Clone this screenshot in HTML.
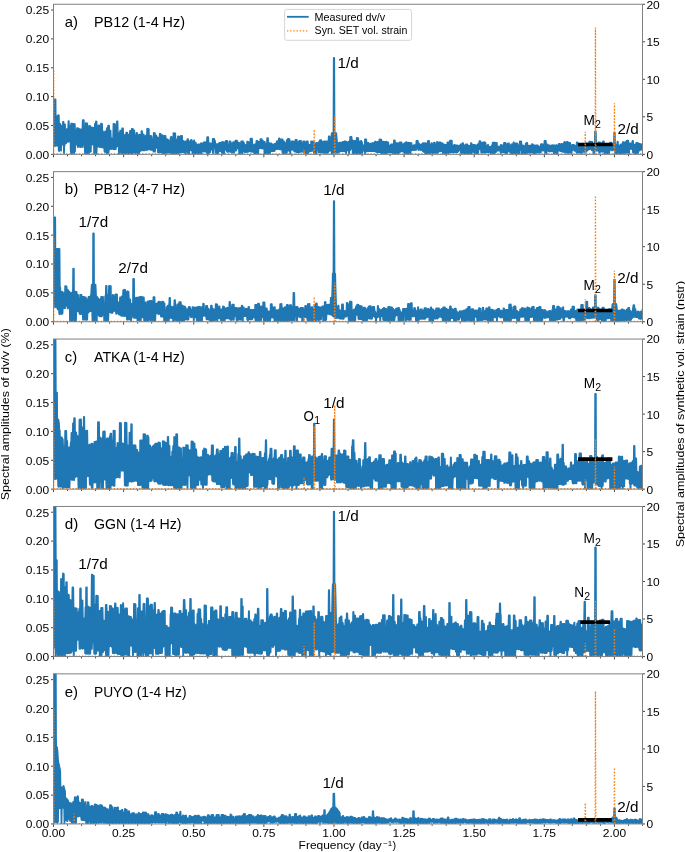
<!DOCTYPE html><html><head><meta charset="utf-8"><style>html,body{margin:0;padding:0;background:#fff;}svg{display:block;will-change:transform;}text{font-family:"Liberation Sans",sans-serif;fill:#000;}</style></head><body>
<svg width="685" height="852" viewBox="0 0 685 852">
<defs>
<clipPath id="c0"><rect x="53.50" y="4.25" width="589.00" height="150.10"/></clipPath>
<clipPath id="c1"><rect x="53.50" y="171.65" width="589.00" height="150.10"/></clipPath>
<clipPath id="c2"><rect x="53.50" y="339.05" width="589.00" height="150.10"/></clipPath>
<clipPath id="c3"><rect x="53.50" y="506.45" width="589.00" height="150.10"/></clipPath>
<clipPath id="c4"><rect x="53.50" y="673.85" width="589.00" height="150.10"/></clipPath>
</defs>
<g clip-path="url(#c0)">
<path d="M53.5,135.1 53.8,99.5 55.5,99.5 55.8,135.4 56.0,135.3 56.2,128.3 56.5,128.2 56.8,128.0 57.0,127.9 57.2,127.7 57.5,115.8 57.8,115.6 58.0,115.5 58.2,115.4 58.5,115.3 58.8,115.2 59.0,124.3 59.2,124.2 59.5,124.2 59.8,124.1 60.0,124.0 60.2,123.9 60.5,126.0 60.8,125.9 61.0,125.9 61.2,125.8 61.5,134.8 62.8,134.8 63.0,122.0 63.5,122.0 63.8,137.5 64.5,137.5 64.8,124.3 65.0,124.3 65.2,132.4 65.8,132.5 66.0,129.4 66.5,129.4 66.8,129.2 68.2,129.3 68.5,121.2 68.8,121.2 69.0,126.7 69.5,126.8 69.8,127.1 70.5,127.2 70.8,125.6 71.0,125.6 71.2,123.6 72.2,123.7 72.5,125.4 73.0,125.5 73.2,124.0 74.8,124.1 75.0,131.1 76.8,131.2 77.0,128.1 78.5,128.3 78.8,129.0 80.0,129.1 80.2,134.9 81.5,135.0 81.8,129.2 82.5,129.3 82.8,120.1 83.8,120.2 84.0,134.1 85.5,134.2 85.8,123.2 87.2,123.3 87.5,131.8 89.0,131.9 89.2,125.9 90.0,126.0 90.2,127.5 91.0,127.5 91.2,127.3 92.2,127.4 92.5,128.2 93.0,128.3 93.2,127.8 94.8,128.0 95.0,123.7 95.8,123.8 96.0,121.5 96.5,121.6 96.8,131.0 98.2,131.1 98.5,125.5 100.0,125.7 100.2,135.4 100.8,135.5 101.0,123.7 102.0,123.8 102.2,131.3 103.0,131.4 103.2,134.8 104.8,134.9 105.0,131.5 106.8,131.6 107.0,128.2 108.0,128.3 108.2,125.6 109.0,125.6 109.2,130.5 110.5,130.7 110.8,138.4 111.8,138.4 112.0,138.8 113.2,138.9 113.5,123.9 115.0,124.1 115.2,132.6 116.0,132.7 116.2,128.8 116.8,128.8 117.0,121.3 117.5,121.4 117.8,135.6 119.0,135.7 119.2,132.9 120.0,133.0 120.2,130.6 121.2,130.7 121.5,137.2 122.0,137.2 122.2,128.4 123.0,128.5 123.2,134.9 125.0,135.1 125.2,136.3 126.0,136.3 126.2,132.6 127.2,132.7 127.5,134.3 128.0,134.4 128.2,135.4 129.0,135.5 129.2,135.5 129.8,135.6 130.0,130.9 131.0,131.0 131.2,134.4 131.5,134.4 131.8,128.9 132.8,129.0 133.0,130.3 134.2,130.5 134.5,136.1 136.2,136.3 136.5,132.9 137.0,133.0 137.2,136.8 138.8,137.0 139.0,134.6 140.2,134.9 140.5,139.4 141.2,139.6 141.5,131.1 141.8,131.1 142.0,131.2 142.2,139.5 143.0,139.6 143.2,134.5 143.8,134.6 144.0,136.4 145.5,136.6 145.8,135.7 147.0,135.9 147.2,128.7 147.5,128.8 147.8,128.9 148.0,128.9 148.2,129.0 148.5,129.1 148.8,129.1 149.0,138.1 150.2,138.3 150.5,136.0 151.5,136.2 151.8,140.2 153.5,140.5 153.8,132.9 154.0,132.9 154.2,133.0 154.5,133.0 154.8,133.1 155.0,135.2 155.2,135.2 155.5,135.3 155.8,135.3 156.0,135.4 156.2,135.4 156.5,136.8 157.0,136.9 157.2,138.2 158.2,138.3 158.5,138.0 159.5,138.2 159.8,133.7 160.0,133.8 160.2,133.8 160.5,133.9 160.8,134.8 161.0,134.9 161.2,134.9 161.5,135.0 161.8,135.1 162.0,135.1 162.2,135.2 162.5,139.8 163.8,140.0 164.0,135.7 164.2,135.8 164.5,135.8 164.8,135.9 165.0,135.9 165.2,136.0 165.5,136.0 165.8,143.8 166.2,143.8 166.5,138.9 166.8,138.9 167.0,139.9 168.2,140.0 168.5,141.2 169.2,141.3 169.5,143.5 170.2,143.6 170.5,138.3 170.8,138.4 171.0,136.8 171.5,136.9 171.8,144.4 173.2,144.5 173.5,133.2 175.2,133.5 175.5,139.9 176.2,140.0 176.5,139.7 177.8,139.9 178.0,136.5 179.8,136.8 180.0,140.6 180.5,140.6 180.8,135.8 182.0,136.0 182.2,142.6 182.8,142.6 183.0,141.0 183.8,141.1 184.0,143.2 185.2,143.3 185.5,141.5 186.2,141.6 186.5,141.1 187.2,141.2 187.5,139.2 188.0,139.2 188.2,141.3 189.8,141.4 190.0,146.1 190.8,146.2 191.0,140.0 191.8,140.1 192.0,142.0 193.8,142.2 194.0,140.4 194.2,140.4 194.5,143.4 194.8,143.4 195.0,142.7 195.8,142.7 196.0,145.0 197.8,145.0 198.0,144.3 200.8,144.4 201.0,143.1 201.2,143.1 201.5,143.8 202.0,143.8 202.2,143.5 203.8,143.6 204.0,142.2 205.8,142.3 206.0,144.9 206.5,144.9 206.8,141.2 207.0,141.2 207.2,137.2 208.2,137.2 208.5,143.4 210.2,143.5 210.5,143.3 211.0,143.3 211.2,144.9 212.5,145.0 212.8,138.8 214.2,138.9 214.5,140.8 215.0,140.8 215.2,144.3 216.0,144.3 216.2,144.1 217.0,144.1 217.2,144.2 218.0,144.2 218.2,145.4 219.0,145.4 219.2,142.8 220.8,142.9 221.0,142.7 222.0,142.7 222.2,141.9 223.0,141.9 223.2,143.4 224.2,143.4 224.5,142.4 225.0,142.3 225.2,143.2 225.5,143.2 225.8,141.0 227.2,141.0 227.5,145.2 228.5,145.2 228.8,145.3 229.2,145.2 229.5,141.5 230.5,141.5 230.8,144.6 231.0,144.6 231.2,143.4 232.0,143.4 232.2,145.2 233.0,145.2 233.2,142.1 234.8,142.1 235.0,142.0 235.2,142.0 235.5,140.7 237.0,140.7 237.2,142.4 238.2,142.4 238.5,142.6 239.0,142.6 239.2,145.7 240.5,145.7 240.8,143.5 241.0,143.5 241.2,141.4 243.0,141.4 243.2,143.0 244.0,143.0 244.2,145.5 245.5,145.5 245.8,144.8 247.0,144.7 247.2,141.7 247.8,141.7 248.0,142.2 248.8,142.2 249.0,145.4 250.2,145.4 250.5,138.7 252.0,138.7 252.2,145.4 254.0,145.4 254.2,144.4 255.5,144.4 255.8,144.5 256.2,144.5 256.5,140.9 257.5,140.9 257.8,142.2 258.5,142.2 258.8,142.0 260.2,142.0 260.5,139.2 261.8,139.2 262.0,142.6 262.5,142.6 262.8,141.0 263.0,141.0 263.2,142.0 264.8,142.0 265.0,146.6 265.8,146.6 266.0,144.2 267.0,144.1 267.2,138.2 268.0,138.2 268.2,143.2 269.5,143.1 269.8,145.4 270.5,145.4 270.8,143.5 271.5,143.5 271.8,144.6 274.2,144.6 274.5,143.8 275.5,143.8 275.8,143.9 276.0,143.9 276.2,142.9 276.8,142.9 277.0,141.2 278.8,141.2 279.0,138.4 279.5,138.4 279.8,142.4 281.0,142.4 281.2,139.3 282.5,139.3 282.8,141.5 284.0,141.4 284.2,142.9 284.8,142.9 285.0,143.1 286.5,143.1 286.8,140.2 287.5,140.2 287.8,139.0 289.2,139.0 289.5,140.4 289.8,140.4 290.0,145.3 291.5,145.3 291.8,141.4 293.2,141.4 293.5,143.6 294.2,143.6 294.5,142.0 295.2,141.9 295.5,140.0 296.8,140.0 297.0,144.1 297.5,144.1 297.8,143.4 298.5,143.3 298.8,141.3 299.2,141.3 299.5,141.0 301.0,140.9 301.2,144.3 302.0,144.3 302.2,143.3 303.0,143.3 303.2,141.5 304.5,141.4 304.8,145.0 306.2,144.9 306.5,141.5 307.8,141.5 308.0,144.6 308.2,144.6 308.5,144.9 310.0,144.8 310.2,145.7 311.0,145.7 311.2,141.4 312.5,141.4 312.8,142.1 314.0,142.1 314.2,144.5 315.8,144.5 316.0,143.0 317.5,142.9 317.8,143.2 319.0,143.2 319.2,141.4 319.8,141.3 320.0,140.1 321.2,140.1 321.5,141.4 322.0,141.4 322.2,142.1 323.8,142.1 324.0,141.3 325.5,141.3 325.8,141.8 326.2,141.8 326.5,141.4 327.0,141.4 327.2,142.6 328.5,142.6 328.8,136.5 329.5,136.5 329.8,138.1 331.2,138.1 331.5,136.2 331.8,133.1 333.5,133.1 333.8,57.9 334.2,57.9 334.5,133.1 336.2,133.1 336.5,136.9 336.8,139.8 337.0,142.1 337.2,142.2 337.5,143.1 339.0,143.1 339.2,142.6 340.8,142.6 341.0,144.5 342.2,144.5 342.5,142.0 343.2,142.0 343.5,145.0 344.2,145.0 344.5,141.3 345.8,141.3 346.0,141.9 346.8,141.9 347.0,142.3 348.5,142.3 348.8,141.7 350.0,141.8 350.2,137.0 351.5,137.0 351.8,140.2 352.8,140.3 353.0,141.6 354.2,141.6 354.5,140.9 356.0,141.0 356.2,144.3 356.5,144.3 356.8,138.0 358.2,138.1 358.5,143.4 359.0,143.4 359.2,141.7 359.8,141.7 360.0,142.2 360.8,142.3 361.0,140.8 361.2,140.9 361.5,142.1 362.0,142.1 362.2,145.4 363.2,145.4 363.5,145.5 364.8,145.6 365.0,139.3 366.2,139.4 366.5,143.9 367.0,143.9 367.2,142.9 368.5,143.0 368.8,145.1 369.0,145.1 369.2,143.9 370.8,144.0 371.0,143.5 372.5,143.5 372.8,143.0 373.2,143.0 373.5,143.8 374.8,143.8 375.0,141.6 375.8,141.7 376.0,143.6 377.2,143.6 377.5,141.8 378.5,141.9 378.8,142.3 379.2,142.3 379.5,139.5 381.2,139.6 381.5,141.5 383.0,141.6 383.2,143.5 383.5,143.5 383.8,142.0 384.5,142.0 384.8,144.7 385.8,144.7 386.0,141.6 386.5,141.6 386.8,145.3 387.2,145.3 387.5,142.4 388.2,142.4 388.5,146.4 389.2,146.4 389.5,145.6 390.8,145.6 391.0,144.5 392.0,144.5 392.2,144.3 393.8,144.3 394.0,140.4 394.8,140.4 395.0,143.9 395.2,143.9 395.5,146.3 395.8,146.3 396.0,143.1 397.5,143.2 397.8,143.7 398.5,143.7 398.8,144.2 399.2,144.2 399.5,142.5 400.2,142.5 400.5,142.3 401.5,142.3 401.8,146.6 402.5,146.6 402.8,144.3 404.0,144.3 404.2,143.3 405.2,143.3 405.5,142.8 405.8,142.8 406.0,142.1 406.5,142.1 406.8,144.7 408.0,144.7 408.2,142.7 409.2,142.8 409.5,144.4 409.8,144.4 410.0,143.0 411.5,143.1 411.8,146.1 413.5,146.1 413.8,145.2 416.2,145.2 416.5,140.9 417.8,141.0 418.0,143.2 418.8,143.2 419.0,144.5 420.0,144.5 420.2,144.6 421.2,144.6 421.5,144.3 422.5,144.3 422.8,143.1 423.5,143.1 423.8,144.3 424.5,144.3 424.8,143.2 426.5,143.3 426.8,144.4 427.8,144.4 428.0,140.8 429.0,140.8 429.2,145.2 430.2,145.2 430.5,144.3 431.2,144.4 431.5,143.2 432.0,143.2 432.2,145.7 433.8,145.7 434.0,142.6 434.8,142.6 435.0,144.4 436.2,144.4 436.5,147.0 436.8,147.0 437.0,142.0 437.2,142.0 437.5,143.9 438.5,143.9 438.8,142.5 440.5,142.5 440.8,145.2 441.5,145.2 441.8,143.2 442.5,143.2 442.8,144.4 443.8,144.4 444.0,144.7 445.0,144.7 445.2,145.0 446.2,145.0 446.5,145.3 447.2,145.4 447.5,142.4 449.0,142.4 449.2,143.2 449.8,143.2 450.0,140.6 451.8,140.6 452.0,148.1 453.2,148.1 453.5,145.4 454.0,145.4 454.2,144.9 455.0,144.9 455.2,145.7 456.0,145.7 456.2,145.3 457.5,145.3 457.8,147.8 458.5,147.8 458.8,146.0 460.2,146.0 460.5,144.5 462.2,144.5 462.5,143.1 463.0,143.1 463.2,145.0 463.8,145.0 464.0,146.4 465.5,146.4 465.8,144.3 467.2,144.4 467.5,145.7 469.0,145.7 469.2,146.0 470.8,146.0 471.0,143.1 471.5,143.1 471.8,146.1 472.8,146.1 473.0,144.8 474.8,144.8 475.0,145.4 477.5,145.5 477.8,144.2 479.2,144.2 479.5,141.2 480.2,141.2 480.5,143.3 481.0,143.3 481.2,142.7 482.5,142.7 482.8,145.5 483.8,145.5 484.0,142.1 484.8,142.1 485.0,143.0 485.5,143.0 485.8,146.2 487.5,146.2 487.8,144.9 488.2,144.9 488.5,147.2 489.5,147.2 489.8,146.9 491.5,146.9 491.8,145.5 492.5,145.5 492.8,142.7 494.2,142.7 494.5,142.6 495.0,142.6 495.2,144.4 495.8,144.4 496.0,142.9 496.8,142.9 497.0,146.6 498.5,146.6 498.8,146.7 500.5,146.7 500.8,144.9 501.2,144.9 501.5,146.9 503.0,146.9 503.2,144.8 503.8,144.8 504.0,143.0 505.5,143.0 505.8,145.6 507.2,145.6 507.5,143.6 507.8,143.6 508.0,143.5 509.0,143.5 509.2,146.2 510.5,146.2 510.8,145.4 511.0,145.4 511.2,144.3 512.5,144.3 512.8,145.3 513.2,145.3 513.5,142.4 513.8,142.4 514.0,143.6 515.2,143.6 515.5,143.5 517.2,143.5 517.5,145.1 518.2,145.1 518.5,147.6 519.5,147.6 519.8,141.3 521.2,141.3 521.5,145.4 523.0,145.4 523.2,146.6 523.8,146.6 524.0,146.1 525.5,146.1 525.8,143.6 526.2,143.6 526.5,143.0 527.2,143.0 527.5,146.4 528.8,146.4 529.0,145.7 531.8,145.7 532.0,144.2 532.5,144.2 532.8,145.2 534.2,145.2 534.5,145.6 535.8,145.6 536.0,145.4 537.8,145.4 538.0,146.4 539.0,146.4 539.2,147.4 540.8,147.4 541.0,144.1 542.2,144.1 542.5,145.7 542.8,145.7 543.0,144.7 543.2,144.7 543.5,147.0 544.2,147.0 544.5,141.0 545.8,141.0 546.0,146.5 546.2,146.5 546.5,144.3 547.5,144.3 547.8,145.4 549.5,145.4 549.8,146.4 551.0,146.4 551.2,145.5 552.2,145.5 552.5,145.1 553.0,145.1 553.2,145.5 553.8,145.5 554.0,145.4 555.0,145.4 555.2,147.6 556.0,147.6 556.2,145.1 556.8,145.1 557.0,145.9 558.5,145.9 558.8,144.0 559.8,144.0 560.0,144.9 561.2,144.9 561.5,144.0 562.0,143.9 562.2,144.2 563.5,144.2 563.8,143.6 564.0,143.6 564.2,142.1 564.8,142.0 565.0,142.9 565.8,142.9 566.0,142.9 566.5,142.9 566.8,142.0 567.8,142.0 568.0,144.2 568.5,144.2 568.8,143.0 570.2,143.0 570.5,147.1 572.0,147.1 572.2,144.8 574.0,144.8 574.2,146.8 575.2,146.8 575.5,145.8 576.5,145.8 576.8,142.3 577.5,142.3 577.8,144.3 578.5,144.3 578.8,144.3 579.5,144.2 579.8,145.2 581.0,145.2 581.2,144.2 582.0,144.2 582.2,144.9 583.8,144.9 584.0,145.2 585.2,145.2 585.5,143.5 587.0,143.5 587.2,145.8 587.8,145.8 588.0,144.1 589.0,144.1 589.2,141.6 590.2,141.6 590.5,141.8 592.2,141.8 592.5,143.9 593.0,143.9 593.2,144.3 594.8,144.3 595.0,131.3 595.8,131.3 596.0,139.5 596.2,144.7 597.2,144.7 597.5,146.0 597.8,146.7 598.0,146.7 598.2,142.5 599.8,142.5 600.0,142.6 600.8,142.6 601.0,145.4 602.2,145.4 602.5,144.8 602.8,144.8 603.0,141.5 603.8,141.5 604.0,145.1 605.0,145.1 605.2,146.4 606.8,146.4 607.0,145.4 608.5,145.4 608.8,144.1 609.8,144.1 610.0,142.7 611.5,142.6 611.8,146.2 612.2,146.2 612.5,145.5 612.8,145.4 613.2,145.4 613.5,144.1 614.0,144.1 614.2,133.0 614.8,133.0 615.0,144.8 616.0,144.8 616.2,145.2 617.2,145.1 617.5,141.7 617.8,141.7 618.0,145.3 619.2,145.3 619.5,146.2 620.5,146.2 620.8,144.4 621.2,144.4 621.5,145.8 622.5,145.8 622.8,142.2 624.0,142.2 624.2,144.3 625.5,144.3 625.8,142.0 626.5,142.0 626.8,140.7 628.2,140.6 628.5,143.2 629.0,143.2 629.2,143.7 630.2,143.7 630.5,143.5 632.2,143.5 632.5,140.8 633.0,140.8 633.2,145.1 634.2,145.1 634.5,144.7 636.0,144.7 636.2,143.0 637.8,143.0 638.0,143.7 639.2,143.7 639.5,146.9 639.8,146.9 640.0,144.1 641.2,144.1 641.5,144.8 641.8,144.8 642.0,144.7 642.5,144.7 642.5,149.5 641.5,149.6 641.2,149.2 640.0,149.2 639.8,150.6 639.5,150.6 639.2,149.0 638.2,149.0 638.0,154.3 634.8,154.3 634.5,152.5 634.2,152.7 634.0,152.7 633.8,152.8 633.5,152.5 633.2,152.7 633.0,152.5 632.8,148.1 632.5,148.5 632.2,148.9 632.0,148.9 631.8,149.0 631.5,148.9 630.5,148.9 630.2,149.0 629.2,149.0 629.0,154.3 628.8,148.8 628.5,148.8 628.2,148.4 628.0,148.5 627.8,148.9 627.5,148.5 627.2,152.7 627.0,152.7 626.8,152.8 626.5,152.7 626.2,152.7 626.0,152.7 625.8,152.5 625.5,152.6 625.2,150.0 625.0,150.3 624.8,154.3 624.5,150.1 624.2,150.3 624.0,150.4 623.8,150.2 623.5,150.7 623.2,150.6 623.0,153.2 622.8,153.2 622.5,153.1 622.2,153.2 621.0,153.3 620.8,153.2 620.5,153.5 620.2,154.3 620.0,153.4 619.0,153.3 618.8,153.4 618.5,153.4 618.2,153.5 617.8,153.4 617.5,153.3 617.2,153.4 616.8,153.4 616.5,153.3 615.5,153.4 615.2,153.4 615.0,149.6 614.8,149.4 614.5,149.8 614.2,149.4 614.0,149.7 613.8,149.7 613.5,149.3 613.2,150.3 611.8,150.3 611.5,149.9 611.2,149.5 611.0,149.9 610.8,149.1 610.5,149.7 610.2,149.5 610.0,149.6 609.8,149.8 609.5,149.6 609.2,153.5 609.0,153.3 608.8,153.3 608.5,153.4 608.2,153.5 608.0,153.4 607.2,153.4 607.0,153.5 606.8,153.5 606.5,153.4 606.0,153.4 605.8,153.3 605.5,153.3 605.2,150.6 605.0,154.3 604.8,150.5 604.5,154.3 604.2,151.1 604.0,150.8 603.8,150.7 603.5,150.6 603.2,150.8 603.0,151.0 602.8,150.5 602.5,151.5 602.2,151.7 602.0,151.4 601.8,151.6 601.5,151.5 601.2,151.6 601.0,151.4 600.8,151.6 600.5,151.6 600.2,151.7 600.0,151.4 599.8,151.3 599.5,154.3 599.2,151.3 599.0,151.6 598.8,148.4 598.5,149.3 598.2,148.4 598.0,150.5 596.2,150.5 596.0,148.4 595.8,149.2 595.5,149.9 595.2,150.2 595.0,150.2 594.8,149.9 594.5,149.5 594.2,149.7 594.0,154.3 593.8,150.1 593.5,154.3 593.2,149.7 593.0,150.2 592.8,150.0 592.5,150.2 592.2,150.2 592.0,149.7 591.8,150.2 591.5,148.4 591.2,149.1 591.0,148.3 590.8,148.6 590.5,148.7 590.2,148.6 590.0,149.0 589.8,148.6 589.5,149.2 589.2,148.4 589.0,149.2 588.8,149.4 588.5,149.2 588.0,149.2 587.8,150.1 587.2,150.1 587.0,149.3 586.8,148.9 586.5,151.7 586.2,151.5 586.0,151.6 585.8,151.8 585.5,151.6 585.2,151.8 585.0,151.7 584.8,151.8 584.2,151.8 584.0,151.9 583.8,151.8 583.5,151.8 583.2,151.8 583.0,151.6 582.5,151.6 582.2,151.8 582.0,151.7 581.8,151.6 581.5,154.3 581.2,151.8 581.0,151.6 580.8,151.7 580.5,152.8 580.2,152.8 580.0,152.7 579.8,152.6 579.5,152.5 579.2,152.7 579.0,152.7 578.8,152.8 578.5,152.6 578.2,152.6 578.0,152.5 577.8,152.7 577.5,152.8 577.2,152.7 577.0,152.8 576.8,152.8 576.5,152.7 576.2,150.4 576.0,150.3 575.5,150.3 575.2,150.6 575.0,150.9 574.8,150.6 574.2,150.6 574.0,149.6 572.2,149.6 572.0,150.7 571.8,150.7 571.5,154.3 571.2,150.7 570.5,150.7 570.2,148.7 570.0,152.5 569.8,152.5 569.5,152.5 569.2,152.4 569.0,152.2 568.8,152.5 568.5,152.3 568.2,152.3 568.0,152.4 567.8,154.3 567.5,152.3 567.2,152.3 567.0,152.4 566.8,152.3 566.5,152.5 566.2,152.2 566.0,152.4 565.8,152.6 565.5,152.3 565.2,152.5 565.0,152.4 564.8,151.9 564.5,151.6 564.2,151.6 564.0,151.9 563.8,151.9 563.5,151.6 563.2,151.8 563.0,151.5 562.8,151.9 562.5,151.9 562.2,151.5 562.0,150.7 561.8,150.9 561.5,150.8 561.2,150.6 561.0,151.0 560.8,150.9 560.5,151.0 560.2,150.7 560.0,150.9 559.8,150.5 559.5,150.6 559.2,150.6 559.0,150.3 558.8,150.6 558.5,150.5 558.2,150.4 558.0,150.8 557.8,150.4 557.5,153.4 557.0,153.4 556.8,153.3 556.5,153.4 556.2,153.4 556.0,153.4 555.8,153.3 555.5,153.4 555.2,153.4 555.0,153.3 554.8,153.4 554.5,153.5 554.2,153.4 554.0,153.5 553.8,151.4 553.5,151.4 553.2,151.1 553.0,151.3 552.8,150.9 552.5,151.3 552.2,150.9 552.0,151.0 551.8,151.2 551.5,150.9 551.2,151.0 550.8,151.0 550.5,151.3 550.2,151.0 550.0,151.0 549.8,151.2 549.5,151.5 549.2,151.4 549.0,151.0 548.8,151.1 548.5,151.1 548.2,149.9 547.8,149.9 547.5,149.7 547.2,149.3 546.8,149.3 546.5,154.3 546.2,150.6 546.0,150.4 545.8,150.0 545.5,149.8 545.2,154.3 545.0,150.3 544.8,150.4 544.5,150.6 544.2,150.7 543.5,150.7 543.2,150.1 543.0,149.9 542.8,150.1 542.5,150.6 542.2,150.2 542.0,150.0 541.8,150.2 541.5,150.4 541.2,150.4 541.0,149.9 540.8,152.5 540.5,152.6 540.2,152.6 540.0,152.4 539.8,152.4 539.5,152.5 539.2,152.6 539.0,152.6 538.8,152.7 538.5,152.6 538.2,152.5 538.0,152.5 537.8,152.4 537.5,152.6 537.2,152.7 537.0,152.6 536.8,152.6 536.5,152.8 536.2,152.7 536.0,152.5 535.8,152.6 535.5,152.5 535.2,153.4 534.0,153.3 533.8,154.3 533.5,152.5 533.0,152.5 532.8,152.4 532.5,152.4 532.2,152.6 532.0,152.5 531.5,152.4 531.2,152.7 531.0,152.6 530.8,152.5 530.5,152.7 530.0,152.6 529.8,152.7 529.5,152.7 529.2,152.6 529.0,152.5 528.8,152.7 528.5,152.6 528.2,150.4 528.0,150.4 527.5,150.4 527.2,150.1 527.0,150.0 526.8,154.3 526.5,154.2 522.0,154.2 521.8,149.9 521.5,149.9 521.2,149.5 521.0,149.7 520.8,149.8 520.5,149.5 520.2,149.4 520.0,149.6 519.8,149.9 519.5,154.3 515.5,154.3 515.2,152.8 515.0,152.6 514.8,152.7 514.5,152.9 514.2,152.8 514.0,152.7 513.8,152.8 513.5,154.3 510.5,154.3 510.2,151.0 510.0,151.3 509.8,151.5 509.5,151.3 509.2,151.1 509.0,151.4 508.8,151.0 508.5,151.2 508.2,151.1 508.0,151.0 507.8,151.1 507.5,151.5 507.2,153.2 507.0,153.3 506.8,153.2 506.5,153.3 506.2,153.2 506.0,153.4 505.8,153.3 505.5,152.2 505.2,152.4 505.0,152.4 504.8,152.0 504.5,152.1 504.2,152.0 504.0,152.0 503.8,152.3 503.5,152.1 503.2,152.3 503.0,152.1 502.8,152.1 502.5,152.1 502.2,152.0 502.0,152.0 501.8,152.1 501.5,152.1 501.2,152.2 501.0,152.0 500.8,154.3 500.5,150.5 498.8,150.5 498.5,150.5 497.0,150.5 496.8,148.6 496.5,149.0 496.2,151.7 496.0,152.0 495.8,151.5 495.5,151.8 495.2,151.9 495.0,151.7 494.8,151.8 494.5,153.9 494.2,154.0 491.8,154.0 491.5,153.9 490.8,154.0 490.5,151.9 490.2,151.8 490.0,151.8 489.8,152.1 489.5,152.1 489.2,151.7 489.0,152.0 488.8,152.1 488.5,151.8 488.2,152.1 488.0,151.8 487.8,152.1 487.5,152.0 487.2,152.1 487.0,152.1 486.8,152.0 486.5,151.9 486.2,152.1 486.0,152.7 485.8,152.7 485.5,152.5 485.2,152.5 485.0,152.7 484.8,152.5 484.5,152.6 484.2,152.7 484.0,152.7 483.8,152.7 483.5,152.6 483.2,152.7 483.0,152.6 482.8,152.6 482.5,152.5 482.2,152.5 482.0,152.4 481.8,152.4 481.5,152.6 481.2,152.6 481.0,148.8 480.5,148.8 480.2,147.8 480.0,147.8 479.8,148.0 479.5,148.0 479.2,149.3 478.5,149.3 478.2,152.9 478.0,153.1 477.8,152.9 477.5,153.0 477.2,152.9 477.0,153.0 476.8,152.9 476.5,153.0 476.2,153.1 476.0,154.3 475.8,153.1 475.5,153.0 475.2,152.9 475.0,153.0 474.8,153.1 474.5,153.1 474.2,152.9 474.0,151.7 473.8,151.6 473.5,151.7 473.2,151.4 473.0,151.7 472.8,151.3 472.5,151.8 472.2,151.6 472.0,151.4 471.8,151.5 471.5,151.4 471.2,154.3 471.0,151.4 470.8,151.7 470.5,153.3 470.2,153.2 470.0,153.3 469.8,153.2 469.5,153.2 469.0,153.3 468.8,153.1 468.5,153.1 468.2,154.2 467.2,154.2 467.0,154.3 466.8,154.2 465.0,154.2 464.8,152.9 464.5,153.0 464.2,152.9 464.0,153.1 463.8,153.0 463.5,152.9 463.2,153.0 463.0,152.9 462.5,152.9 462.2,153.0 462.0,153.1 461.8,152.9 461.5,152.9 461.2,153.0 461.0,152.9 460.8,149.7 460.5,149.8 460.2,150.2 458.8,150.2 458.5,151.1 457.8,151.1 457.5,152.2 457.2,152.0 457.0,151.9 456.8,152.1 456.5,152.1 456.2,152.0 456.0,152.0 455.8,152.1 455.5,152.3 455.2,152.0 455.0,152.3 454.8,152.1 454.5,152.0 454.2,152.0 454.0,152.2 453.5,152.2 453.2,152.3 453.0,152.4 452.8,152.1 452.5,152.1 452.2,152.4 452.0,152.2 451.8,152.3 451.5,152.1 451.2,152.0 451.0,152.2 450.8,152.4 450.5,152.1 450.2,152.3 450.0,152.3 449.8,152.2 449.5,152.3 449.2,152.4 449.0,152.2 448.8,152.4 448.5,152.2 448.2,153.8 447.8,153.8 447.5,153.8 447.2,153.8 447.0,153.7 446.8,153.8 446.2,153.8 446.0,153.8 445.5,153.8 445.2,153.8 445.0,153.7 444.8,153.8 444.5,153.8 444.2,153.7 443.5,153.8 443.2,153.7 443.0,153.8 442.8,150.7 442.5,151.0 442.2,151.1 442.0,151.1 441.8,150.9 441.5,150.7 441.2,151.0 441.0,151.0 440.8,151.1 440.5,151.0 440.2,151.3 440.0,150.8 439.8,151.1 439.5,151.0 439.2,151.3 439.0,151.1 438.8,151.0 438.5,151.2 438.2,150.7 438.0,152.7 437.8,152.8 437.5,152.9 437.2,152.8 437.0,152.7 436.8,152.8 436.5,152.9 436.2,152.7 436.0,152.9 435.8,152.7 435.5,152.8 435.2,152.8 435.0,152.9 434.8,152.9 434.5,152.8 434.2,152.9 434.0,152.7 433.8,153.0 433.5,152.8 433.2,152.9 433.0,152.8 432.8,152.9 432.5,153.0 432.2,152.8 431.5,152.8 431.2,152.9 431.0,152.9 430.5,152.9 430.2,153.0 430.0,152.8 429.8,152.9 429.5,152.9 429.2,152.8 429.0,153.6 427.8,153.6 427.5,153.7 427.0,153.6 426.8,153.6 426.5,153.7 425.2,153.6 425.0,151.2 424.8,151.3 424.5,151.5 424.2,151.7 424.0,151.6 423.8,151.8 423.5,151.5 423.2,151.3 423.0,151.4 422.8,150.0 422.5,149.6 422.2,150.0 422.0,149.3 421.8,149.6 421.5,149.3 421.2,149.9 421.0,150.0 420.8,149.5 420.5,149.8 420.2,149.5 419.5,149.4 419.2,149.6 419.0,149.6 418.8,149.9 418.5,150.1 418.2,148.8 418.0,148.8 417.8,147.8 417.5,147.7 416.8,147.6 416.5,148.0 416.2,149.8 416.0,149.8 415.8,150.0 415.5,149.8 415.2,149.9 415.0,149.8 413.8,149.8 413.5,150.2 411.8,150.2 411.5,149.3 411.2,149.3 411.0,149.2 410.8,149.3 410.5,154.0 407.5,154.0 407.2,154.3 407.0,154.0 406.8,154.0 406.5,154.0 406.2,154.0 406.0,154.0 404.8,154.0 404.5,151.8 404.0,151.8 403.8,151.9 403.5,151.8 403.2,151.8 403.0,151.0 402.8,151.0 402.5,151.2 402.2,151.2 402.0,150.9 401.8,151.2 401.2,151.2 401.0,151.5 400.8,151.4 400.2,151.4 400.0,152.0 399.8,152.1 399.5,152.3 399.2,152.1 399.0,152.4 398.8,152.2 398.5,152.3 398.2,152.2 398.0,153.9 397.8,153.8 397.0,153.8 396.8,153.9 396.5,154.3 396.2,153.9 396.0,153.8 395.8,153.9 394.8,153.9 394.5,153.8 394.2,153.9 394.0,153.8 393.5,153.8 393.2,153.9 392.8,153.9 392.5,152.1 392.2,152.3 392.0,152.5 391.8,152.1 391.5,152.3 391.2,152.2 391.0,152.4 390.8,152.4 390.5,152.1 389.8,152.1 389.5,152.3 389.2,152.2 389.0,152.3 388.8,152.2 388.5,152.1 388.2,152.1 388.0,152.5 387.8,152.2 387.5,152.5 387.2,152.1 387.0,152.1 386.8,152.4 386.5,152.5 386.2,153.8 385.5,153.8 385.2,153.8 385.0,153.8 384.5,153.8 384.2,153.7 384.0,153.8 383.8,153.8 382.0,153.7 381.8,153.8 381.5,153.8 381.2,151.8 381.0,152.0 380.2,152.0 380.0,152.1 379.8,152.1 379.5,152.0 379.0,152.0 378.8,151.8 378.5,151.9 378.2,152.1 378.0,151.8 377.8,151.8 377.5,152.0 377.2,152.1 377.0,152.2 376.8,152.1 376.5,151.8 376.2,151.9 376.0,151.8 375.8,151.8 375.5,151.0 375.2,150.8 375.0,150.8 374.8,151.1 374.5,150.8 374.2,150.7 374.0,150.7 373.8,151.1 373.5,150.7 373.2,151.1 373.0,150.6 372.8,151.1 372.5,151.0 372.2,151.1 372.0,150.8 371.8,150.6 371.5,151.0 371.2,150.6 371.0,150.6 370.8,151.1 370.5,150.7 370.2,150.8 370.0,150.7 369.8,151.1 369.5,150.7 369.2,151.0 369.0,151.1 368.8,151.2 368.5,150.7 368.2,150.7 368.0,151.1 367.8,151.2 367.5,151.1 367.2,151.3 367.0,151.2 366.8,150.7 366.5,151.1 366.2,151.1 366.0,151.1 365.8,150.8 365.5,151.1 365.2,154.3 365.0,154.3 364.8,150.8 364.5,151.1 364.2,150.9 364.0,150.0 363.8,150.1 363.5,150.3 363.2,149.9 363.0,150.5 362.8,150.5 362.5,150.1 362.2,153.4 362.0,153.2 361.8,153.2 361.5,153.3 361.2,154.3 361.0,153.3 360.8,153.2 360.5,153.4 360.2,153.3 360.0,153.4 359.8,153.3 359.5,153.3 359.2,153.2 359.0,153.3 358.8,153.3 358.5,153.2 358.2,153.2 358.0,153.3 357.8,153.2 357.5,153.9 356.2,153.9 356.0,153.8 355.8,153.9 355.2,153.9 355.0,153.8 354.8,153.8 354.5,154.3 352.8,154.3 352.5,148.2 352.2,148.2 352.0,148.1 351.8,148.7 351.5,148.4 351.2,148.1 351.0,147.8 350.8,148.9 350.5,148.8 350.2,148.4 350.0,150.4 349.8,150.1 349.5,150.3 349.2,150.2 349.0,154.3 348.8,150.4 348.5,150.3 348.2,149.9 348.0,150.4 347.8,150.4 347.5,150.1 347.2,150.5 347.0,150.4 346.8,150.3 346.5,150.1 346.2,150.3 346.0,154.3 345.8,150.5 345.5,150.9 345.2,151.0 345.0,151.1 344.8,151.3 344.5,150.7 344.2,150.7 344.0,150.8 343.8,150.8 343.5,151.0 343.2,151.2 343.0,151.1 342.8,150.8 342.5,151.1 342.2,151.3 342.0,151.0 341.8,151.0 341.5,150.9 341.2,150.9 341.0,150.9 340.8,151.0 340.5,151.3 340.2,151.0 340.0,150.8 339.8,151.4 339.5,151.4 339.2,151.1 339.0,151.1 338.8,152.6 338.5,152.5 338.2,152.6 338.0,152.5 337.8,152.7 337.5,152.8 337.2,152.5 337.0,152.8 336.8,152.6 336.5,152.6 336.2,152.8 336.0,152.5 335.8,152.7 335.5,152.6 335.2,152.5 335.0,154.3 331.8,154.3 331.5,150.5 331.2,150.8 331.0,150.5 330.8,150.3 330.5,150.4 330.2,150.4 330.0,150.5 329.8,150.3 329.5,151.0 329.2,150.5 329.0,150.3 328.8,150.7 328.5,150.8 328.2,150.7 328.0,152.9 327.8,152.8 327.5,152.8 327.2,153.0 327.0,152.8 326.8,152.9 326.5,152.8 326.2,152.9 326.0,153.0 325.8,152.9 325.0,152.9 324.8,152.8 324.5,152.9 324.2,152.8 324.0,153.0 323.8,152.6 323.5,152.5 323.2,152.3 323.0,152.5 322.8,152.6 322.5,152.5 322.2,152.5 322.0,152.6 321.8,152.4 321.5,152.5 321.2,152.3 321.0,152.3 320.8,152.4 320.5,152.5 320.2,152.4 320.0,152.3 319.8,152.4 319.5,152.6 319.2,152.4 318.8,152.4 318.5,152.3 318.2,149.0 318.0,148.8 317.8,148.8 317.5,148.9 317.2,148.6 316.8,148.6 316.5,148.8 316.2,154.3 314.0,154.3 313.8,150.9 313.5,151.0 313.2,150.4 313.0,150.8 312.8,150.5 312.5,150.6 312.2,150.5 312.0,150.8 311.8,150.4 311.5,150.5 311.2,151.0 311.0,151.0 310.8,150.7 310.5,150.8 310.2,151.0 310.0,151.0 309.8,150.4 309.5,150.4 309.2,150.5 309.0,150.8 308.8,151.0 308.5,153.2 308.2,153.2 308.0,153.1 307.8,153.1 307.5,153.2 307.2,153.3 307.0,153.2 306.8,153.2 306.5,153.1 306.2,153.2 306.0,153.1 305.8,153.2 305.5,153.1 305.2,153.1 305.0,151.9 304.8,151.6 304.5,151.5 304.2,151.5 304.0,151.9 303.8,151.5 303.5,151.5 303.2,151.8 303.0,151.6 302.8,151.8 302.5,151.5 302.2,151.7 302.0,151.7 301.8,151.7 301.5,151.7 301.0,151.7 300.8,151.6 300.5,151.6 300.2,151.8 300.0,152.1 299.8,152.4 299.5,152.2 299.2,152.3 299.0,152.3 298.2,152.3 298.0,152.4 297.8,152.2 297.5,152.4 297.2,152.2 297.0,152.2 296.8,152.4 296.5,152.4 296.2,151.5 296.0,151.1 295.8,151.3 295.5,151.4 295.2,151.2 295.0,151.2 294.8,151.5 294.5,151.6 294.2,151.1 294.0,149.8 293.8,149.2 293.5,149.8 293.2,149.6 293.0,149.3 292.8,149.7 292.5,149.4 292.2,149.2 292.0,149.6 291.8,149.0 291.5,149.8 291.0,149.8 290.8,149.9 290.5,149.8 290.2,154.3 290.0,150.6 289.8,150.3 289.5,150.4 289.2,150.2 289.0,150.2 288.8,150.1 288.5,150.7 288.2,150.2 288.0,150.6 287.8,149.9 287.5,149.9 287.2,150.4 287.0,150.6 286.8,153.1 286.5,153.1 286.2,153.0 286.0,154.3 285.8,153.1 285.5,153.0 285.0,153.0 284.8,153.0 284.5,152.9 284.0,152.9 283.8,153.1 283.5,153.0 283.2,153.0 283.0,152.9 282.8,153.0 282.5,153.0 282.2,149.1 281.8,149.0 281.5,149.2 281.2,148.5 281.0,149.3 280.8,149.3 280.5,148.9 280.2,148.8 280.0,148.5 279.8,149.3 279.5,148.5 279.2,148.4 279.0,148.5 278.8,149.0 278.5,148.9 278.2,148.4 278.0,148.6 277.8,148.7 277.5,148.8 277.2,148.6 277.0,149.0 276.8,148.9 276.5,148.8 276.2,148.9 276.0,149.2 275.8,149.1 275.5,149.3 275.2,149.1 274.8,149.1 274.5,151.0 274.2,150.5 274.0,150.7 273.8,150.6 273.5,151.0 273.2,150.7 273.0,150.4 272.8,151.0 272.5,150.9 272.2,151.1 272.0,151.0 271.8,151.1 271.5,150.8 271.2,150.6 271.0,150.7 270.8,151.0 270.5,150.5 270.2,150.6 270.0,154.3 264.5,154.3 264.2,148.2 263.2,148.2 263.0,148.1 262.8,147.7 262.5,148.5 262.0,148.5 261.8,147.4 261.5,147.6 261.2,147.8 261.0,148.1 260.8,147.0 260.5,147.6 260.2,148.2 258.8,148.2 258.5,148.3 258.2,153.3 258.0,153.2 257.8,153.2 257.5,153.4 257.2,153.3 256.8,153.3 256.5,153.3 256.2,153.4 256.0,153.4 255.8,153.3 255.0,153.4 254.8,153.3 254.5,153.4 254.2,151.7 254.0,151.6 253.8,151.6 253.5,151.7 253.2,151.9 253.0,151.9 252.8,151.7 252.5,151.6 252.2,151.9 252.0,151.8 251.8,151.7 251.5,151.6 251.2,151.5 251.0,151.6 250.8,151.5 250.5,151.1 250.2,150.9 250.0,150.8 249.8,150.8 249.5,151.3 249.2,150.9 249.0,151.1 248.8,151.1 248.5,150.9 248.2,151.8 248.0,151.9 247.8,151.8 247.5,151.7 247.2,151.9 246.8,151.9 246.5,152.0 246.2,151.8 246.0,152.0 245.8,151.8 245.5,151.9 245.2,151.8 245.0,151.8 244.8,152.0 244.5,151.9 244.2,151.8 244.0,150.4 243.8,149.9 243.5,150.1 243.2,149.9 243.0,150.1 242.8,150.1 242.5,150.4 242.2,154.3 241.2,154.3 241.0,154.3 240.8,154.3 239.2,154.3 239.0,148.5 238.5,148.5 238.2,148.4 237.2,148.4 237.0,148.5 236.8,148.7 236.5,148.4 236.2,150.3 236.0,150.5 235.8,150.7 235.5,150.7 235.2,150.4 234.8,150.4 234.5,151.0 234.2,152.4 234.0,152.4 233.8,152.5 233.5,152.3 233.2,152.5 233.0,152.6 232.8,152.5 232.5,152.4 232.2,152.6 232.0,152.2 231.8,152.3 231.5,151.7 231.2,151.7 231.0,151.4 230.8,151.8 230.2,151.8 230.0,151.8 229.8,151.7 229.5,151.5 228.8,151.5 228.5,151.4 228.2,151.8 228.0,151.7 227.8,151.7 227.5,151.9 227.2,151.4 227.0,151.5 226.8,149.6 226.5,149.2 226.2,149.4 226.0,149.1 225.8,149.0 225.5,149.5 225.2,149.7 225.0,149.3 224.8,149.6 224.5,148.8 224.2,153.1 224.0,153.0 223.8,154.3 223.5,153.1 223.2,152.9 223.0,153.0 222.8,152.9 222.2,152.9 222.0,153.1 221.8,152.9 221.5,150.9 221.2,150.6 221.0,150.7 220.5,150.6 220.2,151.1 220.0,150.4 219.8,150.5 219.5,151.1 219.2,150.9 219.0,150.4 218.8,150.5 218.5,150.8 218.2,153.2 218.0,153.2 217.8,153.3 217.5,153.1 217.2,153.2 217.0,153.3 216.8,153.1 216.5,153.2 216.0,153.1 215.8,153.3 215.5,153.1 215.2,149.3 215.0,147.6 214.5,147.6 214.2,146.6 213.2,146.6 213.0,154.3 212.8,146.6 212.5,149.7 211.2,149.6 211.0,148.8 210.5,148.8 210.2,152.1 210.0,151.9 209.8,152.1 209.5,152.0 209.2,151.9 209.0,152.0 208.8,154.3 208.5,151.8 207.5,151.8 207.2,154.3 207.0,151.9 206.8,152.1 206.5,152.0 206.2,151.2 206.0,151.0 205.8,151.2 205.5,151.5 205.2,151.2 205.0,151.3 204.8,151.5 204.5,151.2 204.2,151.4 204.0,151.1 203.8,151.5 203.5,151.1 203.2,151.0 203.0,151.1 202.8,151.2 202.5,151.4 202.2,151.2 202.0,149.1 201.8,149.1 201.5,154.3 201.2,148.7 201.0,148.7 200.8,149.4 200.2,149.4 200.0,153.4 199.8,153.4 199.5,153.4 198.8,153.4 198.5,153.5 198.2,153.4 197.0,153.4 196.8,153.5 196.5,153.5 196.2,153.4 196.0,154.3 195.8,153.5 195.5,153.4 195.2,153.9 193.8,153.9 193.5,153.8 192.5,153.9 192.2,148.2 192.0,148.2 191.8,147.4 191.5,147.8 191.2,147.2 191.0,147.6 190.8,150.3 190.0,150.2 189.8,147.9 189.2,147.9 189.0,154.1 187.8,154.1 187.5,151.0 187.2,151.1 187.0,150.6 186.8,150.8 186.5,150.9 186.2,150.9 186.0,150.8 185.8,150.8 185.5,154.3 185.2,151.1 185.0,151.1 184.8,152.3 184.5,152.1 184.2,152.3 184.0,151.9 183.8,152.1 183.5,152.1 183.2,152.0 183.0,152.0 182.8,152.1 182.5,152.2 182.2,152.0 182.0,152.1 181.8,151.9 181.5,152.3 181.2,152.3 181.0,152.1 180.8,151.9 180.5,151.9 180.2,151.7 180.0,152.0 179.8,151.6 179.5,152.1 179.2,151.9 179.0,153.1 178.5,153.1 178.2,153.2 177.8,153.3 177.5,153.1 177.2,153.2 177.0,153.1 176.8,153.2 176.5,153.1 176.0,153.1 175.8,153.2 175.5,154.3 175.2,153.2 175.0,153.2 174.8,153.3 174.5,153.2 174.2,153.1 174.0,153.0 173.8,153.2 173.5,153.6 173.2,153.5 173.0,153.5 172.8,153.6 172.5,153.6 172.2,153.6 172.0,153.6 171.8,152.5 171.5,154.3 171.2,152.7 171.0,152.7 170.8,152.4 170.5,152.4 170.2,152.7 170.0,152.4 169.8,152.6 169.5,152.5 169.2,152.5 169.0,152.6 168.5,152.6 168.2,152.4 168.0,152.5 167.8,152.7 167.5,152.5 167.2,152.4 167.0,152.5 166.8,152.6 166.5,152.4 166.2,152.5 166.0,152.4 165.8,153.7 163.8,153.7 163.5,153.8 163.0,153.8 162.8,154.3 162.5,152.2 162.2,152.2 162.0,152.3 161.8,152.1 161.5,152.2 161.2,152.3 161.0,152.2 160.5,152.3 160.2,152.5 160.0,152.4 159.8,152.1 159.5,152.3 159.2,152.1 159.0,152.3 158.8,152.3 158.5,152.1 158.2,152.3 158.0,152.3 157.8,147.4 157.5,147.0 157.2,147.3 157.0,147.9 156.8,147.5 156.5,147.8 156.2,147.6 156.0,147.1 155.8,147.4 155.5,146.7 155.2,147.3 155.0,151.6 154.8,151.5 154.5,151.6 154.2,151.4 154.0,151.5 153.8,151.7 153.5,151.6 153.2,149.3 153.0,150.0 152.8,149.6 152.5,149.1 152.2,149.8 152.0,149.4 151.8,149.5 151.5,149.8 151.2,149.7 151.0,149.9 150.8,149.2 150.5,149.5 150.2,149.3 150.0,149.5 149.8,149.3 149.5,146.3 149.0,146.2 148.8,143.4 148.5,141.9 148.2,143.0 148.0,149.5 147.8,149.4 147.5,149.8 147.2,149.9 147.0,149.2 146.8,150.1 146.5,149.7 146.2,146.9 146.0,147.4 145.8,146.8 145.5,146.7 145.2,147.3 145.0,146.6 144.8,150.4 144.5,150.1 144.2,149.8 144.0,150.4 143.8,150.3 143.5,149.8 143.2,150.2 143.0,150.0 142.8,150.3 142.5,150.1 141.5,150.0 141.2,150.5 141.0,150.0 140.8,150.7 140.5,150.6 140.2,150.2 140.0,150.4 139.8,151.5 139.5,151.0 139.2,151.0 139.0,154.3 138.8,151.5 138.5,151.3 138.2,151.3 138.0,151.4 137.8,151.2 137.5,151.3 137.2,151.1 137.0,154.3 136.8,151.2 136.5,151.0 136.2,152.0 136.0,151.9 135.8,152.1 135.5,154.3 135.2,151.9 135.0,151.9 134.8,152.0 134.5,151.9 134.2,151.9 134.0,152.1 133.8,151.9 133.5,152.1 133.2,152.0 133.0,153.4 132.8,154.3 132.5,153.4 132.2,153.2 132.0,153.3 131.8,153.3 131.2,153.3 131.0,153.2 130.8,153.4 130.5,153.4 130.2,153.2 130.0,153.3 129.8,153.3 129.5,153.2 129.2,153.2 129.0,153.2 128.8,153.2 128.5,153.2 128.2,153.9 127.5,153.9 127.2,153.9 127.0,154.0 126.0,153.9 125.8,153.9 125.5,153.9 123.5,153.9 123.2,153.9 123.0,152.4 122.8,152.4 122.5,152.5 122.2,152.1 122.0,152.4 121.8,152.3 121.5,154.3 121.2,152.1 121.0,152.4 120.8,152.1 120.5,152.3 120.2,152.2 120.0,145.7 119.8,145.1 119.5,146.3 119.2,145.6 119.0,154.3 118.8,146.1 118.5,145.4 118.2,146.3 118.0,145.3 117.8,145.6 117.5,146.0 117.2,146.3 117.0,146.2 116.8,144.8 116.5,145.0 116.2,144.9 116.0,145.7 115.8,149.0 115.5,148.2 115.2,148.9 115.0,149.1 114.8,148.8 114.5,149.2 114.2,148.1 114.0,148.4 113.8,148.5 113.5,149.1 113.2,148.1 113.0,148.4 112.8,148.9 112.5,148.7 112.2,148.4 112.0,148.4 111.8,148.0 111.5,149.0 111.2,148.0 111.0,148.1 110.8,148.9 110.5,148.4 110.2,148.7 110.0,148.9 109.8,149.1 109.5,149.5 109.2,148.8 109.0,149.4 108.8,149.0 108.5,153.3 108.2,153.3 108.0,153.2 107.8,154.3 107.5,153.1 107.2,153.2 107.0,153.3 106.8,151.9 106.5,151.7 106.2,151.7 106.0,152.0 105.8,152.0 105.5,151.8 105.2,151.7 104.8,151.8 104.5,151.5 104.2,146.2 104.0,146.4 103.8,146.4 103.5,147.0 103.2,147.0 103.0,147.1 102.8,147.5 102.5,146.7 102.2,146.4 102.0,146.9 101.8,146.8 101.5,147.2 101.2,146.4 101.0,146.7 100.8,146.4 100.5,146.0 100.2,147.0 100.0,145.6 99.8,145.6 99.5,147.0 99.2,146.2 99.0,146.2 98.8,145.9 98.5,145.5 98.2,146.4 98.0,145.8 97.8,145.7 97.5,146.8 97.2,146.3 97.0,145.5 96.8,145.6 96.5,154.3 94.2,154.3 94.0,144.7 93.8,143.1 93.5,143.3 93.2,143.5 93.0,144.4 92.8,144.5 92.5,143.8 92.2,144.0 92.0,143.9 91.8,143.6 91.5,142.9 91.2,142.6 91.0,143.5 90.8,151.6 90.5,151.6 90.2,151.4 90.0,151.8 89.8,151.4 89.5,151.6 89.2,151.4 89.0,151.9 88.8,153.7 88.5,153.7 88.2,153.7 87.5,153.7 87.2,153.7 86.2,153.8 86.0,153.7 85.8,153.7 85.0,153.7 84.8,144.2 84.0,144.2 83.8,142.8 83.5,142.6 83.2,141.6 83.0,143.1 82.8,147.0 82.5,145.9 82.2,146.1 82.0,146.4 81.8,146.0 81.5,146.6 81.2,146.8 81.0,147.1 80.8,147.1 80.5,145.6 80.2,145.6 80.0,147.0 79.8,146.5 79.5,145.7 79.2,145.6 79.0,145.6 78.8,146.1 78.5,146.0 78.2,146.7 78.0,146.8 77.8,147.0 77.5,143.8 77.2,144.3 77.0,143.8 76.8,144.4 76.5,144.3 76.2,144.0 76.0,143.8 75.8,144.8 75.5,145.0 75.2,143.5 75.0,151.2 74.8,151.6 74.5,151.6 74.2,151.7 74.0,154.3 73.8,151.7 73.2,151.6 73.0,151.2 72.8,154.3 72.5,151.1 72.2,151.2 72.0,151.4 71.8,151.4 71.5,151.1 71.2,154.3 71.0,151.3 70.8,151.7 70.5,140.8 70.0,140.8 69.8,141.4 69.5,140.6 69.2,140.5 69.0,141.4 68.8,141.5 68.5,141.3 68.2,141.8 66.8,141.8 66.5,141.9 66.2,143.1 66.0,142.7 65.8,143.4 65.2,143.4 65.0,143.3 64.8,142.1 64.5,145.9 64.2,145.9 64.0,154.3 63.8,145.9 63.5,143.2 63.2,141.5 63.0,141.5 62.8,144.6 61.5,144.6 61.2,143.1 61.0,150.7 60.8,150.3 60.5,150.4 60.2,150.3 60.0,150.4 59.8,150.5 59.5,150.6 59.2,150.6 59.0,151.0 58.8,150.5 58.5,145.5 58.2,145.1 58.0,144.8 57.8,145.5 57.5,144.3 57.2,145.7 57.0,144.3 56.8,144.6 56.5,145.5 56.2,144.4 56.0,144.8 55.8,145.9 55.5,145.3 55.2,145.8 55.0,145.0 54.8,145.3 54.5,145.1 54.2,145.2 54.0,145.8 53.8,145.6 53.5,145.1Z" fill="#1f77b4" stroke="#1f77b4" stroke-width="1.8" stroke-linejoin="round"/>
<line x1="578.1" x2="612.7" y1="144.54" y2="144.54" stroke="#000" stroke-width="3.6"/>
<path d="M53.5,153.95 H642.5 M303.62,154.35 L304.02,149.85 L304.42,154.35 M313.80,154.35 L314.20,129.58 L314.60,154.35 M334.33,154.35 L334.73,115.32 L335.13,154.35 M584.88,154.35 L585.28,131.84 L585.68,154.35 M595.06,154.35 L595.46,27.52 L595.86,154.35 M614.05,154.35 L614.45,103.32 L614.85,154.35" fill="none" stroke="#ff7f0e" stroke-width="1.3" stroke-dasharray="1.3 1.87"/>
</g>
<rect x="53.50" y="4.25" width="589.00" height="150.10" fill="none" stroke="#808080" stroke-width="1"/>
<path clip-path="url(#c0)" d="M53.85,154.35 V69.54" fill="none" stroke="#ff7f0e" stroke-width="1.3" stroke-dasharray="1.3 1.87"/>
<path d="M53.00,154.35 h-2.0 M53.00,125.48 h-2.0 M53.00,96.62 h-2.0 M53.00,67.75 h-2.0 M53.00,38.89 h-2.0 M53.00,10.02 h-2.0 M643.00,154.35 h2.0 M643.00,116.82 h2.0 M643.00,79.30 h2.0 M643.00,41.78 h2.0 M643.00,4.25 h2.0 M53.50,154.85 v2.4 M67.52,154.85 v1.4 M81.55,154.85 v1.4 M95.57,154.85 v1.4 M109.60,154.85 v1.4 M123.62,154.85 v2.4 M137.64,154.85 v1.4 M151.67,154.85 v1.4 M165.69,154.85 v1.4 M179.71,154.85 v1.4 M193.74,154.85 v2.4 M207.76,154.85 v1.4 M221.79,154.85 v1.4 M235.81,154.85 v1.4 M249.83,154.85 v1.4 M263.86,154.85 v2.4 M277.88,154.85 v1.4 M291.90,154.85 v1.4 M305.93,154.85 v1.4 M319.95,154.85 v1.4 M333.98,154.85 v2.4 M348.00,154.85 v1.4 M362.02,154.85 v1.4 M376.05,154.85 v1.4 M390.07,154.85 v1.4 M404.10,154.85 v2.4 M418.12,154.85 v1.4 M432.14,154.85 v1.4 M446.17,154.85 v1.4 M460.19,154.85 v1.4 M474.21,154.85 v2.4 M488.24,154.85 v1.4 M502.26,154.85 v1.4 M516.29,154.85 v1.4 M530.31,154.85 v1.4 M544.33,154.85 v2.4 M558.36,154.85 v1.4 M572.38,154.85 v1.4 M586.40,154.85 v1.4 M600.43,154.85 v1.4 M614.45,154.85 v2.4 M628.48,154.85 v1.4 M642.50,154.85 v1.4" stroke="#333" stroke-width="0.9" fill="none"/>
<text x="49.20" y="158.75" font-size="10.5" text-anchor="end" textLength="23.38" lengthAdjust="spacingAndGlyphs">0.00</text>
<text x="49.20" y="129.88" font-size="10.5" text-anchor="end" textLength="23.38" lengthAdjust="spacingAndGlyphs">0.05</text>
<text x="49.20" y="101.02" font-size="10.5" text-anchor="end" textLength="23.38" lengthAdjust="spacingAndGlyphs">0.10</text>
<text x="49.20" y="72.15" font-size="10.5" text-anchor="end" textLength="23.38" lengthAdjust="spacingAndGlyphs">0.15</text>
<text x="49.20" y="43.29" font-size="10.5" text-anchor="end" textLength="23.38" lengthAdjust="spacingAndGlyphs">0.20</text>
<text x="49.20" y="14.42" font-size="10.5" text-anchor="end" textLength="23.38" lengthAdjust="spacingAndGlyphs">0.25</text>
<text x="646.40" y="158.75" font-size="10.5" textLength="6.68" lengthAdjust="spacingAndGlyphs">0</text>
<text x="646.40" y="121.22" font-size="10.5" textLength="6.68" lengthAdjust="spacingAndGlyphs">5</text>
<text x="646.40" y="83.70" font-size="10.5" textLength="13.36" lengthAdjust="spacingAndGlyphs">10</text>
<text x="646.40" y="46.18" font-size="10.5" textLength="13.36" lengthAdjust="spacingAndGlyphs">15</text>
<text x="646.40" y="8.65" font-size="10.5" textLength="13.36" lengthAdjust="spacingAndGlyphs">20</text>
<text x="64.80" y="26.95" font-size="14.3" textLength="13.24" lengthAdjust="spacingAndGlyphs">a)</text>
<text x="94.00" y="26.95" font-size="14.3" textLength="90.92" lengthAdjust="spacingAndGlyphs">PB12 (1-4 Hz)</text>
<text x="337.60" y="67.70" font-size="14.3" textLength="21.22" lengthAdjust="spacingAndGlyphs">1/d</text>
<text x="583.40" y="125.00" font-size="14.3" textLength="11.39" lengthAdjust="spacingAndGlyphs">M</text>
<text x="595.09" y="128.10" font-size="10.2" textLength="5.88" lengthAdjust="spacingAndGlyphs">2</text>
<text x="617.60" y="133.70" font-size="14.3" textLength="21.22" lengthAdjust="spacingAndGlyphs">2/d</text>
<g clip-path="url(#c1)">
<path d="M53.5,217.3 55.2,217.3 55.5,291.2 55.8,249.0 59.5,249.0 59.8,287.4 60.2,287.4 60.5,293.5 60.8,293.8 61.0,294.1 61.2,294.4 61.5,294.6 61.8,294.9 62.0,295.2 62.2,291.7 62.5,292.0 62.8,292.3 63.0,292.7 63.2,293.0 63.5,293.3 63.8,293.6 64.0,293.9 64.2,294.2 64.5,294.6 64.8,294.8 65.0,294.9 65.2,286.2 66.5,286.4 66.8,290.0 68.2,290.2 68.5,291.7 69.5,291.8 69.8,292.8 71.2,293.0 71.5,294.6 72.5,294.8 72.8,291.0 73.0,291.1 73.2,268.6 73.8,268.6 74.0,299.4 75.0,299.4 75.2,291.7 76.5,291.9 76.8,294.7 78.0,294.8 78.2,298.9 80.0,299.1 80.2,294.9 81.5,295.0 81.8,304.3 82.5,304.3 82.8,296.9 84.2,297.0 84.5,297.4 85.8,297.5 86.0,299.2 87.5,299.3 87.8,300.8 88.2,300.9 88.5,296.9 89.8,297.0 90.0,296.5 91.0,296.5 91.2,294.2 91.5,288.7 91.8,284.7 93.0,284.7 93.2,233.4 93.8,233.4 94.0,284.7 95.5,284.7 95.8,290.8 96.0,295.9 96.2,299.9 96.5,296.7 97.0,296.7 97.2,298.1 98.2,298.1 98.5,300.2 99.8,300.3 100.0,299.5 101.0,299.6 101.2,296.8 103.0,296.9 103.2,303.5 105.0,303.6 105.2,296.2 105.8,296.3 106.0,285.8 106.5,285.9 106.8,294.6 107.5,294.7 107.8,297.5 108.8,297.6 109.0,285.9 110.8,286.1 111.0,303.8 112.5,303.9 112.8,295.0 113.5,295.1 113.8,299.8 115.2,299.9 115.5,294.4 117.0,294.5 117.2,302.2 118.8,302.3 119.0,307.6 119.8,307.6 120.0,297.5 120.2,297.5 120.5,299.5 121.5,299.6 121.8,296.4 123.0,296.5 123.2,290.5 123.8,290.5 124.0,289.7 124.2,289.8 124.5,289.9 124.8,289.9 125.0,290.0 125.2,290.0 125.5,293.0 125.8,293.1 126.0,299.0 127.0,299.2 127.2,291.4 127.5,291.4 127.8,291.5 128.0,291.5 128.2,291.6 128.5,291.6 128.8,299.2 130.2,299.4 130.5,304.4 131.5,304.5 131.8,303.8 133.0,303.8 133.2,279.0 134.0,279.0 134.2,300.6 135.8,300.8 136.0,297.7 137.8,298.1 138.0,297.5 138.5,297.6 138.8,301.8 139.5,301.9 139.8,296.8 140.0,296.9 140.2,296.9 140.5,297.0 140.8,297.0 141.0,305.7 141.8,305.8 142.0,297.0 142.2,297.1 142.5,297.1 142.8,297.2 143.0,297.2 143.2,297.3 143.5,297.3 143.8,297.4 144.0,302.2 145.5,302.4 145.8,306.9 147.2,307.1 147.5,301.4 149.2,301.7 149.5,301.0 150.8,301.2 151.0,300.8 151.5,300.9 151.8,301.5 153.2,301.7 153.5,297.1 154.5,297.2 154.8,305.2 156.0,305.3 156.2,303.6 156.8,303.7 157.0,304.8 157.8,304.9 158.0,302.4 158.5,302.4 158.8,301.7 160.2,301.9 160.5,302.9 161.8,303.0 162.0,301.7 163.5,301.8 163.8,303.5 164.5,303.6 164.8,310.5 166.5,310.6 166.8,307.0 167.5,307.0 167.8,305.7 169.2,305.9 169.5,297.8 170.0,297.9 170.2,306.5 171.8,306.6 172.0,308.4 172.5,308.4 172.8,307.2 174.2,307.3 174.5,300.2 175.0,300.2 175.2,307.1 177.0,307.3 177.2,304.5 177.8,304.5 178.0,305.9 179.0,306.0 179.2,302.1 180.8,302.2 181.0,306.4 181.5,306.4 181.8,305.5 182.5,305.6 182.8,308.3 183.2,308.3 183.5,306.4 185.0,306.6 185.2,308.0 185.8,308.0 186.0,312.2 187.5,312.3 187.8,308.9 188.5,308.9 188.8,307.0 190.0,307.1 190.2,309.7 191.8,309.8 192.0,310.4 192.2,310.4 192.5,307.1 194.2,307.3 194.5,307.6 195.2,307.6 195.5,310.2 196.5,310.2 196.8,307.1 198.2,307.2 198.5,306.8 200.0,306.9 200.2,307.5 201.5,307.5 201.8,307.2 203.0,307.2 203.2,303.7 203.8,303.8 204.0,309.3 205.8,309.3 206.0,305.8 207.2,305.8 207.5,308.9 208.8,308.9 209.0,310.8 210.8,310.9 211.0,305.7 211.8,305.7 212.0,310.9 212.2,310.9 212.5,308.6 213.0,308.6 213.2,311.3 214.5,311.3 214.8,309.3 215.5,309.3 215.8,304.2 217.2,304.3 217.5,308.7 218.0,308.7 218.2,309.6 219.0,309.6 219.2,306.4 219.5,306.4 219.8,310.8 221.0,310.9 221.2,309.4 222.8,309.5 223.0,306.5 224.0,306.6 224.2,308.4 225.0,308.4 225.2,308.3 227.0,308.3 227.2,307.6 227.5,307.6 227.8,309.2 229.2,309.2 229.5,302.0 230.0,302.0 230.2,307.3 232.0,307.4 232.2,304.6 233.8,304.7 234.0,310.7 234.8,310.7 235.0,307.8 236.5,307.9 236.8,311.2 238.0,311.2 238.2,308.1 239.8,308.2 240.0,307.8 241.5,307.9 241.8,305.7 242.2,305.7 242.5,307.4 243.8,307.5 244.0,309.3 245.0,309.3 245.2,310.2 245.8,310.2 246.0,308.7 247.0,308.8 247.2,311.5 247.8,311.5 248.0,309.8 248.2,309.8 248.5,306.8 249.0,306.8 249.2,310.0 252.8,310.0 253.0,309.8 253.8,309.8 254.0,313.5 255.0,313.5 255.2,304.9 256.5,304.8 256.8,306.4 257.8,306.4 258.0,303.6 259.0,303.6 259.2,308.0 259.8,308.0 260.0,312.7 260.5,312.7 260.8,306.4 261.5,306.3 261.8,312.0 263.0,312.0 263.2,302.4 264.5,302.3 264.8,309.3 265.5,309.2 265.8,308.5 266.8,308.5 267.0,311.1 267.5,311.1 267.8,311.3 268.8,311.3 269.0,312.2 270.5,312.2 270.8,304.2 271.8,304.2 272.0,307.4 273.0,307.3 273.2,310.1 274.0,310.1 274.2,307.2 274.8,307.2 275.0,309.9 275.8,309.9 276.0,310.4 277.5,310.4 277.8,310.2 279.0,310.2 279.2,309.5 280.0,309.4 280.2,304.1 281.5,304.0 281.8,308.1 283.2,308.1 283.5,308.8 284.5,308.8 284.8,307.2 285.0,307.2 285.2,307.5 286.5,307.4 286.8,304.8 287.8,304.8 288.0,308.6 289.5,308.6 289.8,305.2 291.2,305.2 291.5,309.9 291.8,309.9 292.0,309.6 292.2,309.6 292.5,307.3 293.2,307.2 293.5,292.9 294.2,292.9 294.5,307.9 295.8,307.9 296.0,307.0 297.5,307.0 297.8,308.3 298.5,308.3 298.8,309.7 300.2,309.8 300.5,308.0 301.2,308.0 301.5,307.9 303.0,307.9 303.2,309.7 305.0,309.7 305.2,305.9 305.8,305.9 306.0,307.1 306.8,307.0 307.0,309.9 307.5,309.9 307.8,304.1 309.5,303.9 309.8,309.4 311.0,309.3 311.2,307.3 312.2,307.2 312.5,310.0 314.2,309.9 314.5,304.6 315.2,304.6 315.5,310.8 316.0,310.8 316.2,303.4 316.8,303.3 317.0,306.9 318.8,306.8 319.0,307.4 320.5,307.3 320.8,309.1 322.0,309.0 322.2,306.4 323.2,306.4 323.5,309.9 324.5,309.8 324.8,302.1 325.5,302.0 325.8,307.1 327.0,307.0 327.2,304.9 329.0,304.7 329.2,307.1 330.5,307.0 330.8,297.8 332.0,297.6 332.2,295.5 332.5,285.9 332.8,273.5 333.5,273.5 333.8,201.1 334.2,201.1 334.5,273.5 335.0,273.5 335.2,274.6 335.5,288.0 335.8,296.9 336.0,302.8 336.2,306.6 337.2,306.8 337.5,307.0 338.0,307.1 338.2,305.6 338.5,305.7 338.8,310.1 341.8,310.4 342.0,304.4 343.0,304.5 343.2,310.8 344.5,310.9 344.8,311.1 346.5,311.2 346.8,302.8 347.5,302.9 347.8,304.2 349.2,304.4 349.5,308.1 349.8,308.1 350.0,301.5 351.5,301.8 351.8,311.3 352.8,311.4 353.0,310.3 353.8,310.3 354.0,309.3 355.8,309.5 356.0,306.4 357.0,306.5 357.2,304.6 358.5,304.8 358.8,308.9 359.8,309.1 360.0,306.0 361.8,306.3 362.0,309.5 363.5,309.5 363.8,307.7 365.0,307.7 365.2,310.1 365.5,310.1 365.8,310.4 367.0,310.4 367.2,308.4 368.2,308.5 368.5,306.8 369.0,306.8 369.2,306.1 370.8,306.1 371.0,309.3 372.5,309.4 372.8,306.8 374.2,306.8 374.5,311.2 375.0,311.2 375.2,313.5 377.0,313.5 377.2,311.9 377.5,311.9 377.8,305.8 378.0,305.8 378.2,309.1 379.5,309.1 379.8,312.2 380.5,312.2 380.8,310.2 382.2,310.2 382.5,309.0 383.5,309.0 383.8,308.0 384.2,308.0 384.5,308.6 386.0,308.6 386.2,312.4 387.5,312.4 387.8,309.7 388.0,309.7 388.2,306.8 389.8,306.9 390.0,309.5 390.8,309.5 391.0,307.4 392.0,307.4 392.2,309.0 393.2,309.0 393.5,310.2 394.8,310.2 395.0,309.8 395.8,309.8 396.0,308.6 397.2,308.7 397.5,308.2 398.2,308.3 398.5,307.9 399.0,307.9 399.2,309.8 399.8,309.8 400.0,312.0 401.0,312.1 401.2,312.5 402.8,312.6 403.0,308.9 404.5,308.9 404.8,308.8 406.2,308.8 406.5,308.6 406.8,308.6 407.0,310.4 407.8,310.4 408.0,303.9 409.0,303.9 409.2,310.9 410.5,310.9 410.8,303.2 411.8,303.2 412.0,310.0 412.5,310.0 412.8,310.2 414.0,310.2 414.2,308.0 415.0,308.1 415.2,311.3 417.0,311.3 417.2,310.1 417.8,310.1 418.0,307.1 418.2,307.1 418.5,311.0 420.2,311.0 420.5,309.3 421.8,309.3 422.0,310.5 422.8,310.5 423.0,311.6 424.2,311.6 424.5,308.1 426.0,308.2 426.2,312.7 427.5,312.7 427.8,308.8 428.5,308.8 428.8,309.8 430.5,309.8 430.8,307.4 431.2,307.4 431.5,311.1 432.2,311.1 432.5,309.5 433.2,309.5 433.5,312.6 434.8,312.6 435.0,310.6 436.0,310.6 436.2,308.3 439.0,308.3 439.2,310.8 440.8,310.8 441.0,309.3 441.5,309.3 441.8,308.8 443.0,308.9 443.2,307.5 445.0,307.5 445.2,308.9 446.8,309.0 447.0,311.8 448.0,311.8 448.2,309.7 449.8,309.7 450.0,306.3 450.8,306.3 451.0,312.0 451.8,312.0 452.0,309.2 452.8,309.2 453.0,309.8 453.8,309.8 454.0,311.3 454.5,311.4 454.8,308.6 455.8,308.6 456.0,311.1 456.8,311.1 457.0,313.1 458.8,313.1 459.0,312.2 459.5,312.2 459.8,311.1 460.5,311.1 460.8,313.0 461.8,313.0 462.0,311.2 463.5,311.2 463.8,310.4 464.5,310.4 464.8,311.2 466.0,311.2 466.2,309.2 468.0,309.3 468.2,307.0 469.8,307.0 470.0,314.2 470.2,314.2 470.5,312.1 471.5,312.1 471.8,309.1 473.2,309.1 473.5,310.7 475.0,310.7 475.2,310.4 475.8,310.4 476.0,312.5 477.0,312.5 477.2,310.5 478.8,310.5 479.0,308.2 479.8,308.2 480.0,308.6 480.5,308.6 480.8,313.8 482.5,313.8 482.8,307.6 483.2,307.6 483.5,311.0 484.2,311.0 484.5,311.1 486.0,311.0 486.2,308.5 487.5,308.5 487.8,312.5 488.8,312.5 489.0,307.1 489.5,307.1 489.8,309.8 492.5,309.7 492.8,310.3 494.2,310.3 494.5,312.8 496.0,312.8 496.2,309.9 497.5,309.9 497.8,308.8 499.2,308.8 499.5,312.1 499.8,312.1 500.0,310.6 501.5,310.6 501.8,311.5 502.5,311.4 502.8,311.8 503.2,311.8 503.5,308.4 504.0,308.4 504.2,309.7 504.5,309.7 504.8,312.3 505.5,312.3 505.8,309.8 507.2,309.8 507.5,310.0 509.0,310.0 509.2,304.6 510.8,304.5 511.0,307.1 511.8,307.1 512.0,310.9 513.2,310.9 513.5,311.1 513.8,311.1 514.0,306.5 515.5,306.5 515.8,310.8 517.2,310.8 517.5,312.7 518.8,312.7 519.0,312.0 520.0,312.0 520.2,309.4 520.8,309.4 521.0,309.5 521.8,309.5 522.0,307.9 522.5,307.9 522.8,310.9 523.5,310.9 523.8,308.6 525.0,308.5 525.2,309.5 527.0,309.5 527.2,307.5 528.0,307.5 528.2,308.2 529.5,308.2 529.8,311.1 530.0,311.1 530.2,311.2 531.2,311.2 531.5,308.1 532.0,308.1 532.2,307.0 533.8,306.9 534.0,314.1 535.5,314.0 535.8,309.6 536.5,309.6 536.8,307.9 538.0,307.9 538.2,308.6 539.0,308.6 539.2,306.8 540.5,306.8 540.8,311.7 541.5,311.7 541.8,310.0 543.0,310.0 543.2,311.1 544.0,311.1 544.2,312.8 544.5,312.8 544.8,309.9 545.0,309.9 545.2,311.5 546.2,311.5 546.5,311.3 547.0,311.3 547.2,312.8 548.8,312.8 549.0,311.0 550.5,311.0 550.8,312.0 552.2,312.0 552.5,309.1 552.8,309.1 553.0,306.0 554.2,306.0 554.5,311.0 555.0,311.0 555.2,309.5 556.0,309.5 556.2,313.0 557.0,313.0 557.2,306.7 558.8,306.7 559.0,308.2 561.0,308.2 561.2,313.6 562.0,313.6 562.2,311.3 562.8,311.3 563.0,307.1 563.2,307.1 563.5,310.8 565.2,310.8 565.5,311.8 566.0,311.8 566.2,311.3 567.8,311.3 568.0,310.8 568.2,310.8 568.5,313.0 569.2,313.0 569.5,311.4 570.5,311.4 570.8,309.5 571.2,309.5 571.5,312.4 572.2,312.5 572.5,306.6 574.0,306.6 574.2,313.5 574.8,313.5 575.0,310.9 575.8,310.9 576.0,313.4 576.5,313.4 576.8,310.8 577.0,310.8 577.2,309.5 577.5,309.5 577.8,311.9 578.5,311.9 578.8,311.3 579.5,311.3 579.8,312.2 581.0,312.2 581.2,304.9 582.8,304.9 583.0,309.7 583.8,309.7 584.0,310.2 585.2,310.2 585.5,311.0 586.0,311.0 586.2,301.6 587.2,301.6 587.5,311.6 588.0,311.6 588.2,307.9 589.5,307.9 589.8,309.1 590.5,309.2 590.8,310.7 592.5,310.7 592.8,307.5 594.0,307.5 594.2,310.5 594.8,310.5 595.0,295.2 595.8,295.2 596.0,310.6 596.8,310.6 597.0,307.7 598.5,307.7 598.8,309.2 600.0,309.2 600.2,309.8 601.8,309.8 602.0,308.8 602.2,308.8 602.5,307.6 603.8,307.6 604.0,310.2 605.8,310.2 606.0,311.5 606.8,311.5 607.0,313.3 607.2,313.3 607.5,309.8 608.5,309.8 608.8,309.1 610.2,309.1 610.5,311.1 611.5,311.1 611.8,311.3 612.0,309.7 612.2,307.3 612.5,304.4 612.8,304.0 614.0,304.0 614.2,279.6 614.8,279.6 615.0,304.0 616.2,304.0 616.5,305.6 616.8,308.3 617.0,310.4 617.2,311.0 618.0,311.0 618.2,310.6 619.8,310.6 620.0,310.4 620.5,310.4 620.8,311.4 621.5,311.4 621.8,309.5 622.8,309.5 623.0,310.2 624.5,310.2 624.8,311.0 626.5,311.0 626.8,309.3 628.0,309.3 628.2,307.9 629.2,307.9 629.5,311.0 630.5,311.0 630.8,312.2 631.5,312.2 631.8,311.7 632.0,311.7 632.2,311.3 632.8,311.3 633.0,307.9 633.2,307.9 633.5,305.2 634.2,305.2 634.5,308.3 634.8,308.3 635.0,309.4 635.5,309.5 635.8,312.3 637.5,312.3 637.8,311.4 638.2,311.4 638.5,312.4 640.0,312.4 640.2,311.6 640.8,311.6 641.0,313.0 642.2,313.0 642.5,309.4 642.5,318.4 642.2,318.4 642.0,318.7 641.8,318.8 641.5,318.3 641.2,318.6 641.0,318.7 640.8,318.8 640.5,318.8 640.2,318.4 640.0,318.8 639.8,318.3 639.5,318.3 639.2,318.5 638.8,318.5 638.5,317.1 638.2,316.7 638.0,316.6 637.8,316.6 637.5,317.0 635.8,317.0 635.5,316.3 635.2,316.8 635.0,316.1 634.8,316.6 634.5,316.6 634.2,316.9 634.0,316.3 633.8,316.5 633.5,316.2 633.2,316.9 633.0,316.4 632.8,317.0 632.5,317.6 632.2,318.1 632.0,318.1 631.8,317.8 631.5,318.0 631.2,317.6 631.0,319.9 630.8,319.9 630.5,320.1 630.2,320.0 630.0,319.8 629.8,319.8 629.5,320.1 629.2,320.0 629.0,320.1 628.8,320.0 628.5,319.8 628.2,319.8 628.0,319.7 627.8,319.7 627.5,319.8 627.2,319.8 627.0,320.0 626.8,319.8 626.5,320.0 626.0,319.9 625.8,319.6 625.5,319.7 625.2,319.9 625.0,320.0 624.8,319.7 624.5,321.8 624.2,319.7 624.0,319.9 623.8,319.9 623.5,320.2 623.2,320.2 623.0,320.3 622.8,320.4 622.5,320.2 622.2,320.5 622.0,320.3 621.5,320.3 621.2,320.4 621.0,320.4 620.8,320.3 620.5,320.4 620.2,320.2 620.0,320.4 619.8,320.5 619.5,321.5 616.8,321.5 616.5,320.1 616.2,320.3 616.0,320.1 615.8,321.8 615.5,320.0 615.2,320.2 615.0,320.2 614.8,320.0 614.5,320.1 614.2,320.2 614.0,320.1 613.8,320.1 613.5,320.0 613.2,320.0 613.0,320.3 612.8,321.3 612.2,321.3 612.0,321.8 611.8,321.3 611.5,321.3 611.2,321.3 611.0,318.0 610.8,318.2 610.5,318.3 610.2,318.0 610.0,318.0 609.8,318.1 609.5,317.9 609.2,317.9 609.0,318.0 608.8,318.1 608.5,318.3 608.2,318.4 608.0,317.9 607.8,318.1 607.5,318.3 607.2,318.1 607.0,317.9 606.5,317.8 606.2,318.3 606.0,318.2 605.8,321.8 602.0,321.8 601.8,319.6 601.5,319.4 601.2,319.4 601.0,319.4 600.8,319.2 600.5,319.1 600.2,319.4 600.0,319.3 599.8,319.4 599.5,319.5 599.2,319.6 599.0,319.4 598.5,319.4 598.2,319.5 598.0,319.1 597.8,321.8 597.5,319.2 597.2,319.3 597.0,319.5 596.8,319.3 596.5,317.5 596.2,317.1 596.0,317.4 595.8,317.6 595.5,317.5 595.2,317.8 595.0,317.8 594.8,317.5 594.5,317.3 594.2,317.1 594.0,317.5 593.8,317.4 593.5,317.6 593.2,317.7 593.0,317.4 592.8,317.7 592.5,317.3 592.2,317.5 592.0,317.8 591.8,317.8 591.5,317.1 591.2,317.2 591.0,317.1 590.8,317.8 590.5,318.0 590.2,317.9 590.0,317.6 589.8,318.0 589.5,317.7 589.2,318.3 589.0,318.0 588.8,318.3 588.5,317.7 588.2,317.8 588.0,317.8 587.8,318.2 587.5,317.7 587.2,317.8 587.0,317.7 586.8,318.0 586.5,318.2 586.2,317.6 586.0,317.7 585.8,317.7 585.5,317.8 585.2,318.2 585.0,319.7 584.8,319.8 584.5,319.9 584.2,319.8 584.0,319.9 583.8,320.0 583.5,319.7 583.2,319.8 583.0,319.7 582.8,319.8 582.5,320.0 582.2,319.9 582.0,320.0 581.8,319.9 581.5,320.6 581.2,320.7 581.0,320.5 580.8,320.6 580.5,320.6 580.2,320.5 580.0,320.6 579.8,320.5 579.5,320.5 579.2,320.4 579.0,320.6 578.8,320.5 578.5,320.6 578.2,320.5 578.0,321.8 577.8,320.5 577.5,320.6 577.2,320.4 577.0,320.6 576.5,320.6 576.2,320.5 576.0,317.6 575.8,316.8 575.5,316.4 575.2,316.5 575.0,316.5 574.8,317.6 574.2,317.6 574.0,316.9 573.8,316.7 573.5,316.8 573.2,316.5 573.0,316.5 572.8,316.1 572.5,316.5 572.2,317.1 571.5,317.1 571.2,316.3 571.0,316.1 570.8,316.9 570.5,318.4 570.2,318.1 570.0,318.3 569.8,318.4 569.5,318.1 569.2,318.2 569.0,318.4 568.8,317.4 568.5,317.4 568.2,316.3 568.0,316.3 567.8,316.5 567.2,316.5 567.0,316.6 566.8,316.5 566.2,316.5 566.0,316.8 565.5,316.8 565.2,316.3 564.2,316.3 564.0,321.8 563.8,316.3 563.5,321.8 563.2,314.4 563.0,314.4 562.8,316.5 562.2,316.5 562.0,317.7 561.2,317.7 561.0,315.0 560.2,315.0 560.0,319.0 559.8,318.8 559.5,319.0 559.2,318.8 559.0,318.9 558.8,319.2 558.5,319.1 558.2,318.9 558.0,319.3 557.8,319.3 557.5,319.5 557.2,319.6 557.0,319.6 556.8,319.4 556.5,319.5 556.2,319.7 556.0,319.3 555.8,319.6 555.5,319.3 555.2,320.4 555.0,320.3 554.8,320.4 554.5,320.4 554.2,320.3 554.0,320.3 553.8,320.5 553.2,320.5 553.0,320.4 552.8,320.3 552.5,320.3 552.2,320.4 552.0,320.5 551.8,320.4 551.5,320.5 551.2,320.4 551.0,320.4 550.8,320.3 550.5,320.5 550.2,320.3 550.0,320.4 549.8,316.8 549.5,316.4 549.2,316.6 549.0,316.4 548.8,317.3 547.2,317.3 547.0,316.5 546.5,316.5 546.2,316.6 546.0,316.6 545.8,317.8 545.5,317.8 545.2,317.3 545.0,317.3 544.8,318.0 544.5,317.9 544.2,317.4 544.0,317.4 543.8,317.3 543.5,317.4 543.2,317.5 543.0,317.5 542.8,317.8 542.5,317.7 542.2,321.4 537.0,321.5 536.8,320.8 536.5,320.9 535.0,320.9 534.8,320.9 534.0,320.9 533.8,317.0 533.5,316.1 533.2,316.3 533.0,316.8 532.8,316.9 532.5,316.4 532.2,316.7 532.0,316.2 531.8,316.1 531.5,316.2 531.2,317.0 531.0,316.5 530.8,317.0 530.5,316.5 530.2,316.9 530.0,316.9 529.8,317.1 529.5,316.4 529.2,316.9 529.0,320.3 528.8,320.5 528.2,320.4 528.0,320.4 527.8,320.5 527.2,320.6 527.0,320.4 526.8,320.5 526.5,320.5 526.2,320.4 526.0,320.5 525.8,320.5 525.5,320.6 525.2,320.5 525.0,316.2 524.8,316.1 524.5,316.2 524.2,316.6 524.0,316.2 523.8,316.3 523.5,316.5 523.2,316.3 523.0,316.4 522.8,316.5 522.5,316.1 522.2,316.9 522.0,316.3 521.8,316.8 521.5,316.8 521.2,316.6 521.0,316.9 520.8,316.0 520.5,316.7 520.2,316.4 520.0,316.9 519.5,316.9 519.2,321.8 517.2,321.8 517.0,317.6 516.8,318.0 516.5,317.4 516.2,317.9 516.0,317.3 515.8,317.3 515.5,317.5 515.2,317.8 515.0,317.8 514.8,317.5 514.5,318.1 514.2,318.0 514.0,317.4 513.8,317.5 513.5,317.9 513.2,317.9 513.0,317.4 512.8,317.4 512.5,318.0 512.2,317.9 512.0,317.3 511.8,318.3 511.5,318.6 511.2,318.6 511.0,318.8 510.8,321.8 510.5,318.7 510.2,318.6 510.0,318.7 509.8,318.5 509.5,320.8 509.2,320.9 509.0,320.9 508.8,320.7 508.5,320.8 508.2,320.8 508.0,320.8 507.8,320.8 507.5,320.9 507.2,320.8 507.0,320.7 506.8,320.8 506.5,320.8 506.2,320.8 506.0,320.8 505.8,320.8 505.5,320.9 505.2,320.8 505.0,320.9 504.8,320.8 504.2,320.8 504.0,320.7 503.8,316.3 503.5,315.8 503.2,316.8 502.8,316.8 502.5,316.6 502.2,316.8 502.0,317.1 501.8,317.5 501.5,317.3 501.2,317.0 501.0,317.1 500.8,317.1 500.5,317.5 500.2,316.9 500.0,316.2 499.8,316.9 499.5,316.9 499.2,315.3 498.5,315.3 498.2,316.2 498.0,316.1 497.8,316.4 497.5,315.9 497.2,315.8 497.0,321.8 496.8,316.4 496.5,316.0 496.2,315.9 496.0,317.3 494.5,317.3 494.2,316.5 494.0,316.5 493.8,316.7 493.5,316.9 493.2,317.0 493.0,316.9 492.8,321.8 492.5,317.2 492.2,317.3 492.0,316.7 491.8,316.9 491.5,317.3 491.2,321.5 488.0,321.6 487.8,319.3 487.5,319.4 487.2,319.6 487.0,319.4 486.8,319.2 486.5,319.3 486.2,319.6 486.0,319.4 485.8,319.2 485.5,319.4 485.2,319.3 485.0,319.4 484.8,319.2 484.5,319.5 484.2,319.4 483.5,319.4 483.2,319.6 483.0,319.5 482.8,319.3 482.5,320.2 482.2,319.9 482.0,320.2 481.8,320.2 480.8,320.2 480.5,320.0 480.2,320.0 480.0,320.1 479.8,320.2 479.5,320.1 479.2,320.1 478.8,320.1 478.5,320.1 478.2,320.0 478.0,320.2 477.8,320.1 477.5,321.8 477.2,320.0 477.0,317.1 476.0,317.1 475.8,316.1 475.2,316.1 475.0,316.2 474.2,316.2 474.0,321.2 471.8,321.2 471.5,321.2 471.0,321.2 470.8,321.2 470.5,321.2 470.2,321.3 470.0,321.2 469.8,321.2 469.5,320.1 469.0,320.0 468.8,320.0 468.5,319.9 468.0,319.9 467.8,320.1 467.5,320.0 467.2,319.9 467.0,320.1 466.8,320.0 466.5,320.2 466.0,320.2 465.8,320.0 465.5,321.8 462.0,321.8 461.8,317.4 460.8,317.4 460.5,316.4 460.0,316.4 459.8,316.7 459.5,317.0 459.2,319.6 459.0,319.6 458.8,319.7 458.5,319.8 458.2,319.6 458.0,319.7 457.8,319.5 457.2,319.5 457.0,319.4 456.8,319.4 456.5,319.6 456.2,321.1 454.0,321.0 453.8,317.9 453.5,317.7 453.2,317.4 453.0,317.6 452.8,318.0 452.5,317.4 452.2,317.7 452.0,317.6 451.8,318.1 451.5,317.5 451.2,317.4 451.0,317.8 450.8,318.0 450.5,317.7 450.2,318.0 450.0,320.8 449.0,320.8 448.8,320.7 448.5,320.8 448.2,320.9 448.0,320.8 447.5,320.8 447.2,320.8 447.0,320.9 446.0,320.8 445.8,320.8 445.5,320.9 445.2,320.8 445.0,320.9 444.8,320.9 444.5,320.8 444.2,320.8 444.0,320.9 443.8,321.8 443.5,320.8 442.8,320.8 442.5,316.6 442.2,317.0 442.0,316.4 441.8,316.8 441.5,317.2 441.2,317.0 441.0,316.7 440.8,316.5 440.5,316.7 440.2,316.7 440.0,316.5 439.8,316.4 439.5,316.5 439.0,316.4 438.8,317.2 438.5,317.3 438.2,317.2 438.0,318.0 437.8,318.0 437.5,318.2 437.2,318.6 437.0,318.0 436.8,318.0 436.5,318.2 436.2,318.0 436.0,318.5 435.8,318.4 435.5,318.3 435.2,318.5 435.0,318.1 434.8,318.2 434.5,318.6 434.2,318.3 434.0,318.0 433.8,318.2 433.5,318.0 433.2,318.0 433.0,321.1 432.8,320.9 432.5,321.0 432.2,321.1 432.0,321.0 431.5,321.0 431.2,321.0 430.8,321.0 430.5,321.1 430.2,321.0 430.0,321.1 429.8,321.0 429.5,321.0 429.2,315.8 428.8,315.8 428.5,315.3 427.8,315.3 427.5,317.2 426.2,317.2 426.0,315.1 425.8,315.0 425.5,318.5 425.2,318.6 425.0,318.7 424.8,318.2 424.5,318.6 424.2,318.8 424.0,318.5 423.8,318.5 423.5,318.8 423.2,318.6 423.0,318.7 422.8,318.2 422.5,318.4 422.2,318.2 422.0,318.2 421.8,318.8 421.0,318.8 420.8,318.5 420.5,318.9 420.2,318.9 420.0,318.5 419.8,318.6 419.5,318.9 419.2,318.8 419.0,318.7 418.8,318.6 418.5,321.8 416.0,321.8 415.8,316.5 415.2,316.5 415.0,315.4 414.8,315.4 414.5,315.6 414.2,316.0 413.8,316.0 413.5,316.3 413.2,316.3 413.0,316.0 412.8,316.0 412.5,315.9 412.2,315.9 412.0,316.3 411.8,315.5 411.5,315.7 411.2,315.3 411.0,316.4 410.8,319.9 410.5,319.8 410.2,319.9 410.0,319.9 409.8,319.8 409.5,319.9 409.2,319.8 409.0,319.5 408.8,319.8 408.5,319.7 408.2,319.8 407.8,319.8 407.5,316.1 407.0,316.1 406.8,315.2 406.5,315.2 406.2,315.3 406.0,321.8 405.8,315.3 404.8,315.3 404.5,315.3 404.0,315.3 403.8,320.4 403.5,320.2 403.2,320.2 403.0,320.4 402.5,320.5 402.2,320.2 402.0,320.3 401.8,320.3 401.5,320.2 401.2,320.2 401.0,320.4 400.8,320.3 400.5,320.2 400.2,321.3 400.0,321.3 399.8,321.3 399.5,321.3 399.2,321.2 399.0,321.3 398.5,321.3 398.2,315.0 397.5,315.0 397.2,315.2 396.0,315.2 395.8,315.8 395.0,315.8 394.8,316.0 394.5,320.3 394.2,320.5 394.0,320.4 393.8,320.3 393.5,320.5 392.8,320.4 392.5,320.3 392.2,320.4 392.0,320.3 391.8,320.2 391.5,320.4 391.2,320.0 391.0,319.9 390.8,319.9 390.5,320.0 390.2,320.0 390.0,321.8 389.8,321.8 389.5,320.0 389.2,320.0 388.8,320.0 388.5,320.0 388.2,320.1 388.0,321.8 387.8,319.9 387.5,320.0 387.2,320.0 387.0,320.0 386.8,320.2 386.5,319.9 386.2,320.1 386.0,320.0 385.8,320.2 385.5,320.1 385.2,319.9 385.0,320.0 384.8,319.9 384.5,320.1 384.2,320.1 384.0,319.8 383.8,320.0 383.5,320.0 383.2,319.9 383.0,315.4 382.5,315.4 382.2,316.0 380.8,316.0 380.5,317.0 380.2,321.8 380.0,317.0 379.8,317.0 379.5,315.4 378.5,315.4 378.2,316.8 378.0,316.6 377.8,316.4 377.5,316.8 377.2,317.0 377.0,317.6 376.2,317.6 376.0,321.8 375.8,317.6 375.2,317.6 375.0,316.5 374.8,316.9 374.5,316.5 374.2,315.9 374.0,315.2 373.5,315.3 373.2,316.2 373.0,315.9 372.8,316.2 372.5,315.6 372.2,315.6 372.0,318.6 371.8,318.5 371.5,318.7 371.2,318.3 371.0,318.6 370.8,318.7 370.5,318.4 370.2,318.4 370.0,318.4 369.8,318.6 369.5,318.4 369.2,318.5 369.0,318.4 368.8,318.3 368.5,318.4 367.8,318.4 367.5,318.5 367.2,318.8 367.0,320.5 366.8,320.7 366.5,320.6 366.2,320.5 366.0,320.6 365.5,320.5 365.2,320.7 365.0,320.5 364.8,320.7 364.5,320.6 364.2,320.7 364.0,320.6 363.8,320.5 363.5,320.6 363.2,320.5 363.0,320.6 362.8,318.9 362.5,318.7 362.2,319.0 362.0,318.6 361.8,319.1 361.5,319.1 361.2,318.6 361.0,318.9 360.8,318.8 360.5,319.1 360.2,319.1 360.0,318.7 359.8,318.7 359.5,319.0 359.2,318.7 359.0,318.5 358.8,318.9 358.5,319.0 358.2,314.8 358.0,315.1 357.8,315.0 357.5,314.6 357.2,314.5 357.0,314.1 356.8,314.7 356.5,314.3 356.2,314.5 356.0,314.5 355.8,315.6 355.5,315.6 355.2,321.5 352.8,321.5 352.5,321.8 348.8,321.8 348.5,316.0 348.2,315.9 348.0,315.7 347.8,315.8 347.5,315.7 347.2,315.9 347.0,316.0 346.8,315.6 346.5,316.5 344.8,316.4 344.5,316.3 344.0,316.3 343.8,318.8 343.5,318.5 343.2,318.2 343.0,318.8 342.8,318.8 342.5,318.3 342.2,318.5 342.0,318.6 341.8,318.3 341.5,318.3 341.2,318.7 341.0,318.6 340.8,318.3 340.5,318.6 340.2,318.5 340.0,318.4 339.8,318.6 339.5,318.0 339.2,318.1 339.0,317.5 338.8,317.7 338.5,317.8 338.2,317.8 338.0,317.8 337.8,317.5 337.5,317.6 337.2,317.6 337.0,317.9 336.8,317.8 336.5,317.4 336.2,317.6 336.0,318.1 335.8,318.0 335.5,317.4 335.2,317.9 335.0,317.6 334.8,317.5 334.5,317.6 334.2,315.0 334.0,315.2 333.8,316.0 333.5,316.0 333.2,315.3 333.0,315.5 332.8,316.0 332.5,315.0 332.2,315.0 332.0,315.1 331.8,312.3 331.5,313.4 331.2,313.6 331.0,312.9 330.8,312.8 330.5,314.4 329.2,314.4 329.0,313.2 328.2,313.3 328.0,313.6 327.8,313.3 327.5,313.5 327.2,313.3 327.0,314.4 326.5,314.4 326.2,319.8 326.0,319.8 325.8,320.1 325.5,320.0 325.2,319.8 325.0,320.1 324.8,319.8 324.5,319.8 324.2,320.0 324.0,320.1 323.8,319.9 323.5,315.8 323.2,321.8 323.0,315.0 322.8,314.9 322.5,314.6 322.2,314.8 322.0,315.6 321.8,315.4 321.2,315.4 321.0,319.4 320.8,319.3 320.5,319.6 320.2,319.4 320.0,319.3 319.2,319.4 319.0,319.4 318.8,321.8 318.5,319.3 318.2,319.6 318.0,319.5 317.8,319.6 317.5,319.7 317.2,319.4 317.0,319.7 316.8,319.3 316.5,319.6 316.2,319.3 316.0,321.7 311.5,321.7 311.2,319.1 311.0,319.4 310.8,319.4 310.5,319.1 310.2,319.4 310.0,319.0 309.8,320.8 309.5,320.8 309.2,320.7 309.0,320.8 308.8,320.8 308.5,320.8 308.2,320.7 307.5,320.7 307.2,317.3 307.0,317.1 306.8,317.2 306.5,316.5 306.2,317.2 306.0,317.0 305.8,316.4 305.5,317.1 305.2,317.3 305.0,317.2 304.8,316.7 304.5,316.4 304.2,316.5 304.0,316.4 303.8,316.4 303.5,315.7 303.2,321.8 303.0,315.5 302.8,315.7 302.5,316.0 302.2,321.8 302.0,316.4 301.8,316.3 301.5,315.8 301.2,315.9 301.0,315.7 300.8,316.9 300.5,317.0 300.2,317.3 300.0,316.4 299.8,316.9 299.5,316.4 299.2,315.7 299.0,316.6 298.8,315.8 298.5,316.1 298.2,316.6 298.0,315.6 297.8,315.7 297.5,315.6 297.2,315.9 297.0,321.8 296.8,315.5 296.5,316.6 296.2,316.4 296.0,315.8 295.8,315.8 295.5,316.4 295.2,316.0 295.0,316.3 294.8,320.1 294.5,320.0 294.2,320.2 294.0,320.0 293.8,320.1 293.5,319.9 293.2,320.1 293.0,320.2 292.8,320.0 292.5,320.0 292.2,319.9 292.0,319.9 291.8,320.2 291.5,320.2 291.2,320.0 290.5,320.1 290.2,319.9 290.0,320.2 289.8,320.0 289.5,320.0 289.2,319.9 289.0,320.0 288.8,321.1 288.5,321.1 288.2,321.2 287.8,321.2 287.5,321.1 287.2,321.2 286.8,321.2 286.5,321.1 286.2,321.1 286.0,321.2 285.5,321.1 285.2,321.1 285.0,321.2 284.8,321.1 284.5,321.2 283.8,321.2 283.5,321.8 278.8,321.8 278.5,321.2 278.2,321.1 277.5,321.1 277.2,321.2 276.8,321.2 276.5,321.1 276.2,321.8 276.0,317.0 275.8,317.3 275.5,317.0 275.2,316.8 275.0,317.0 274.8,317.4 274.5,321.8 274.2,317.4 274.0,317.3 273.8,316.9 273.5,316.7 273.2,317.3 273.0,317.5 272.8,316.8 272.5,317.3 272.2,317.3 272.0,317.2 271.8,317.1 271.5,316.7 271.2,317.4 271.0,316.9 270.8,317.2 270.5,317.2 270.2,321.2 270.0,321.2 269.8,321.8 269.5,321.1 269.0,321.1 268.8,321.2 268.2,321.2 268.0,321.1 267.2,321.2 267.0,321.1 266.8,321.2 266.5,321.1 266.2,321.0 266.0,321.0 265.8,321.1 265.5,321.0 265.2,321.8 265.0,320.9 264.8,320.9 264.5,321.0 263.8,321.1 263.5,317.3 263.2,316.5 263.0,316.9 262.5,316.9 262.2,317.1 262.0,317.1 261.8,317.0 261.5,316.7 261.2,317.1 261.0,320.8 260.8,320.8 260.5,320.8 260.2,320.8 260.0,320.7 259.5,320.7 259.2,320.8 259.0,320.8 258.8,320.7 258.5,320.9 258.2,320.7 258.0,321.8 257.8,320.8 257.5,320.7 257.2,320.8 256.8,320.8 256.5,320.7 256.0,320.7 255.8,320.9 255.5,320.9 255.2,313.7 255.0,317.6 254.0,317.6 253.8,315.8 253.0,315.8 252.8,315.9 252.5,315.9 252.2,319.1 252.0,319.3 251.8,319.2 251.5,319.2 251.2,319.3 251.0,319.3 250.8,319.1 250.5,319.3 250.2,319.2 250.0,319.0 249.8,319.3 249.5,319.4 249.2,319.3 249.0,319.3 248.8,319.1 248.5,319.1 248.2,319.3 248.0,319.5 247.8,321.8 247.5,319.2 247.2,319.2 247.0,315.5 246.8,315.3 246.5,315.6 246.2,315.2 246.0,315.2 245.8,316.0 245.2,316.0 245.0,315.5 244.8,315.8 244.5,316.0 244.2,315.7 244.0,315.5 243.8,315.9 243.5,315.0 243.2,315.9 243.0,315.7 242.8,321.8 242.5,315.1 242.2,315.0 242.0,315.8 241.8,315.8 241.5,315.4 241.2,319.6 241.0,319.5 240.8,319.8 240.5,319.6 240.2,319.6 240.0,319.7 239.8,319.6 239.5,319.7 239.2,319.5 239.0,319.7 238.8,319.5 238.5,319.7 238.2,319.6 238.0,319.6 237.8,319.7 237.5,319.6 237.2,321.8 237.0,319.7 236.5,319.7 236.2,314.8 235.0,314.8 234.8,316.2 234.0,316.2 233.8,319.8 233.5,319.9 233.2,319.7 232.2,319.7 232.0,319.8 231.8,319.8 231.5,319.9 231.2,320.0 231.0,319.6 230.8,319.9 230.5,319.8 230.2,319.6 230.0,318.0 229.8,318.1 229.5,318.1 229.2,317.8 229.0,318.3 228.8,318.3 228.5,318.1 228.2,318.3 228.0,318.0 227.8,318.3 227.5,317.8 227.2,318.2 226.8,318.3 226.5,318.0 226.2,318.4 226.0,318.3 225.8,318.1 225.5,318.4 225.2,318.1 225.0,318.0 224.8,320.2 224.5,320.3 224.2,320.4 224.0,320.3 223.8,320.3 223.5,320.2 223.2,320.3 222.2,320.4 222.0,320.2 221.0,320.3 220.8,318.3 220.5,318.3 220.0,318.2 219.8,318.0 219.5,318.2 219.2,318.3 219.0,318.2 218.8,318.4 218.5,318.4 218.2,318.2 218.0,318.5 217.8,318.3 217.5,317.7 217.2,321.8 217.0,317.8 216.8,318.3 216.5,317.7 216.2,317.7 216.0,318.2 215.8,318.3 215.5,318.1 215.2,320.1 215.0,320.0 214.8,319.9 214.5,320.1 214.2,320.1 214.0,320.2 213.8,320.1 213.5,319.9 213.2,319.9 213.0,319.9 212.8,321.8 210.2,321.8 210.0,319.5 209.8,319.4 209.5,319.4 209.2,319.2 209.0,319.5 208.8,319.2 208.5,319.4 208.2,319.6 208.0,319.2 207.8,319.2 207.5,319.4 207.2,319.4 207.0,319.2 206.8,319.3 206.5,319.2 206.2,315.0 206.0,314.9 205.8,315.7 205.5,316.0 205.2,315.5 205.0,315.7 204.8,315.5 204.0,315.5 203.8,315.8 203.5,315.2 203.2,315.8 203.0,315.3 202.8,315.8 202.5,315.7 202.2,315.1 202.0,320.8 201.8,321.0 201.5,320.9 201.2,320.9 201.0,321.0 200.8,320.9 200.5,320.9 200.2,320.8 200.0,320.8 199.8,321.0 199.5,320.9 198.8,320.9 198.5,321.0 198.2,320.8 198.0,320.8 197.8,321.0 197.5,320.9 197.2,321.8 197.0,320.9 196.8,320.9 196.5,317.3 196.2,316.6 196.0,316.8 195.8,316.9 195.5,317.1 195.2,316.7 195.0,317.3 194.8,316.4 194.5,317.1 194.2,317.2 194.0,316.5 193.8,321.8 193.5,316.8 193.2,316.3 193.0,317.1 192.8,316.4 192.5,316.8 192.2,316.7 192.0,316.5 191.8,316.5 191.5,316.4 191.2,317.3 191.0,317.2 190.8,316.8 190.5,315.7 190.2,315.7 190.0,314.4 188.8,314.4 188.5,319.3 188.2,319.6 188.0,319.5 187.5,319.5 187.2,319.3 187.0,319.5 186.8,319.4 186.5,319.2 186.2,319.2 186.0,319.5 185.8,319.5 185.5,319.4 185.2,319.4 185.0,319.2 184.8,319.3 184.5,319.6 184.2,319.5 184.0,321.3 183.8,321.3 183.5,321.4 183.2,321.8 183.0,321.3 182.8,321.3 182.5,321.3 182.2,321.3 182.0,321.3 181.8,321.3 181.5,320.7 181.2,320.6 180.8,320.7 180.5,320.6 180.2,320.6 180.0,320.7 179.8,320.7 179.5,320.6 179.2,320.7 179.0,320.8 178.8,321.8 177.2,321.8 177.0,319.8 176.8,319.8 176.5,320.0 176.2,319.8 176.0,319.8 175.8,319.9 175.5,320.0 175.2,319.7 175.0,320.0 174.8,319.9 174.5,320.0 174.2,319.7 174.0,319.9 173.8,319.9 173.5,320.0 173.2,321.8 173.0,317.6 172.8,317.4 172.5,317.7 172.2,318.0 172.0,317.6 171.8,317.3 171.5,317.4 171.2,318.0 171.0,317.6 170.8,317.9 170.5,317.6 170.2,317.6 170.0,317.4 169.8,317.5 169.5,317.3 169.2,318.0 169.0,317.9 168.8,321.3 166.8,321.3 166.5,321.2 166.0,321.2 165.8,321.3 165.5,321.3 165.2,321.2 165.0,321.3 164.8,316.8 164.5,316.6 164.2,321.8 164.0,316.5 163.8,315.8 163.5,316.2 163.2,316.7 163.0,316.2 162.8,316.7 162.5,316.7 162.2,316.4 162.0,316.5 161.8,316.7 161.5,316.4 161.2,316.1 161.0,316.4 160.8,314.4 160.5,313.5 160.2,313.3 160.0,313.3 159.8,313.9 159.5,313.0 159.2,313.3 159.0,313.8 158.8,313.7 158.5,314.2 158.2,312.9 158.0,312.8 157.8,313.3 157.0,313.3 156.8,312.7 156.2,312.7 156.0,313.5 155.5,313.5 155.2,321.8 155.0,320.7 154.8,320.7 154.5,320.7 154.2,320.6 154.0,320.6 153.8,320.6 153.5,320.7 153.2,320.6 153.0,320.7 152.8,320.6 152.5,320.7 152.2,320.6 151.5,320.6 151.2,320.7 151.0,319.9 150.8,319.8 150.5,319.9 150.2,319.6 150.0,319.9 149.8,319.9 149.5,319.8 149.2,319.8 149.0,319.6 148.8,319.6 148.5,319.7 148.2,321.8 144.2,321.8 144.0,316.6 143.8,316.8 143.5,317.3 143.2,316.9 143.0,316.8 142.8,317.3 142.5,316.8 142.2,316.8 142.0,317.3 141.8,317.3 141.5,317.1 141.2,317.1 141.0,316.3 140.8,320.1 140.5,321.8 140.2,320.0 140.0,319.9 139.8,320.1 139.5,320.0 139.2,320.0 139.0,319.9 138.8,320.1 138.5,319.9 138.2,319.9 138.0,320.1 137.8,320.0 137.5,320.1 137.2,317.8 137.0,318.1 136.8,317.4 136.5,317.9 136.2,317.5 135.8,317.5 135.5,317.5 135.2,317.5 135.0,318.0 134.8,317.9 134.5,317.2 134.2,317.7 134.0,317.7 133.8,317.6 133.5,317.5 133.2,317.6 133.0,315.0 132.8,315.0 132.5,315.2 132.2,315.0 132.0,314.4 131.8,315.5 131.5,314.5 131.2,314.5 131.0,321.8 130.8,314.6 130.5,314.6 130.2,314.3 130.0,314.7 129.8,315.2 129.5,319.3 129.2,319.3 129.0,319.4 128.8,319.3 128.5,319.4 128.2,319.3 128.0,319.5 127.5,319.5 127.2,319.3 127.0,319.5 126.8,315.9 126.5,315.9 126.2,315.3 126.0,315.8 125.8,315.4 125.5,315.4 125.2,315.8 125.0,315.1 124.8,316.1 124.5,315.8 124.2,315.1 124.0,315.7 123.8,315.0 123.5,315.1 123.2,315.3 123.0,316.0 122.8,315.9 122.5,315.4 122.2,315.4 122.0,315.7 121.8,315.7 121.5,315.3 121.2,315.9 121.0,315.0 120.8,311.4 120.5,310.6 120.2,309.6 120.0,311.5 119.8,314.7 119.0,314.7 118.8,312.0 117.5,312.0 117.2,312.7 117.0,313.5 116.8,312.6 116.5,312.6 116.2,313.9 116.0,312.1 115.8,310.7 115.5,309.5 115.2,310.8 115.0,310.9 114.8,310.8 113.8,310.8 113.5,311.1 113.2,308.9 113.0,309.5 112.8,310.9 112.5,312.8 111.0,312.8 110.8,309.8 110.5,310.2 110.2,311.3 110.0,312.1 109.8,310.5 109.5,310.2 109.2,310.6 109.0,311.5 108.8,310.0 108.5,311.8 108.2,321.8 108.0,320.9 107.8,320.8 107.5,320.9 106.8,320.9 106.5,320.8 105.2,320.9 105.0,320.9 104.8,320.8 104.5,320.8 104.2,320.7 104.0,312.6 103.2,312.6 103.0,309.3 102.5,309.3 102.2,315.8 102.0,315.6 101.8,315.5 101.5,316.4 101.2,315.4 101.0,316.4 100.8,316.0 100.5,315.9 100.2,315.9 100.0,316.3 99.8,316.3 99.5,316.1 99.2,315.3 99.0,315.5 98.8,315.5 98.5,311.0 98.2,309.9 97.2,309.9 97.0,309.2 96.8,321.8 96.5,309.2 96.2,312.7 95.8,312.6 95.5,321.8 93.2,321.8 93.0,309.7 92.8,311.2 92.5,321.8 92.2,310.7 91.5,310.8 91.2,310.4 91.0,310.4 90.8,311.2 90.5,311.0 90.2,310.5 90.0,310.4 89.8,309.4 89.5,309.5 89.2,311.4 89.0,311.7 88.8,312.1 88.5,310.8 88.2,312.5 88.0,311.3 87.8,311.3 87.5,311.7 87.2,319.7 87.0,319.4 86.8,319.5 86.5,319.8 86.2,319.5 86.0,319.4 85.8,319.5 85.5,319.7 85.2,319.7 85.0,319.6 84.8,319.6 84.5,319.5 84.0,319.5 83.8,319.6 83.5,319.7 83.2,319.4 83.0,319.5 82.8,314.1 82.5,314.0 82.2,313.3 82.0,313.0 81.8,313.8 81.5,313.9 81.2,313.2 81.0,314.0 80.8,313.9 80.5,312.9 80.2,313.7 80.0,314.2 79.8,313.6 79.5,313.3 79.2,311.0 79.0,310.4 78.8,310.4 78.5,311.2 78.2,310.3 78.0,309.3 77.8,311.3 77.5,310.1 77.2,309.1 77.0,310.2 76.8,309.5 76.5,309.8 76.2,309.0 76.0,321.8 71.2,321.8 71.0,307.6 70.8,308.5 70.5,307.6 70.2,307.3 70.0,321.8 69.8,307.3 69.5,307.5 69.2,308.0 69.0,307.2 68.8,306.7 68.5,306.7 68.2,306.2 68.0,308.5 67.8,307.9 67.5,307.8 67.2,305.9 66.8,305.9 66.5,304.1 65.2,304.0 65.0,308.3 64.8,308.3 64.5,308.2 64.2,308.0 64.0,307.8 63.8,307.7 63.5,307.5 63.2,307.4 63.0,307.2 62.8,307.0 62.5,313.2 62.2,313.4 62.0,314.0 61.8,313.9 61.5,313.2 61.2,313.2 61.0,313.4 60.8,313.4 60.5,313.2 60.2,313.8 60.0,313.0 59.8,313.7 59.5,314.2 59.2,313.3 59.0,307.4 58.8,309.1 58.5,307.4 58.2,307.6 58.0,309.3 57.8,309.3 57.5,307.3 57.2,308.2 57.0,303.9 56.8,304.6 56.5,303.6 56.2,304.5 56.0,303.7 55.8,304.1 55.5,307.2 55.2,307.2 55.0,302.7 54.8,305.6 54.5,305.9 54.2,305.2 54.0,305.0 53.5,305.0Z" fill="#1f77b4" stroke="#1f77b4" stroke-width="1.8" stroke-linejoin="round"/>
<line x1="578.0" x2="612.4" y1="310.49" y2="310.49" stroke="#000" stroke-width="3.6"/>
<path d="M53.5,321.35 H642.5 M303.62,321.75 L304.02,317.25 L304.42,321.75 M313.80,321.75 L314.20,296.98 L314.60,321.75 M334.33,321.75 L334.73,282.72 L335.13,321.75 M584.88,321.75 L585.28,299.24 L585.68,321.75 M595.06,321.75 L595.46,195.67 L595.86,321.75 M614.05,321.75 L614.45,270.72 L614.85,321.75" fill="none" stroke="#ff7f0e" stroke-width="1.3" stroke-dasharray="1.3 1.87"/>
</g>
<rect x="53.50" y="171.65" width="589.00" height="150.10" fill="none" stroke="#808080" stroke-width="1"/>
<path clip-path="url(#c1)" d="M53.85,321.75 V236.94" fill="none" stroke="#ff7f0e" stroke-width="1.3" stroke-dasharray="1.3 1.87"/>
<path d="M53.00,321.75 h-2.0 M53.00,292.88 h-2.0 M53.00,264.02 h-2.0 M53.00,235.15 h-2.0 M53.00,206.29 h-2.0 M53.00,177.42 h-2.0 M643.00,321.75 h2.0 M643.00,284.23 h2.0 M643.00,246.70 h2.0 M643.00,209.18 h2.0 M643.00,171.65 h2.0 M53.50,322.25 v2.4 M67.52,322.25 v1.4 M81.55,322.25 v1.4 M95.57,322.25 v1.4 M109.60,322.25 v1.4 M123.62,322.25 v2.4 M137.64,322.25 v1.4 M151.67,322.25 v1.4 M165.69,322.25 v1.4 M179.71,322.25 v1.4 M193.74,322.25 v2.4 M207.76,322.25 v1.4 M221.79,322.25 v1.4 M235.81,322.25 v1.4 M249.83,322.25 v1.4 M263.86,322.25 v2.4 M277.88,322.25 v1.4 M291.90,322.25 v1.4 M305.93,322.25 v1.4 M319.95,322.25 v1.4 M333.98,322.25 v2.4 M348.00,322.25 v1.4 M362.02,322.25 v1.4 M376.05,322.25 v1.4 M390.07,322.25 v1.4 M404.10,322.25 v2.4 M418.12,322.25 v1.4 M432.14,322.25 v1.4 M446.17,322.25 v1.4 M460.19,322.25 v1.4 M474.21,322.25 v2.4 M488.24,322.25 v1.4 M502.26,322.25 v1.4 M516.29,322.25 v1.4 M530.31,322.25 v1.4 M544.33,322.25 v2.4 M558.36,322.25 v1.4 M572.38,322.25 v1.4 M586.40,322.25 v1.4 M600.43,322.25 v1.4 M614.45,322.25 v2.4 M628.48,322.25 v1.4 M642.50,322.25 v1.4" stroke="#333" stroke-width="0.9" fill="none"/>
<text x="49.20" y="326.15" font-size="10.5" text-anchor="end" textLength="23.38" lengthAdjust="spacingAndGlyphs">0.00</text>
<text x="49.20" y="297.28" font-size="10.5" text-anchor="end" textLength="23.38" lengthAdjust="spacingAndGlyphs">0.05</text>
<text x="49.20" y="268.42" font-size="10.5" text-anchor="end" textLength="23.38" lengthAdjust="spacingAndGlyphs">0.10</text>
<text x="49.20" y="239.55" font-size="10.5" text-anchor="end" textLength="23.38" lengthAdjust="spacingAndGlyphs">0.15</text>
<text x="49.20" y="210.69" font-size="10.5" text-anchor="end" textLength="23.38" lengthAdjust="spacingAndGlyphs">0.20</text>
<text x="49.20" y="181.82" font-size="10.5" text-anchor="end" textLength="23.38" lengthAdjust="spacingAndGlyphs">0.25</text>
<text x="646.40" y="326.15" font-size="10.5" textLength="6.68" lengthAdjust="spacingAndGlyphs">0</text>
<text x="646.40" y="288.62" font-size="10.5" textLength="6.68" lengthAdjust="spacingAndGlyphs">5</text>
<text x="646.40" y="251.10" font-size="10.5" textLength="13.36" lengthAdjust="spacingAndGlyphs">10</text>
<text x="646.40" y="213.58" font-size="10.5" textLength="13.36" lengthAdjust="spacingAndGlyphs">15</text>
<text x="646.40" y="176.05" font-size="10.5" textLength="13.36" lengthAdjust="spacingAndGlyphs">20</text>
<text x="64.80" y="194.35" font-size="14.3" textLength="13.53" lengthAdjust="spacingAndGlyphs">b)</text>
<text x="94.00" y="194.35" font-size="14.3" textLength="90.92" lengthAdjust="spacingAndGlyphs">PB12 (4-7 Hz)</text>
<text x="78.50" y="227.10" font-size="14.3" textLength="29.62" lengthAdjust="spacingAndGlyphs">1/7d</text>
<text x="118.30" y="273.10" font-size="14.3" textLength="29.62" lengthAdjust="spacingAndGlyphs">2/7d</text>
<text x="323.20" y="194.90" font-size="14.3" textLength="21.22" lengthAdjust="spacingAndGlyphs">1/d</text>
<text x="583.40" y="289.50" font-size="14.3" textLength="11.39" lengthAdjust="spacingAndGlyphs">M</text>
<text x="595.09" y="292.60" font-size="10.2" textLength="5.88" lengthAdjust="spacingAndGlyphs">2</text>
<text x="617.20" y="283.00" font-size="14.3" textLength="21.22" lengthAdjust="spacingAndGlyphs">2/d</text>
<g clip-path="url(#c2)">
<path d="M53.5,334.1 55.5,334.1 55.8,392.7 57.0,392.7 57.2,428.7 57.5,429.9 57.8,431.0 58.0,432.2 58.2,419.4 58.5,420.8 58.8,422.3 59.0,423.7 59.2,429.7 59.5,430.2 59.8,430.7 60.0,441.4 60.2,441.8 60.5,442.2 60.8,442.6 61.0,443.0 61.2,443.4 61.5,437.1 61.8,437.6 62.0,438.0 62.2,438.5 62.5,438.9 62.8,439.4 63.0,445.4 63.2,445.8 63.5,446.2 63.8,446.6 64.0,447.0 64.2,447.4 64.5,447.8 64.8,448.1 65.0,448.2 65.2,430.9 66.2,431.0 66.5,440.8 67.2,440.8 67.5,458.4 68.5,458.5 68.8,447.4 70.5,447.5 70.8,442.4 71.2,442.5 71.5,433.0 72.2,433.1 72.5,439.6 72.8,439.6 73.0,423.5 74.0,423.6 74.2,418.1 74.8,418.1 75.0,432.4 76.2,432.5 76.5,436.1 78.0,436.2 78.2,444.3 79.2,444.3 79.5,419.6 81.0,419.4 81.2,427.4 82.2,427.3 82.5,453.2 83.5,453.1 83.8,417.0 84.2,417.0 84.5,438.7 85.8,438.6 86.0,430.8 87.2,430.6 87.5,445.2 88.8,445.1 89.0,449.5 89.8,449.5 90.0,444.4 91.5,444.3 91.8,443.7 92.5,443.6 92.8,452.3 93.5,452.2 93.8,447.2 94.2,447.2 94.5,441.9 95.8,441.8 96.0,441.5 97.8,441.4 98.0,422.2 99.0,422.1 99.2,437.8 100.5,437.7 100.8,444.2 102.2,444.1 102.5,437.8 103.0,437.8 103.2,431.7 104.8,431.5 105.0,445.8 106.0,445.7 106.2,439.3 106.8,439.3 107.0,438.5 108.2,438.3 108.5,443.4 109.5,443.3 109.8,436.4 110.2,436.5 110.5,433.6 111.2,433.7 111.5,440.9 112.0,441.0 112.2,449.6 113.2,449.7 113.5,430.6 114.8,430.8 115.0,453.7 116.0,453.8 116.2,447.8 117.2,447.9 117.5,442.9 117.8,442.9 118.0,446.4 119.5,446.6 119.8,423.0 121.0,423.2 121.2,443.1 122.8,443.3 123.0,444.1 123.5,444.2 123.8,443.8 124.8,443.9 125.0,422.6 126.5,422.9 126.8,445.0 127.5,445.1 127.8,448.7 129.2,448.8 129.5,432.6 129.8,432.6 130.0,438.6 131.0,438.7 131.2,424.2 131.8,424.3 132.0,449.2 133.5,449.4 133.8,445.1 135.5,445.3 135.8,449.6 137.2,449.8 137.5,452.4 139.0,452.6 139.2,458.5 140.0,458.6 140.2,440.3 142.0,440.5 142.2,450.3 143.2,450.4 143.5,434.1 145.2,434.3 145.5,448.1 146.2,448.1 146.5,446.3 147.0,446.4 147.2,435.6 147.8,435.7 148.0,437.0 148.5,437.1 148.8,454.4 149.2,454.5 149.5,445.5 150.2,445.6 150.5,448.1 152.2,448.3 152.5,446.6 153.2,446.7 153.5,445.4 154.5,445.5 154.8,445.3 155.0,445.3 155.2,443.6 156.5,443.8 156.8,443.6 158.2,443.8 158.5,442.5 158.8,442.5 159.0,442.6 159.2,442.6 159.5,442.7 159.8,442.7 160.0,442.8 160.2,448.2 161.5,448.4 161.8,456.2 162.5,456.3 162.8,441.2 163.0,441.2 163.2,441.3 163.5,441.3 163.8,441.4 164.0,441.5 164.2,441.5 164.5,441.6 164.8,447.1 165.2,447.2 165.5,455.0 165.8,455.1 166.0,442.8 166.2,442.9 166.5,442.9 166.8,443.0 167.0,443.0 167.2,443.1 167.5,443.1 167.8,436.8 168.0,436.8 168.2,436.9 168.5,445.7 169.5,445.9 169.8,456.9 171.2,457.1 171.5,458.5 172.0,458.5 172.2,451.5 173.0,451.6 173.2,446.0 174.0,446.2 174.2,437.0 174.5,437.1 174.8,437.2 175.0,437.2 175.2,457.0 176.0,457.1 176.2,434.1 176.5,434.2 176.8,434.2 177.0,434.3 177.2,434.4 177.5,455.0 178.0,455.1 178.2,447.2 179.2,447.4 179.5,448.0 181.0,448.3 181.2,459.2 183.0,459.4 183.2,447.5 183.5,447.6 183.8,447.6 184.0,447.7 184.2,447.7 184.5,447.8 184.8,447.8 185.0,448.3 186.0,448.5 186.2,445.1 186.5,445.1 186.8,445.2 187.0,445.2 187.2,445.3 187.5,445.3 187.8,445.4 188.0,449.8 189.5,450.1 189.8,458.3 190.2,458.4 190.5,451.4 190.8,451.5 191.0,455.3 191.2,455.3 191.5,441.3 191.8,441.4 192.0,441.5 192.2,441.5 192.5,441.6 192.8,441.6 193.0,441.7 193.2,443.1 193.5,443.2 193.8,443.3 194.0,443.3 194.2,443.4 194.5,443.4 194.8,451.2 195.5,451.3 195.8,449.4 196.0,449.5 196.2,449.5 196.5,456.4 197.0,456.5 197.2,457.1 198.8,457.3 199.0,458.6 200.2,458.8 200.5,457.2 202.0,457.4 202.2,457.1 202.8,457.1 203.0,450.5 203.2,450.5 203.5,450.6 203.8,450.6 204.0,450.7 204.2,448.4 204.5,448.5 204.8,448.6 205.0,448.6 205.2,449.3 205.5,449.3 205.8,449.4 206.0,449.4 206.2,449.5 206.5,458.3 206.8,458.4 207.0,454.9 208.2,455.0 208.5,458.2 210.0,458.2 210.2,455.7 211.5,455.8 211.8,445.4 213.0,445.4 213.2,458.7 214.0,458.7 214.2,456.6 215.0,456.6 215.2,455.4 216.5,455.4 216.8,449.3 217.8,449.3 218.0,454.2 219.0,454.2 219.2,461.7 220.0,461.7 220.2,450.8 221.5,450.9 221.8,453.5 222.5,453.5 222.8,449.0 223.8,449.0 224.0,459.3 224.5,459.3 224.8,446.7 225.5,446.8 225.8,456.5 227.0,456.5 227.2,446.3 228.0,446.3 228.2,463.7 228.8,463.7 229.0,465.4 229.2,465.4 229.5,458.1 230.5,458.1 230.8,456.8 231.2,456.9 231.5,452.9 233.0,452.9 233.2,463.5 234.8,463.5 235.0,447.0 235.8,447.0 236.0,461.9 238.0,462.0 238.2,453.9 238.8,453.9 239.0,438.3 239.5,438.3 239.8,456.0 240.8,456.1 241.0,460.9 242.8,461.0 243.0,459.1 243.8,459.1 244.0,456.1 245.0,456.1 245.2,458.2 245.8,458.2 246.0,454.4 247.0,454.4 247.2,454.2 248.2,454.2 248.5,452.1 249.0,452.1 249.2,454.1 250.8,454.2 251.0,461.0 252.2,461.0 252.5,453.7 253.0,453.7 253.2,453.9 254.8,454.0 255.0,461.2 256.2,461.2 256.5,456.5 256.8,456.5 257.0,456.7 258.5,456.8 258.8,462.2 259.5,462.2 259.8,451.8 260.5,451.8 260.8,461.2 261.0,461.2 261.2,462.9 262.2,462.9 262.5,457.8 263.5,457.9 263.8,461.4 264.5,461.4 264.8,453.2 265.5,453.2 265.8,440.1 266.2,440.1 266.5,462.0 267.5,462.0 267.8,464.4 268.5,464.4 268.8,459.0 269.5,459.0 269.8,454.8 270.2,454.8 270.5,448.6 271.5,448.6 271.8,460.0 272.2,460.0 272.5,459.4 273.8,459.4 274.0,457.9 274.5,457.9 274.8,450.1 275.8,450.1 276.0,458.8 276.2,458.8 276.5,464.1 277.5,464.1 277.8,459.3 279.0,459.4 279.2,457.7 280.8,457.7 281.0,454.8 282.2,454.8 282.5,460.1 283.0,460.2 283.2,459.1 285.0,459.2 285.2,450.6 285.8,450.7 286.0,462.9 287.8,462.9 288.0,457.8 289.8,457.8 290.0,450.6 290.8,450.6 291.0,457.4 292.2,457.5 292.5,460.7 293.5,460.8 293.8,446.1 294.8,446.1 295.0,457.5 295.5,457.5 295.8,453.7 296.2,453.7 296.5,450.4 298.0,450.4 298.2,458.2 299.0,458.2 299.2,454.3 300.8,454.4 301.0,460.1 302.8,460.1 303.0,457.5 303.8,457.5 304.0,457.3 304.5,457.3 304.8,462.6 306.2,462.6 306.5,468.1 307.2,468.1 307.5,461.7 308.2,461.8 308.5,458.9 308.8,458.9 309.0,455.0 309.8,455.0 310.0,457.9 311.5,457.9 311.8,456.5 313.2,456.6 313.5,455.7 313.8,455.7 314.0,423.6 314.5,423.6 314.8,455.8 315.0,456.8 315.5,456.8 315.8,458.4 317.0,458.5 317.2,459.7 318.2,459.7 318.5,456.9 319.5,456.9 319.8,456.5 321.5,456.6 321.8,453.8 322.2,453.8 322.5,461.5 324.2,461.6 324.5,456.1 326.0,456.1 326.2,465.5 327.5,465.5 327.8,460.7 329.0,460.8 329.2,457.4 330.2,457.5 330.5,459.7 331.2,459.7 331.5,448.6 333.0,448.6 333.2,453.3 333.5,453.3 333.8,419.3 334.2,419.3 334.5,453.3 334.8,458.7 335.5,458.7 335.8,455.3 337.0,455.4 337.2,459.3 338.2,459.3 338.5,450.3 339.2,450.4 339.5,453.8 340.5,453.9 340.8,463.9 342.0,463.9 342.2,454.4 343.8,454.4 344.0,450.5 345.5,450.6 345.8,460.7 346.8,460.7 347.0,456.3 348.5,456.3 348.8,462.1 349.5,462.1 349.8,460.0 351.0,460.0 351.2,462.3 351.8,462.3 352.0,446.3 352.5,446.3 352.8,440.1 353.5,440.1 353.8,452.4 354.5,452.4 354.8,460.5 355.5,460.5 355.8,460.7 356.5,460.7 356.8,468.3 357.5,468.3 357.8,464.2 358.5,464.2 358.8,459.0 360.0,459.1 360.2,470.1 362.0,470.2 362.2,466.5 363.0,466.5 363.2,460.1 364.5,460.1 364.8,454.3 365.0,443.0 365.5,443.0 365.8,459.9 367.0,460.0 367.2,461.3 367.5,461.3 367.8,459.0 368.8,459.0 369.0,457.2 370.0,457.2 370.2,466.2 371.5,466.2 371.8,462.9 372.8,463.0 373.0,468.2 373.5,468.2 373.8,461.4 375.2,461.4 375.5,458.8 376.5,458.8 376.8,466.6 378.2,466.7 378.5,460.7 379.0,460.7 379.2,455.1 380.8,455.1 381.0,460.9 382.2,461.0 382.5,458.8 384.0,458.8 384.2,465.3 385.5,465.3 385.8,465.5 386.2,465.5 386.5,464.7 387.5,464.7 387.8,464.7 389.0,464.8 389.2,460.2 390.5,460.2 390.8,463.1 391.8,463.1 392.0,455.5 393.8,455.5 394.0,451.3 395.0,451.3 395.2,453.3 395.8,453.3 396.0,469.9 397.5,469.9 397.8,462.9 398.8,462.9 399.0,464.1 400.0,464.1 400.2,454.6 401.0,454.6 401.2,462.2 402.0,462.2 402.2,468.1 403.5,468.1 403.8,463.4 404.8,463.4 405.0,456.4 405.5,456.4 405.8,464.5 406.0,464.5 406.2,464.0 408.0,464.0 408.2,466.3 408.8,466.4 409.0,467.5 409.8,467.5 410.0,462.2 410.5,462.2 410.8,468.6 412.2,468.6 412.5,460.8 413.2,460.8 413.5,464.0 414.8,464.0 415.0,458.7 415.8,458.8 416.0,457.3 416.5,457.3 416.8,463.1 417.8,463.1 418.0,464.4 419.0,464.4 419.2,459.9 420.0,459.9 420.2,460.4 421.0,460.4 421.2,466.4 421.5,466.4 421.8,462.5 422.8,462.5 423.0,464.5 424.0,464.5 424.2,460.5 425.2,460.6 425.5,456.4 426.8,456.4 427.0,467.3 427.8,467.3 428.0,461.8 429.0,461.8 429.2,456.5 429.8,456.5 430.0,468.2 431.2,468.3 431.5,456.9 432.0,456.9 432.2,458.1 433.2,458.1 433.5,462.0 435.0,462.0 435.2,458.9 436.5,458.9 436.8,464.0 438.0,464.1 438.2,457.3 439.0,457.4 439.2,470.9 440.0,470.9 440.2,466.9 441.5,467.0 441.8,453.6 443.2,453.6 443.5,458.8 444.8,458.8 445.0,466.7 446.8,466.7 447.0,465.4 447.5,465.4 447.8,470.6 449.2,470.6 449.5,467.1 450.5,467.1 450.8,457.5 451.0,457.5 451.2,469.1 452.8,469.1 453.0,466.3 453.2,466.3 453.5,464.5 454.5,464.5 454.8,462.7 456.0,462.8 456.2,464.0 457.0,464.0 457.2,458.0 457.5,458.0 457.8,461.5 459.2,461.5 459.5,454.8 460.8,454.9 461.0,459.0 462.8,459.1 463.0,463.5 464.2,463.5 464.5,462.3 465.0,462.3 465.2,462.9 466.2,462.9 466.5,462.6 467.2,462.6 467.5,468.8 469.2,468.8 469.5,466.4 470.8,466.4 471.0,459.5 472.5,459.5 472.8,466.8 474.0,466.9 474.2,454.6 475.2,454.6 475.5,464.7 476.2,464.7 476.5,455.6 477.0,455.6 477.2,463.9 478.0,463.9 478.2,461.0 479.0,461.0 479.2,468.5 480.2,468.5 480.5,465.0 481.2,465.0 481.5,464.0 482.0,464.0 482.2,456.9 483.0,456.9 483.2,451.7 484.8,451.7 485.0,466.0 486.2,466.1 486.5,459.8 488.2,459.8 488.5,460.0 489.2,460.0 489.5,462.2 490.8,462.2 491.0,454.3 491.5,454.3 491.8,464.2 492.5,464.2 492.8,461.2 494.5,461.2 494.8,456.2 496.5,456.2 496.8,463.2 498.2,463.2 498.5,459.7 499.5,459.7 499.8,461.6 500.5,461.6 500.8,471.0 502.2,471.0 502.5,465.2 504.0,465.2 504.2,463.3 505.2,463.3 505.5,467.5 506.8,467.5 507.0,462.8 507.5,462.8 507.8,462.6 509.0,462.6 509.2,452.5 510.5,452.5 510.8,465.9 511.8,465.9 512.0,455.1 512.5,455.1 512.8,471.5 513.5,471.5 513.8,465.8 514.8,465.8 515.0,469.4 515.5,469.4 515.8,454.1 516.5,454.1 516.8,457.3 517.8,457.3 518.0,465.4 519.5,465.4 519.8,465.7 520.8,465.7 521.0,461.0 521.5,461.0 521.8,468.1 523.2,468.1 523.5,465.0 524.8,465.0 525.0,464.8 526.5,464.8 526.8,456.5 527.8,456.5 528.0,461.2 529.2,461.2 529.5,464.0 529.8,464.0 530.0,463.6 531.2,463.6 531.5,465.0 533.0,465.0 533.2,462.3 533.8,462.3 534.0,462.2 534.5,462.2 534.8,469.6 536.0,469.6 536.2,460.0 538.0,460.0 538.2,468.2 538.5,468.2 538.8,463.0 539.8,463.0 540.0,462.5 541.0,462.5 541.2,464.1 542.5,464.1 542.8,456.9 544.2,456.9 544.5,461.5 546.2,461.5 546.5,452.1 547.8,452.1 548.0,463.0 549.8,463.0 550.0,458.4 550.5,458.4 550.8,467.6 551.8,467.6 552.0,469.8 552.8,469.8 553.0,474.3 554.5,474.3 554.8,464.6 556.0,464.6 556.2,467.0 557.0,467.0 557.2,454.5 558.2,454.5 558.5,460.3 560.2,460.3 560.5,458.7 562.2,458.7 562.5,444.7 563.0,444.7 563.2,462.7 563.8,462.7 564.0,466.7 564.8,466.7 565.0,466.5 566.2,466.5 566.5,472.7 568.0,472.7 568.2,468.5 569.5,468.5 569.8,469.3 570.5,469.3 570.8,462.5 571.2,462.5 571.5,469.0 573.0,469.0 573.2,465.1 574.8,465.1 575.0,453.9 576.0,453.9 576.2,461.2 577.8,461.2 578.0,463.7 579.2,463.7 579.5,453.4 581.0,453.4 581.2,460.2 582.2,460.2 582.5,464.8 583.2,464.8 583.5,458.4 584.8,458.4 585.0,470.4 586.5,470.4 586.8,459.3 587.2,459.3 587.5,468.8 588.2,468.8 588.5,463.9 589.0,463.9 589.2,464.4 589.8,464.4 590.0,455.8 591.5,455.8 591.8,457.8 592.0,457.8 592.2,465.8 593.2,465.8 593.5,461.5 593.8,460.6 595.0,460.6 595.2,393.9 595.8,393.9 596.0,460.6 596.2,456.9 597.2,456.9 597.5,463.2 597.8,465.6 599.0,465.6 599.2,461.8 600.2,461.8 600.5,468.8 600.8,468.8 601.0,470.5 601.5,470.5 601.8,456.0 602.2,456.0 602.5,455.1 603.0,455.1 603.2,467.0 604.2,467.0 604.5,463.0 606.2,463.0 606.5,460.8 607.5,460.8 607.8,458.3 609.0,458.3 609.2,460.4 610.2,460.4 610.5,468.0 611.2,468.0 611.5,465.0 612.5,465.0 612.8,463.3 613.8,463.3 614.0,465.6 614.5,465.6 614.8,468.1 615.2,468.1 615.5,462.5 617.0,462.5 617.2,462.8 618.5,462.8 618.8,456.4 619.2,456.4 619.5,471.7 620.8,471.7 621.0,456.6 622.2,456.6 622.5,462.1 623.5,462.1 623.8,460.8 625.2,460.8 625.5,466.4 625.8,466.4 626.0,460.4 627.2,460.4 627.5,468.7 628.5,468.7 628.8,463.8 629.2,463.8 629.5,463.1 630.2,463.1 630.5,470.8 631.2,470.8 631.5,462.5 632.8,462.5 633.0,460.6 633.8,460.6 634.0,445.9 634.5,445.9 634.8,465.3 635.0,458.5 636.2,458.5 636.5,472.0 637.8,472.0 638.0,475.1 639.5,475.1 639.8,466.3 640.8,466.3 641.0,465.7 641.5,465.7 641.8,470.9 642.5,470.9 642.5,480.0 642.2,487.7 642.0,487.6 641.8,489.1 641.5,487.5 641.2,487.6 641.0,487.5 640.8,487.7 640.5,487.5 640.2,487.5 640.0,487.6 639.8,487.5 639.5,487.5 639.2,487.6 639.0,487.7 638.8,487.5 638.5,489.1 638.2,487.6 638.0,487.7 637.8,487.7 637.5,487.7 637.2,487.5 637.0,485.6 636.8,485.6 636.5,485.5 636.2,485.6 636.0,485.3 635.8,485.5 635.5,485.6 635.2,485.2 635.0,485.7 634.8,485.6 634.5,485.4 634.2,485.2 634.0,483.6 633.8,483.4 633.5,483.1 633.2,482.8 633.0,483.0 632.8,483.5 632.5,483.4 632.2,483.5 632.0,482.8 631.8,483.3 631.5,483.9 631.2,483.7 631.0,483.8 630.8,483.0 630.5,489.1 630.2,483.0 630.0,483.4 629.8,483.5 629.5,477.7 629.2,476.7 629.0,477.5 628.8,478.7 628.5,478.9 627.5,478.9 627.2,478.0 627.0,476.9 626.8,477.3 626.5,478.0 626.2,477.4 626.0,478.5 625.8,477.8 625.5,478.0 625.2,478.2 625.0,478.0 624.8,477.5 624.5,477.1 624.2,486.2 624.0,485.9 623.5,485.9 623.2,486.2 623.0,486.3 622.8,489.1 622.5,486.1 622.2,485.8 622.0,486.1 621.8,486.0 621.5,485.9 621.2,486.3 621.0,486.1 620.8,485.9 620.5,485.9 620.2,485.8 620.0,486.2 619.8,489.1 610.2,489.1 610.0,477.8 609.8,477.5 609.5,476.5 609.2,477.9 609.0,477.7 608.8,476.6 608.5,477.1 608.2,478.0 608.0,477.4 607.8,478.5 607.5,477.7 607.2,477.2 607.0,478.3 606.8,477.6 606.5,477.3 606.2,477.7 606.0,478.2 605.8,481.5 605.5,481.3 605.2,481.7 605.0,480.5 604.8,480.6 604.5,480.5 604.2,480.4 604.0,480.5 603.8,480.5 603.5,481.3 603.2,481.4 603.0,481.5 602.8,485.9 602.5,486.0 602.2,485.4 602.0,485.4 601.8,485.9 601.5,489.1 601.2,485.4 601.0,485.5 600.8,485.8 600.5,485.8 600.2,485.6 600.0,485.9 599.8,485.7 599.5,486.0 599.2,485.9 599.0,486.0 598.8,485.5 598.5,485.9 598.2,485.3 598.0,484.2 597.8,484.6 597.5,484.2 597.2,484.3 597.0,483.8 596.8,483.8 596.5,484.3 596.2,484.5 596.0,484.4 595.8,482.8 595.5,481.7 595.2,482.1 595.0,481.8 594.8,482.6 594.5,482.6 594.2,481.6 594.0,482.4 593.8,482.5 593.5,481.6 593.2,481.6 593.0,481.8 592.8,482.4 592.5,482.7 592.2,489.1 587.5,489.1 587.2,477.7 587.0,477.6 586.8,477.4 586.5,479.8 585.2,479.8 585.0,489.1 584.8,477.7 584.5,484.6 584.2,484.4 584.0,484.3 583.8,484.5 583.5,483.9 583.2,484.5 583.0,484.6 582.8,484.5 582.5,484.5 582.2,483.8 582.0,479.1 581.8,480.4 581.5,479.8 581.2,480.2 581.0,480.0 580.8,480.3 580.5,480.7 580.2,479.3 580.0,479.5 579.8,480.4 579.5,479.2 579.2,480.3 579.0,480.8 578.8,480.1 578.5,480.4 578.2,480.6 578.0,479.3 577.8,479.1 577.5,480.8 577.2,480.1 577.0,480.7 576.8,479.1 576.5,483.2 576.2,483.3 576.0,483.3 575.8,483.3 575.5,483.0 575.2,482.4 575.0,483.1 574.8,482.5 574.5,482.8 574.2,483.0 574.0,482.4 573.8,483.6 573.5,483.2 573.2,482.4 573.0,483.1 572.8,483.3 572.5,482.4 572.2,479.1 571.5,479.1 571.2,477.0 571.0,477.2 570.8,477.7 570.5,479.2 569.8,479.2 569.5,478.8 568.2,478.8 568.0,480.9 566.5,480.9 566.2,477.8 566.0,477.8 565.8,483.9 565.5,483.7 565.2,483.7 565.0,483.5 564.8,483.6 564.5,483.5 564.2,484.2 564.0,484.7 563.8,484.6 563.5,484.6 563.2,484.9 563.0,484.9 562.8,484.5 562.5,484.7 562.2,484.7 562.0,484.7 561.8,484.6 561.5,483.4 561.2,483.8 561.0,483.9 560.8,483.7 560.5,483.5 560.2,484.1 560.0,483.6 559.8,483.0 559.5,484.0 559.2,483.1 559.0,484.0 558.8,483.5 558.5,483.7 558.2,483.9 558.0,483.6 557.8,483.5 557.5,488.4 557.2,488.5 557.0,488.4 556.8,488.3 556.5,488.4 556.2,488.3 556.0,488.4 555.8,488.3 555.5,488.4 554.8,488.4 554.5,488.4 554.2,488.3 554.0,487.7 553.8,487.5 553.2,487.6 553.0,487.8 552.8,487.6 552.5,487.8 552.2,487.7 552.0,487.6 551.2,487.6 551.0,487.8 550.8,487.8 550.5,487.7 550.2,487.7 550.0,487.6 549.8,487.5 549.5,487.6 549.2,487.3 549.0,487.3 548.8,487.2 548.5,487.3 548.2,487.5 548.0,487.4 547.8,487.2 547.5,487.2 547.2,487.3 547.0,487.3 546.8,487.5 546.5,487.3 546.2,487.2 546.0,487.2 545.8,487.3 545.5,487.3 545.2,487.4 545.0,487.3 544.8,487.2 544.5,487.2 544.2,487.2 544.0,487.4 543.8,480.8 543.5,489.1 543.2,480.6 543.0,480.5 542.8,480.6 542.5,481.2 542.2,481.1 542.0,481.7 541.8,479.8 541.5,480.3 541.2,479.0 541.0,479.9 540.8,480.5 540.5,480.6 540.2,480.5 540.0,480.6 539.8,480.9 539.5,479.6 539.2,480.7 539.0,479.5 538.8,479.2 538.5,479.6 538.2,480.4 538.0,480.6 537.8,479.6 537.5,480.0 537.2,481.3 537.0,481.6 536.8,480.5 536.5,480.6 536.2,480.5 536.0,480.9 535.8,481.4 535.5,481.8 535.2,480.5 535.0,481.0 534.8,481.5 534.5,488.0 534.2,488.1 534.0,488.0 533.8,487.9 533.5,488.0 533.2,487.9 533.0,488.0 532.8,488.0 532.5,487.9 532.0,487.9 531.8,488.1 531.5,487.9 531.2,487.9 531.0,488.0 530.8,488.1 530.5,488.0 530.2,488.0 530.0,488.1 529.8,487.9 529.5,488.0 529.2,475.6 529.0,476.9 528.8,475.7 528.5,475.8 528.2,477.0 528.0,476.3 527.8,476.5 527.5,475.9 527.2,475.7 527.0,475.4 526.8,476.3 526.5,477.8 526.2,477.0 526.0,485.8 525.8,485.7 525.5,485.8 525.2,485.3 525.0,485.6 524.8,485.5 524.2,485.4 524.0,485.6 523.8,485.6 523.5,485.7 523.2,489.1 523.0,485.8 522.8,485.6 522.5,485.3 522.2,485.5 522.0,485.5 521.8,478.6 521.5,478.1 521.2,478.9 521.0,479.2 520.8,477.7 520.5,478.9 520.2,479.5 520.0,478.2 519.8,478.3 519.5,477.7 519.2,479.3 519.0,489.1 515.5,489.1 515.2,480.6 515.0,481.5 514.8,481.1 514.5,480.6 514.2,481.0 514.0,481.3 513.8,481.4 513.5,480.8 513.2,481.8 513.0,480.7 512.8,480.8 512.5,481.5 512.2,480.6 512.0,481.2 511.8,481.3 511.5,480.6 511.2,484.9 511.0,485.4 510.8,484.8 510.5,484.9 510.2,485.6 510.0,485.6 509.8,484.9 509.5,482.3 509.2,482.7 509.0,481.9 508.8,482.2 508.5,482.8 508.2,482.7 508.0,483.0 507.8,482.8 507.5,482.1 507.2,482.7 507.0,481.6 506.8,482.1 506.5,482.7 506.2,482.3 506.0,481.6 505.8,482.1 505.5,481.9 505.2,482.4 505.0,482.5 504.8,482.7 504.5,482.4 504.2,482.9 504.0,479.6 503.8,480.2 503.5,480.5 503.2,480.8 503.0,480.8 502.8,481.0 502.5,479.7 502.2,480.9 502.0,481.0 501.8,480.2 501.5,480.4 501.2,480.4 501.0,480.3 500.8,480.6 500.5,479.7 500.2,480.8 500.0,480.5 499.8,480.9 499.5,481.0 499.2,481.1 499.0,480.7 498.8,480.4 498.5,489.1 498.2,478.6 498.0,479.0 497.8,489.1 497.5,477.8 497.2,477.3 497.0,478.7 496.8,478.7 496.5,477.6 496.2,477.4 496.0,477.3 495.8,479.1 495.5,478.0 495.2,477.3 495.0,478.9 494.8,479.0 494.5,477.8 494.2,477.4 494.0,478.8 493.8,478.1 493.5,476.9 493.2,477.1 493.0,477.5 492.8,477.8 492.5,477.1 492.2,477.6 492.0,476.7 491.8,476.9 491.5,477.3 491.2,477.0 491.0,477.1 490.8,478.2 490.5,478.6 490.2,478.4 490.0,477.9 489.8,485.9 489.5,485.6 489.2,486.1 489.0,485.8 488.8,485.5 488.5,485.6 488.2,485.8 488.0,485.8 487.8,485.5 487.5,486.0 487.2,485.9 487.0,486.0 486.8,488.0 486.5,488.1 486.2,487.9 485.8,487.9 485.5,488.1 484.8,488.1 484.5,485.6 484.2,485.5 483.8,485.5 483.5,489.1 483.2,485.5 483.0,485.2 482.8,485.8 482.5,485.4 482.2,485.9 482.0,485.6 481.8,485.5 481.5,485.3 481.2,485.7 481.0,485.6 480.8,485.3 480.5,485.3 480.2,485.7 480.0,485.6 479.8,485.6 479.5,485.7 479.2,485.8 479.0,485.8 478.8,477.3 478.5,476.7 478.2,478.5 478.0,476.5 477.8,476.5 477.5,478.4 477.2,476.7 477.0,477.0 476.8,477.9 476.5,478.3 476.2,477.6 476.0,476.9 475.8,477.6 475.5,477.6 475.2,476.7 475.0,478.2 474.8,476.9 474.5,477.1 474.2,477.6 474.0,478.3 473.8,478.0 473.5,478.4 473.2,478.5 473.0,482.6 472.8,482.6 472.5,483.1 472.2,483.4 472.0,482.9 471.8,482.8 471.5,482.6 471.2,483.5 471.0,483.1 470.8,482.8 470.5,483.6 470.2,483.4 470.0,483.6 469.8,483.4 469.5,483.0 469.2,483.3 469.0,479.0 468.8,479.0 468.5,489.1 468.2,479.0 467.5,479.0 467.2,477.4 467.0,478.1 466.8,477.7 466.5,477.0 466.2,477.8 466.0,477.1 465.8,476.3 465.5,489.1 465.2,488.8 465.0,489.1 464.8,488.9 462.8,488.8 462.5,489.1 462.2,488.8 461.5,488.8 461.2,489.1 457.0,489.1 456.8,476.6 456.2,476.6 456.0,476.0 454.8,475.9 454.5,476.8 453.5,476.8 453.2,477.7 453.0,477.7 452.8,479.1 452.5,488.6 452.2,489.1 452.0,488.5 451.8,488.6 451.5,488.5 451.2,488.6 450.8,488.6 450.5,488.5 450.2,488.6 450.0,488.6 449.8,488.5 449.5,488.5 449.2,488.6 449.0,488.5 448.8,485.2 448.5,485.2 448.2,484.8 448.0,485.5 447.8,485.0 447.5,485.0 447.2,484.8 447.0,485.4 446.8,485.1 446.5,485.5 446.2,485.5 446.0,485.0 445.8,485.5 445.5,485.1 445.2,485.4 445.0,485.4 444.8,485.0 444.5,484.9 444.2,485.0 444.0,484.9 443.8,486.0 443.5,486.1 443.2,486.0 443.0,485.9 442.8,486.1 442.5,486.2 442.2,486.0 442.0,485.6 441.8,485.7 441.5,486.0 441.2,486.2 441.0,485.7 440.8,485.9 440.5,488.0 440.2,488.1 440.0,488.1 439.8,488.0 439.5,487.9 439.2,488.1 439.0,487.9 438.8,488.0 438.5,487.9 438.2,489.1 438.0,487.9 437.8,488.0 437.5,476.6 436.8,476.6 436.5,474.9 436.2,474.9 436.0,489.1 435.8,474.0 435.2,474.0 435.0,475.6 433.5,475.6 433.2,473.6 432.2,473.6 432.0,473.0 431.5,473.0 431.2,478.7 430.0,478.7 429.8,478.5 429.5,478.8 429.2,478.5 429.0,478.1 428.8,477.7 428.5,489.1 428.2,477.6 428.0,477.8 427.8,478.4 427.5,478.3 427.2,489.1 427.0,489.1 426.8,489.0 423.2,489.0 423.0,484.2 422.8,484.1 422.5,489.1 422.2,483.9 422.0,483.6 421.8,484.0 421.5,484.2 421.2,483.9 421.0,484.0 420.8,483.9 420.5,483.8 420.2,484.1 420.0,484.1 419.8,489.1 416.5,489.1 416.2,486.8 416.0,486.8 415.8,486.5 415.5,486.4 415.2,486.4 415.0,486.6 414.8,486.6 414.5,486.8 414.2,486.4 414.0,486.4 413.8,485.5 413.5,485.5 413.2,485.4 413.0,485.2 412.8,485.5 412.5,485.1 412.2,484.8 412.0,484.9 411.8,485.5 411.5,484.9 411.2,485.4 411.0,484.9 410.8,485.2 410.5,484.8 410.2,485.2 410.0,484.9 409.8,485.3 409.5,485.0 409.2,484.8 409.0,485.2 408.8,485.5 408.5,484.8 408.2,485.1 408.0,486.9 407.8,487.0 407.5,487.1 407.2,487.1 407.0,486.9 406.8,487.0 406.5,487.1 406.2,489.1 406.0,487.0 405.8,486.7 405.5,487.1 405.2,486.9 405.0,487.0 404.8,487.0 404.5,487.1 404.2,486.7 404.0,489.1 403.8,486.9 403.2,486.8 403.0,487.0 402.8,486.7 402.5,486.8 402.2,486.9 402.0,486.7 401.8,486.9 401.5,486.7 401.2,481.0 401.0,480.2 400.8,480.6 400.5,479.9 400.2,481.1 400.0,481.0 399.8,480.5 399.5,479.9 399.2,481.2 399.0,479.8 398.8,480.2 398.5,481.5 398.2,480.2 398.0,480.5 397.8,481.3 397.5,481.0 397.2,480.3 397.0,481.2 396.8,480.5 396.5,481.2 396.2,480.6 396.0,481.0 395.8,489.1 391.5,489.1 391.2,483.5 391.0,483.0 390.8,483.3 390.5,483.1 390.2,483.5 390.0,482.6 389.8,483.2 389.5,482.9 389.2,483.0 389.0,482.4 388.8,482.4 388.5,483.0 388.2,482.8 388.0,482.7 387.8,482.8 387.5,482.3 387.2,483.0 387.0,483.4 386.8,482.8 386.5,482.8 386.2,482.5 386.0,486.8 385.8,486.9 385.5,486.7 385.2,486.6 385.0,486.6 384.8,486.8 384.5,486.5 384.2,486.7 384.0,486.7 383.8,486.7 383.5,486.8 383.2,486.5 383.0,486.8 382.8,486.8 382.5,486.5 382.2,486.8 382.0,486.8 381.8,489.1 378.8,489.1 378.5,479.3 378.2,481.0 378.0,479.6 377.8,480.7 377.5,480.8 377.2,479.8 377.0,480.7 376.8,480.4 376.5,480.8 376.2,480.7 376.0,480.3 375.8,480.9 375.5,479.9 375.2,480.3 375.0,479.6 374.8,476.6 374.5,477.5 374.2,477.2 374.0,478.3 373.8,477.2 373.5,478.7 373.0,478.7 372.8,477.7 372.5,477.8 372.2,489.1 372.0,477.3 371.8,477.2 371.5,478.2 371.2,477.7 370.8,477.7 370.5,489.1 370.2,477.7 370.0,477.8 369.8,478.3 369.5,485.4 369.2,485.4 369.0,485.6 368.8,485.3 368.5,485.7 368.2,485.4 368.0,485.3 367.8,485.7 367.5,485.5 367.2,485.4 367.0,485.6 366.8,485.5 366.5,485.2 366.2,485.8 366.0,485.2 365.8,485.7 365.5,485.9 365.2,485.8 365.0,485.7 364.8,485.8 364.5,485.3 364.2,486.3 364.0,486.4 363.8,486.5 363.0,486.4 362.8,486.2 362.5,486.2 362.2,486.5 362.0,486.2 361.8,486.6 361.5,486.3 361.2,485.8 361.0,489.1 360.8,485.9 360.5,485.5 360.2,485.8 360.0,485.7 359.8,485.5 359.5,485.9 359.2,486.0 359.0,485.6 358.8,485.6 358.5,485.5 358.2,485.7 358.0,485.7 357.8,485.9 357.5,485.8 357.2,485.6 357.0,485.5 356.8,485.8 356.5,485.5 356.2,485.7 356.0,485.6 355.8,489.1 351.2,489.1 351.0,486.9 350.8,486.9 350.5,487.0 350.2,489.1 350.0,487.2 349.5,487.2 349.2,486.9 349.0,487.0 348.8,487.2 348.5,486.9 348.2,487.0 348.0,487.0 347.8,487.1 347.5,487.0 347.0,487.0 346.8,487.2 346.5,486.9 346.2,487.1 346.0,482.5 345.8,483.1 345.5,482.6 345.2,482.3 345.0,482.2 344.8,483.0 344.5,482.3 344.2,482.8 344.0,482.6 343.8,482.9 343.5,481.5 343.2,481.7 343.0,480.8 342.8,480.7 342.5,481.8 342.2,481.6 342.0,481.4 341.8,481.4 341.5,481.4 341.2,481.9 341.0,482.4 340.8,482.0 340.5,481.2 340.2,482.4 340.0,481.9 339.8,481.4 339.5,482.0 339.2,482.2 339.0,481.6 338.8,481.6 338.5,482.1 338.2,481.8 338.0,482.3 337.8,481.9 337.5,482.2 337.2,482.1 337.0,482.5 336.8,478.9 336.5,478.4 336.2,478.9 336.0,478.4 335.8,479.9 335.5,479.7 335.2,479.1 335.0,479.9 334.8,478.9 334.5,479.8 334.2,479.0 334.0,478.3 333.8,478.0 333.5,478.5 333.2,478.8 333.0,479.4 332.8,479.4 332.5,478.9 332.2,478.7 332.0,478.1 331.8,479.4 331.5,478.9 331.2,479.8 331.0,479.4 330.8,474.4 330.5,474.4 330.2,473.3 329.5,473.3 329.2,473.5 329.0,475.0 327.8,474.9 327.5,477.3 326.2,477.3 326.0,472.6 325.8,472.8 325.5,484.4 325.2,485.1 325.0,484.3 324.8,484.9 324.5,484.7 324.2,485.0 324.0,477.1 323.8,477.3 323.5,479.0 323.2,478.7 323.0,476.9 322.8,477.8 322.5,477.6 322.2,489.1 319.8,489.1 319.5,480.2 319.2,480.7 319.0,480.9 318.8,479.6 318.5,479.4 318.2,479.8 318.0,479.7 317.8,480.6 317.5,479.5 317.2,480.7 317.0,480.4 316.8,480.9 316.5,479.8 316.2,480.7 316.0,480.9 315.8,480.8 315.5,480.9 315.2,479.9 315.0,479.5 314.8,480.6 314.5,479.9 314.2,478.4 314.0,477.2 313.8,476.7 313.5,478.0 313.2,476.6 313.0,476.4 312.8,489.1 312.5,477.4 312.2,477.3 312.0,484.4 311.8,489.1 311.5,484.3 311.2,484.6 311.0,484.4 310.8,483.9 310.5,483.9 310.2,483.7 310.0,483.7 309.8,484.0 309.5,484.4 309.2,484.5 309.0,483.9 308.8,483.8 308.5,484.1 308.2,484.5 308.0,484.6 307.8,484.7 307.5,484.1 307.2,483.9 307.0,484.1 306.8,483.8 306.5,479.4 306.2,480.3 306.0,480.2 305.8,479.8 305.5,479.6 305.2,479.3 305.0,478.6 304.8,479.1 304.5,479.5 304.2,480.0 304.0,482.8 303.8,482.6 303.5,483.5 303.2,483.2 303.0,482.9 302.8,482.3 302.5,482.8 302.2,483.1 302.0,483.3 301.8,482.7 301.5,482.3 301.2,482.6 301.0,483.3 300.8,483.4 300.2,483.4 300.0,483.4 299.8,482.3 299.5,482.5 299.2,484.6 299.0,484.7 298.8,484.8 298.5,485.1 298.2,484.5 298.0,485.0 297.8,484.7 297.5,484.8 297.2,484.5 297.0,485.1 296.8,484.4 296.5,489.1 296.2,484.9 296.0,484.3 295.8,484.4 295.5,484.7 295.2,484.9 295.0,484.4 294.8,484.3 294.5,484.7 294.2,484.8 294.0,485.2 293.8,485.0 293.5,485.0 293.2,485.4 293.0,485.2 292.8,485.1 292.5,484.9 292.2,489.1 292.0,485.2 291.8,485.3 291.5,485.2 291.2,485.0 291.0,484.9 290.8,485.6 290.5,485.4 290.2,484.9 290.0,485.6 289.8,485.0 289.5,485.0 289.2,485.5 289.0,485.1 288.8,487.7 288.0,487.8 287.8,487.9 287.5,489.1 287.2,487.8 287.0,487.7 286.8,487.8 286.5,487.7 286.2,487.7 286.0,487.7 285.8,487.7 285.5,487.9 285.2,487.7 285.0,487.9 284.8,487.7 284.5,487.6 284.2,487.8 284.0,489.1 283.8,487.8 283.5,487.7 283.2,489.1 283.0,487.4 282.8,487.3 282.5,487.2 282.2,487.2 282.0,487.1 281.8,487.3 281.5,487.1 281.2,487.4 281.0,476.5 280.8,478.7 280.5,478.5 280.2,477.2 280.0,477.2 279.8,477.3 279.5,478.7 279.2,488.7 279.0,488.8 278.8,488.7 278.5,488.7 278.0,488.7 277.8,474.3 277.5,476.6 276.5,476.6 276.2,474.0 276.0,475.0 275.8,474.0 275.5,474.1 275.2,475.8 275.0,475.4 274.8,475.2 274.5,475.6 274.2,483.3 274.0,483.9 273.8,483.4 273.5,483.4 273.2,484.1 273.0,483.7 272.8,483.5 272.5,483.4 272.2,483.3 272.0,477.9 271.8,478.5 271.5,477.8 271.2,478.5 271.0,477.5 270.8,477.5 270.5,479.4 270.2,479.3 270.0,478.4 269.8,478.1 269.5,478.0 269.2,478.3 269.0,479.0 268.8,479.1 268.5,478.3 268.2,477.8 268.0,477.6 267.8,478.3 267.5,485.0 267.2,485.1 267.0,485.3 266.8,489.1 266.5,485.4 266.2,485.5 266.0,485.5 265.8,485.0 265.5,485.3 265.2,485.6 265.0,489.1 264.8,484.9 264.5,485.3 264.2,485.4 264.0,485.5 263.8,485.0 263.5,484.8 263.2,486.6 263.0,486.3 262.8,486.5 262.5,486.4 262.2,486.1 262.0,486.4 261.8,486.3 261.5,486.6 261.2,486.2 261.0,486.6 260.8,489.1 260.5,486.4 260.2,486.6 260.0,486.5 259.8,486.2 259.5,486.4 259.2,486.2 259.0,486.7 258.8,486.6 258.5,489.1 258.2,486.9 258.0,487.0 257.8,486.8 257.5,486.6 257.2,486.6 256.5,486.7 256.2,486.9 256.0,486.9 255.8,486.7 255.5,486.5 255.2,486.6 255.0,486.9 254.8,486.8 254.5,486.6 254.2,486.6 254.0,486.9 253.8,472.0 253.5,471.5 253.2,472.5 253.0,473.5 252.8,471.4 252.5,472.3 252.2,475.1 251.0,475.1 250.8,471.8 250.5,471.6 250.2,471.8 250.0,472.7 249.8,472.5 249.5,471.6 249.2,471.6 249.0,471.3 248.8,472.1 248.5,472.7 248.2,473.3 248.0,472.1 247.8,485.8 247.5,485.9 247.2,486.0 247.0,486.1 246.8,486.0 246.5,486.2 246.2,486.2 246.0,485.9 245.8,485.9 245.5,485.8 245.2,489.1 245.0,486.1 244.8,486.0 244.5,489.1 239.0,489.1 238.8,488.3 238.5,488.2 238.2,488.1 238.0,488.2 237.8,488.3 237.5,488.1 237.0,488.1 236.8,488.2 236.5,488.3 236.2,488.2 236.0,488.3 235.8,488.1 235.5,488.2 235.2,484.5 235.0,484.4 234.8,484.2 234.5,484.5 234.2,483.8 234.0,484.6 233.8,484.4 233.5,484.2 233.2,484.3 233.0,483.9 232.8,477.5 232.5,476.2 232.2,477.3 232.0,477.3 231.8,476.9 231.5,478.0 231.2,475.6 231.0,477.4 230.8,477.1 230.5,475.7 230.2,476.9 230.0,477.3 229.8,488.9 229.5,489.1 229.2,489.0 227.2,488.9 227.0,489.1 226.8,488.9 226.5,478.2 226.2,477.0 226.0,476.4 225.8,477.7 225.5,476.3 225.2,476.8 225.0,476.4 224.8,486.8 224.5,487.0 224.2,486.8 224.0,487.0 223.8,486.9 223.2,487.0 223.0,486.8 222.8,486.8 222.5,487.1 222.2,487.0 222.0,486.9 221.8,486.8 221.5,486.8 221.2,487.2 221.0,484.3 220.8,483.4 220.5,483.8 220.2,483.4 220.0,484.3 219.8,483.8 219.5,483.3 219.2,483.6 219.0,484.0 218.8,483.6 218.5,483.9 218.2,483.6 218.0,484.0 217.8,483.5 217.5,483.9 217.2,483.8 217.0,484.2 216.8,483.9 216.5,480.4 216.2,480.9 216.0,481.8 215.8,481.2 215.5,480.8 215.2,481.4 215.0,480.6 214.8,481.6 214.5,480.8 214.2,480.9 214.0,480.9 213.8,481.4 213.5,481.5 213.2,480.6 213.0,481.1 212.8,481.2 212.5,480.4 212.2,480.4 212.0,472.9 211.8,472.3 211.5,474.1 211.2,474.0 211.0,472.4 210.8,474.6 210.5,472.4 210.2,472.6 210.0,473.7 209.5,473.7 209.2,474.4 209.0,474.0 208.8,474.0 208.5,473.7 208.2,473.0 208.0,474.8 207.8,473.4 207.5,472.5 207.2,472.0 207.0,474.8 206.8,484.7 206.5,484.3 206.2,484.6 206.0,485.0 205.8,484.7 205.5,484.2 205.2,484.5 205.0,484.3 204.8,484.4 204.5,484.4 204.2,484.7 204.0,484.5 203.5,484.5 203.2,485.1 203.0,489.1 202.8,484.3 202.5,484.5 202.2,484.5 202.0,484.2 201.8,484.5 201.5,484.6 201.2,484.5 201.0,479.3 200.8,479.1 200.5,478.7 200.2,478.5 200.0,478.4 199.8,479.8 199.5,479.0 199.2,478.2 199.0,479.6 198.8,478.6 198.5,479.4 198.2,484.8 198.0,485.0 197.8,484.9 197.5,484.7 197.2,484.7 197.0,485.0 196.8,485.1 196.5,484.4 196.2,485.1 196.0,484.5 195.8,484.4 195.5,488.0 195.2,488.1 194.8,488.1 194.5,487.9 194.2,488.0 194.0,487.9 193.5,487.9 193.2,488.0 193.0,488.1 192.8,488.0 192.5,488.1 192.2,488.1 192.0,488.0 191.8,488.0 191.5,489.1 191.2,488.0 191.0,488.0 190.8,487.9 190.5,474.9 190.2,476.1 190.0,474.4 189.8,475.3 189.5,474.4 189.2,475.5 189.0,474.7 188.8,475.1 188.5,475.5 188.2,474.7 188.0,474.3 187.8,476.3 187.5,489.1 187.2,477.0 187.0,475.4 186.8,476.3 186.5,476.2 186.2,476.2 186.0,484.6 185.8,484.5 185.5,484.7 185.2,484.4 185.0,485.1 184.8,484.4 184.5,484.7 184.2,484.9 184.0,484.6 183.8,484.8 183.5,484.4 183.2,484.7 183.0,484.4 182.8,485.0 182.5,485.1 182.2,484.3 182.0,484.8 181.8,484.5 181.5,489.1 177.2,489.1 177.0,488.4 176.5,488.4 176.2,488.5 176.0,488.5 175.8,488.4 175.2,488.4 175.0,488.5 174.2,488.4 174.0,485.2 173.8,484.6 173.5,485.3 173.2,484.8 173.0,484.6 172.8,485.3 172.5,485.1 172.2,485.3 172.0,484.5 171.8,485.3 171.5,484.9 171.2,485.1 171.0,484.8 170.8,485.2 170.5,485.2 170.2,484.7 170.0,485.2 169.8,484.7 169.5,484.6 169.2,485.0 169.0,485.0 168.8,485.0 168.5,485.3 168.2,484.5 168.0,484.6 167.8,485.0 167.5,484.4 167.2,484.9 167.0,484.5 166.8,484.6 166.5,484.6 166.2,484.9 166.0,484.8 165.8,484.6 165.5,485.0 165.2,485.0 165.0,484.4 164.8,485.1 164.5,484.7 164.2,484.7 164.0,484.6 163.8,484.7 163.5,484.9 163.2,484.8 163.0,484.7 162.8,483.2 162.5,483.2 162.2,483.1 162.0,483.3 161.8,482.7 161.5,483.4 161.2,483.2 161.0,483.0 160.8,483.8 160.5,483.6 160.2,483.7 160.0,483.2 159.8,483.4 159.5,483.0 159.2,483.3 159.0,483.8 158.8,483.8 158.5,483.7 158.2,483.6 158.0,482.9 157.8,481.4 157.5,481.1 157.2,481.2 157.0,481.5 156.8,480.6 156.5,480.6 156.2,481.3 156.0,481.3 155.8,481.1 155.5,480.9 155.2,481.0 155.0,481.2 154.8,481.1 154.5,481.6 154.2,481.0 154.0,478.0 153.8,477.6 153.5,476.8 153.2,477.9 153.0,477.0 152.8,477.3 152.5,476.5 152.2,476.0 152.0,478.1 151.8,480.5 151.5,480.1 151.2,480.7 151.0,480.0 150.8,481.1 150.5,480.7 150.2,479.9 150.0,480.4 149.8,480.8 149.5,480.7 149.2,480.1 149.0,480.3 148.8,480.5 148.5,480.9 148.2,488.6 148.0,488.6 147.8,488.7 146.5,488.7 146.2,488.6 146.0,488.7 145.0,488.6 144.8,488.7 144.2,488.6 144.0,488.7 142.8,488.7 142.5,488.6 142.2,484.5 142.0,484.5 141.8,485.1 141.5,484.9 141.2,484.6 141.0,484.8 140.8,484.4 140.5,484.5 140.2,484.4 140.0,485.1 139.8,484.7 139.5,485.2 139.2,484.9 139.0,485.0 138.8,484.6 138.5,484.5 138.2,484.4 138.0,485.1 137.8,479.8 137.5,480.2 137.2,479.9 137.0,480.1 136.8,480.7 136.5,480.9 136.2,480.6 136.0,479.8 135.8,480.1 135.5,480.6 135.2,480.5 135.0,480.0 134.8,480.9 134.5,479.9 134.2,480.5 134.0,480.7 133.8,480.8 133.5,481.3 133.2,481.1 133.0,481.1 132.8,480.5 132.5,480.9 132.2,480.7 132.0,480.3 131.8,481.8 131.5,480.4 131.2,480.5 131.0,480.8 130.8,480.2 130.5,481.0 130.2,481.3 130.0,481.0 129.8,481.5 129.5,481.1 129.2,481.4 129.0,481.0 128.8,481.5 128.5,481.0 128.2,481.5 128.0,481.2 127.8,485.7 127.5,485.1 127.2,485.5 127.0,485.1 126.8,485.6 126.5,485.2 126.2,485.1 126.0,485.4 125.8,485.7 125.5,485.3 125.2,485.4 125.0,485.1 124.8,485.2 124.5,467.7 124.2,468.6 124.0,470.0 123.8,467.2 123.5,468.6 123.2,470.5 123.0,469.9 122.8,470.0 122.5,469.0 122.2,469.9 122.0,470.8 121.8,469.1 121.5,469.4 121.2,467.8 121.0,469.7 120.8,469.5 120.5,469.2 120.2,467.2 120.0,470.4 119.8,477.5 119.5,477.2 119.2,475.7 119.0,476.0 118.8,476.6 118.5,476.1 118.2,475.8 118.0,477.0 117.8,475.7 117.5,476.4 117.2,476.9 117.0,475.6 116.8,475.8 116.5,477.5 116.2,477.6 116.0,475.6 115.8,476.5 115.5,477.0 115.2,476.6 115.0,477.1 114.8,475.7 114.5,485.8 114.2,485.7 114.0,485.4 113.8,485.4 113.5,485.8 113.2,485.4 113.0,484.4 112.8,485.0 112.5,484.5 112.2,484.5 112.0,485.2 111.8,484.8 111.5,484.4 111.2,485.2 111.0,485.1 110.8,485.2 110.5,489.1 106.5,489.1 106.2,479.8 106.0,478.6 105.8,478.3 105.5,479.0 105.2,478.3 105.0,479.6 104.8,479.6 104.5,478.7 104.2,478.0 104.0,478.2 103.8,477.8 103.5,479.1 103.2,477.9 103.0,489.1 102.8,478.2 102.5,477.9 102.2,478.0 102.0,479.5 101.8,478.0 101.5,479.1 101.2,489.1 101.0,478.2 100.8,479.0 100.5,477.9 100.2,481.4 100.0,481.7 99.8,480.3 99.5,481.6 99.2,481.6 99.0,489.1 98.8,480.3 98.5,481.5 98.2,481.3 98.0,480.2 97.8,481.5 97.5,480.4 97.2,489.1 97.0,481.5 96.8,481.7 96.5,481.4 96.2,481.9 96.0,482.2 95.8,482.3 95.5,482.0 95.2,482.3 95.0,482.5 94.8,482.0 94.5,482.1 94.2,482.4 94.0,481.6 93.8,481.9 93.5,481.8 93.2,482.1 93.0,481.4 92.8,481.7 92.5,489.1 92.2,482.3 92.0,482.3 91.8,489.1 91.5,484.9 91.2,485.1 91.0,484.5 90.8,484.8 90.5,484.4 90.2,484.4 90.0,484.8 89.8,484.7 89.5,474.7 89.2,475.1 89.0,475.4 88.8,475.1 88.5,474.3 88.2,476.2 88.0,475.7 87.8,476.0 87.5,475.2 87.2,474.2 87.0,473.9 86.8,476.4 86.5,475.1 86.2,474.3 86.0,489.1 85.8,489.1 85.5,476.0 85.2,476.6 85.0,475.8 84.8,474.8 84.5,475.5 84.2,489.0 78.5,489.0 78.2,475.8 78.0,477.0 77.8,474.7 77.5,474.8 77.2,474.7 77.0,476.7 76.8,476.5 76.5,476.1 76.2,476.3 76.0,475.5 75.8,474.9 75.5,474.9 75.2,477.2 75.0,475.1 74.8,475.7 74.5,474.7 74.2,480.0 74.0,480.2 73.8,478.7 73.5,479.3 73.2,479.2 73.0,478.8 72.8,478.8 72.5,479.8 72.2,478.9 72.0,478.9 71.8,479.9 71.5,479.3 71.2,478.8 71.0,478.4 70.8,478.7 70.5,478.5 70.2,478.4 70.0,479.3 69.8,479.8 69.5,487.3 69.2,487.2 69.0,487.4 68.8,487.3 68.5,487.4 68.2,487.3 68.0,487.3 67.8,487.3 67.5,487.2 67.2,487.1 67.0,487.4 66.8,487.2 66.5,487.3 66.2,487.4 66.0,487.5 65.8,487.2 65.5,487.3 65.2,487.2 65.0,487.1 64.8,487.2 64.5,480.3 64.2,481.4 64.0,481.2 63.8,481.3 63.5,481.0 63.2,480.4 63.0,489.1 62.8,481.3 62.5,480.5 62.2,480.9 62.0,481.2 61.8,486.7 61.5,486.5 61.2,486.7 61.0,486.4 60.8,486.2 60.5,486.7 60.2,486.7 60.0,486.5 59.8,486.3 59.5,486.5 59.2,486.5 59.0,486.6 58.8,486.5 58.5,486.7 58.2,486.3 58.0,479.1 57.8,478.0 57.5,478.4 57.2,478.5 57.0,478.3 56.8,478.3 56.5,478.0 56.2,478.3 56.0,478.7 55.8,477.7 55.5,478.8 55.2,478.7 55.0,479.3 54.8,479.1 54.5,478.6 54.2,477.7 54.0,478.6 53.8,478.7 53.5,477.9Z" fill="#1f77b4" stroke="#1f77b4" stroke-width="1.8" stroke-linejoin="round"/>
<line x1="578.0" x2="612.4" y1="459.13" y2="459.13" stroke="#000" stroke-width="3.6"/>
<path d="M53.5,488.75 H642.5 M303.62,489.15 L304.02,477.14 L304.42,489.15 M313.80,489.15 L314.20,426.11 L314.60,489.15 M334.33,489.15 L334.73,405.09 L335.13,489.15 M584.88,489.15 L585.28,479.39 L585.68,489.15 M595.06,489.15 L595.46,438.87 L595.86,489.15 M614.05,489.15 L614.45,466.63 L614.85,489.15" fill="none" stroke="#ff7f0e" stroke-width="1.3" stroke-dasharray="1.3 1.87"/>
</g>
<rect x="53.50" y="339.05" width="589.00" height="150.10" fill="none" stroke="#808080" stroke-width="1"/>
<path clip-path="url(#c2)" d="M53.85,489.15 V400.59" fill="none" stroke="#ff7f0e" stroke-width="1.3" stroke-dasharray="1.3 1.87"/>
<path d="M53.00,489.15 h-2.0 M53.00,460.28 h-2.0 M53.00,431.42 h-2.0 M53.00,402.55 h-2.0 M53.00,373.69 h-2.0 M53.00,344.82 h-2.0 M643.00,489.15 h2.0 M643.00,451.62 h2.0 M643.00,414.10 h2.0 M643.00,376.57 h2.0 M643.00,339.05 h2.0 M53.50,489.65 v2.4 M67.52,489.65 v1.4 M81.55,489.65 v1.4 M95.57,489.65 v1.4 M109.60,489.65 v1.4 M123.62,489.65 v2.4 M137.64,489.65 v1.4 M151.67,489.65 v1.4 M165.69,489.65 v1.4 M179.71,489.65 v1.4 M193.74,489.65 v2.4 M207.76,489.65 v1.4 M221.79,489.65 v1.4 M235.81,489.65 v1.4 M249.83,489.65 v1.4 M263.86,489.65 v2.4 M277.88,489.65 v1.4 M291.90,489.65 v1.4 M305.93,489.65 v1.4 M319.95,489.65 v1.4 M333.98,489.65 v2.4 M348.00,489.65 v1.4 M362.02,489.65 v1.4 M376.05,489.65 v1.4 M390.07,489.65 v1.4 M404.10,489.65 v2.4 M418.12,489.65 v1.4 M432.14,489.65 v1.4 M446.17,489.65 v1.4 M460.19,489.65 v1.4 M474.21,489.65 v2.4 M488.24,489.65 v1.4 M502.26,489.65 v1.4 M516.29,489.65 v1.4 M530.31,489.65 v1.4 M544.33,489.65 v2.4 M558.36,489.65 v1.4 M572.38,489.65 v1.4 M586.40,489.65 v1.4 M600.43,489.65 v1.4 M614.45,489.65 v2.4 M628.48,489.65 v1.4 M642.50,489.65 v1.4" stroke="#333" stroke-width="0.9" fill="none"/>
<text x="49.20" y="493.55" font-size="10.5" text-anchor="end" textLength="23.38" lengthAdjust="spacingAndGlyphs">0.00</text>
<text x="49.20" y="464.68" font-size="10.5" text-anchor="end" textLength="23.38" lengthAdjust="spacingAndGlyphs">0.05</text>
<text x="49.20" y="435.82" font-size="10.5" text-anchor="end" textLength="23.38" lengthAdjust="spacingAndGlyphs">0.10</text>
<text x="49.20" y="406.95" font-size="10.5" text-anchor="end" textLength="23.38" lengthAdjust="spacingAndGlyphs">0.15</text>
<text x="49.20" y="378.09" font-size="10.5" text-anchor="end" textLength="23.38" lengthAdjust="spacingAndGlyphs">0.20</text>
<text x="49.20" y="349.22" font-size="10.5" text-anchor="end" textLength="23.38" lengthAdjust="spacingAndGlyphs">0.25</text>
<text x="646.40" y="493.55" font-size="10.5" textLength="6.68" lengthAdjust="spacingAndGlyphs">0</text>
<text x="646.40" y="456.02" font-size="10.5" textLength="6.68" lengthAdjust="spacingAndGlyphs">5</text>
<text x="646.40" y="418.50" font-size="10.5" textLength="13.36" lengthAdjust="spacingAndGlyphs">10</text>
<text x="646.40" y="380.97" font-size="10.5" textLength="13.36" lengthAdjust="spacingAndGlyphs">15</text>
<text x="646.40" y="343.45" font-size="10.5" textLength="13.36" lengthAdjust="spacingAndGlyphs">20</text>
<text x="64.80" y="361.75" font-size="14.3" textLength="12.41" lengthAdjust="spacingAndGlyphs">c)</text>
<text x="94.00" y="361.75" font-size="14.3" textLength="90.63" lengthAdjust="spacingAndGlyphs">ATKA (1-4 Hz)</text>
<text x="303.50" y="421.00" font-size="14.3" textLength="10.39" lengthAdjust="spacingAndGlyphs">O</text>
<text x="314.19" y="424.10" font-size="10.2" textLength="5.88" lengthAdjust="spacingAndGlyphs">1</text>
<text x="323.30" y="407.50" font-size="14.3" textLength="21.22" lengthAdjust="spacingAndGlyphs">1/d</text>
<text x="583.70" y="387.70" font-size="14.3" textLength="11.39" lengthAdjust="spacingAndGlyphs">M</text>
<text x="595.39" y="390.80" font-size="10.2" textLength="5.88" lengthAdjust="spacingAndGlyphs">2</text>
<g clip-path="url(#c3)">
<path d="M53.5,501.5 55.5,501.5 55.8,560.1 56.8,560.1 57.0,598.7 57.2,598.8 57.5,599.0 57.8,599.1 58.0,591.3 58.2,591.4 58.5,591.6 58.8,591.8 59.0,592.0 59.2,597.7 59.5,597.8 59.8,598.0 60.0,598.2 60.2,598.3 60.5,604.9 60.8,605.1 61.0,578.9 61.2,579.1 61.5,579.4 61.8,579.6 62.0,579.8 62.2,580.0 62.5,580.2 62.8,580.5 63.0,573.3 63.2,573.6 63.5,573.8 63.8,574.0 64.0,606.4 64.2,606.5 64.5,606.7 64.8,587.1 65.0,587.2 65.2,587.3 65.5,587.4 65.8,604.3 66.0,604.4 66.2,582.1 66.8,582.1 67.0,594.2 67.2,594.3 67.5,594.4 67.8,594.5 68.0,594.6 68.2,594.7 68.5,594.8 68.8,594.9 69.0,599.5 69.2,599.6 69.5,599.7 69.8,599.8 70.0,599.9 70.2,600.0 70.5,600.1 70.8,605.7 71.0,605.8 71.2,606.6 71.5,606.7 71.8,606.8 72.0,606.9 72.2,606.9 72.5,587.3 72.8,587.4 73.0,587.5 73.2,587.6 73.5,607.8 73.8,607.9 74.0,608.0 74.2,608.1 74.5,608.2 74.8,608.3 75.0,608.3 75.2,608.1 75.5,608.2 75.8,608.3 76.0,608.4 76.2,608.4 76.5,608.5 76.8,608.6 77.0,620.5 77.2,620.6 77.5,620.7 77.8,620.7 78.0,620.8 78.2,612.2 78.5,612.2 78.8,612.3 79.0,612.4 79.2,609.0 79.5,609.1 79.8,609.2 80.0,611.5 80.2,588.4 80.8,588.4 81.0,611.8 81.2,600.1 81.5,600.2 81.8,600.3 82.0,600.4 82.2,600.5 82.5,600.6 82.8,618.0 83.0,618.1 83.2,618.2 83.5,618.2 83.8,619.1 84.0,619.2 84.2,619.3 84.5,619.3 84.8,619.4 85.0,619.5 85.2,619.5 85.5,607.3 85.8,607.4 86.0,607.5 86.2,587.3 86.8,587.3 87.0,619.5 87.2,619.6 87.5,619.7 87.8,606.5 88.0,606.6 88.2,606.6 88.5,606.7 88.8,606.8 89.0,607.8 89.2,607.9 89.5,608.0 89.8,608.1 90.0,617.9 90.2,618.0 90.5,618.0 90.8,607.3 91.0,607.4 91.2,607.5 91.5,607.6 91.8,574.6 92.2,574.6 92.5,602.5 92.8,602.6 93.0,602.6 93.2,575.7 93.8,575.7 94.0,613.3 94.5,613.4 94.8,604.6 96.0,604.7 96.2,595.7 97.8,595.9 98.0,610.7 98.2,610.7 98.5,612.0 99.2,612.1 99.5,610.8 101.0,610.9 101.2,607.9 102.5,608.0 102.8,620.5 104.0,620.6 104.2,621.0 105.5,621.1 105.8,604.8 106.5,604.9 106.8,611.9 108.2,612.0 108.5,619.1 109.5,619.1 109.8,606.0 111.2,606.2 111.5,608.2 113.0,608.3 113.2,611.4 114.8,611.5 115.0,603.5 115.5,603.5 115.8,612.6 117.0,612.7 117.2,607.7 117.8,607.8 118.0,614.4 119.0,614.5 119.2,615.5 120.5,615.6 120.8,604.9 121.2,605.0 121.5,617.3 122.8,617.4 123.0,603.1 123.2,603.2 123.5,610.9 123.8,610.9 124.0,609.5 125.2,609.6 125.5,608.4 127.0,608.5 127.2,616.1 129.0,616.2 129.2,616.9 131.0,617.0 131.2,623.7 132.0,623.7 132.2,619.4 133.8,619.5 134.0,604.0 135.5,604.2 135.8,621.7 136.5,621.8 136.8,626.4 137.5,626.4 137.8,608.1 138.2,608.1 138.5,614.0 139.0,614.0 139.2,594.8 139.8,594.8 140.0,612.9 140.5,612.9 140.8,611.3 142.5,611.4 142.8,613.8 143.2,613.8 143.5,603.9 144.5,604.0 144.8,622.5 145.2,622.6 145.5,621.2 146.5,621.3 146.8,598.4 148.0,598.5 148.2,612.9 149.2,613.0 149.5,606.2 150.2,606.3 150.5,604.6 152.0,604.7 152.2,621.0 152.8,621.0 153.0,610.4 154.2,610.5 154.5,602.8 155.0,602.8 155.2,614.5 156.2,614.6 156.5,619.5 157.0,619.5 157.2,614.3 158.0,614.3 158.2,610.0 158.8,610.0 159.0,613.3 160.2,613.4 160.5,616.7 161.8,616.8 162.0,611.8 162.8,611.9 163.0,610.8 164.8,611.0 165.0,625.7 166.8,625.8 167.0,627.6 168.5,627.7 168.8,631.7 170.2,631.7 170.5,614.5 170.8,614.5 171.0,607.5 172.2,607.6 172.5,623.1 173.8,623.2 174.0,613.4 175.5,613.5 175.8,618.5 176.5,618.6 176.8,614.2 178.2,614.3 178.5,620.6 179.2,620.7 179.5,610.8 180.5,610.9 180.8,620.4 182.0,620.5 182.2,613.7 183.5,613.8 183.8,599.9 184.5,599.9 184.8,610.1 186.2,610.2 186.5,617.5 188.2,617.7 188.5,616.0 188.8,616.0 189.0,612.3 189.8,612.4 190.0,616.0 190.2,598.8 190.8,598.8 191.0,616.1 191.2,613.2 192.5,613.3 192.8,610.4 193.8,610.5 194.0,627.9 194.2,627.9 194.5,624.4 195.2,624.5 195.5,625.3 197.2,625.4 197.5,613.7 198.2,613.8 198.5,609.1 200.2,609.3 200.5,618.9 201.2,618.9 201.5,624.1 203.2,624.2 203.5,623.9 204.2,623.9 204.5,605.5 206.0,605.6 206.2,625.8 207.0,625.8 207.2,625.1 208.5,625.2 208.8,620.8 210.0,620.8 210.2,622.9 210.8,622.9 211.0,607.5 212.5,607.5 212.8,611.9 214.2,611.9 214.5,623.2 215.0,623.2 215.2,610.3 216.5,610.3 216.8,619.3 218.2,619.3 218.5,619.8 220.0,619.8 220.2,606.1 221.0,606.1 221.2,625.3 222.2,625.3 222.5,617.6 223.2,617.6 223.5,628.0 225.0,628.0 225.2,614.2 226.0,614.2 226.2,607.1 227.2,607.1 227.5,619.9 229.0,619.9 229.2,616.9 230.8,617.0 231.0,616.9 232.0,616.9 232.2,612.0 233.2,612.0 233.5,624.2 234.2,624.2 234.5,620.2 235.2,620.2 235.5,612.6 236.8,612.6 237.0,622.3 237.5,622.3 237.8,618.4 239.2,618.4 239.5,619.8 240.8,619.8 241.0,618.8 241.2,598.8 241.8,598.8 242.0,618.8 242.2,618.8 242.5,606.3 242.8,606.3 243.0,626.9 244.5,627.0 244.8,618.7 246.5,618.7 246.8,621.2 248.0,621.2 248.2,629.2 248.5,629.2 248.8,611.1 249.0,611.1 249.2,620.4 250.8,620.4 251.0,627.5 251.8,627.5 252.0,622.1 252.5,622.1 252.8,623.8 254.0,623.8 254.2,619.0 255.0,619.0 255.2,614.5 255.8,614.5 256.0,623.2 257.5,623.2 257.8,608.7 258.5,608.7 258.8,628.0 259.5,628.0 259.8,625.8 261.0,625.8 261.2,620.1 263.0,620.1 263.2,623.5 264.8,623.6 265.0,622.7 266.8,622.7 267.0,589.0 267.5,589.0 267.8,618.9 268.5,618.9 268.8,624.5 269.5,624.5 269.8,616.4 270.2,616.5 270.5,614.3 271.8,614.3 272.0,616.5 272.8,616.5 273.0,620.9 274.5,621.0 274.8,616.7 275.2,616.7 275.5,628.1 275.8,628.2 276.0,619.3 276.5,619.3 276.8,613.3 277.2,613.3 277.5,629.5 279.0,629.5 279.2,617.7 280.5,617.7 280.8,609.0 281.5,609.0 281.8,614.9 282.8,615.0 283.0,612.9 284.5,612.9 284.8,610.8 286.0,610.8 286.2,624.8 287.0,624.8 287.2,620.3 288.5,620.3 288.8,618.3 289.8,618.3 290.0,612.3 290.8,612.3 291.0,624.7 292.2,624.7 292.5,596.5 293.0,596.5 293.2,613.4 294.2,613.4 294.5,610.5 295.5,610.5 295.8,628.5 297.0,628.5 297.2,625.7 298.8,625.7 299.0,618.7 299.5,618.7 299.8,609.7 300.2,609.8 300.5,618.7 301.0,618.8 301.2,633.0 301.8,633.0 302.0,616.7 303.0,616.7 303.2,613.3 304.0,613.3 304.2,615.8 305.5,615.8 305.8,611.4 306.8,611.4 307.0,623.8 307.8,623.9 308.0,611.1 309.2,611.2 309.5,619.0 310.2,619.0 310.5,611.0 311.2,611.0 311.5,623.5 313.0,623.6 313.2,606.4 313.8,606.5 314.0,616.6 315.0,616.6 315.2,623.9 316.8,623.9 317.0,619.2 318.0,619.3 318.2,612.0 319.0,612.1 319.2,621.8 320.8,621.9 321.0,616.7 322.5,616.8 322.8,621.9 324.0,621.9 324.2,624.0 325.8,624.1 326.0,615.8 327.2,615.8 327.5,620.7 328.5,620.7 328.8,590.2 329.2,590.2 329.5,613.0 330.8,613.0 331.0,620.0 331.5,620.0 331.8,624.5 332.0,616.8 332.2,606.5 332.5,592.7 332.8,584.1 333.5,584.1 333.8,511.6 334.2,511.6 334.5,584.1 335.2,584.1 335.5,595.6 335.8,608.7 336.0,618.4 336.2,625.7 336.5,629.7 336.8,629.7 337.0,625.7 337.8,625.7 338.0,624.1 338.5,624.1 338.8,623.5 339.2,623.6 339.5,618.0 340.5,618.0 340.8,616.5 341.5,616.5 341.8,622.9 342.8,622.9 343.0,625.8 343.8,625.9 344.0,627.9 345.2,627.9 345.5,619.7 345.8,619.7 346.0,624.7 346.5,624.7 346.8,613.4 347.2,613.4 347.5,620.4 349.0,620.5 349.2,629.6 350.0,629.6 350.2,624.4 351.2,624.4 351.5,622.4 353.0,622.5 353.2,612.0 353.5,612.0 353.8,615.7 355.2,615.7 355.5,636.7 356.8,636.7 357.0,618.3 358.5,618.4 358.8,626.0 359.8,626.0 360.0,616.1 361.0,616.1 361.2,615.9 362.8,616.0 363.0,613.9 363.2,613.9 363.5,620.4 364.8,620.4 365.0,621.4 366.0,621.5 366.2,619.7 367.5,619.7 367.8,620.1 368.8,620.1 369.0,624.4 370.0,624.5 370.2,626.1 372.0,626.1 372.2,627.2 372.5,627.3 372.8,624.8 374.0,624.9 374.2,625.9 375.0,625.9 375.2,630.0 375.5,630.0 375.8,624.6 377.5,624.7 377.8,627.8 378.8,627.8 379.0,622.8 379.8,622.8 380.0,625.1 381.5,625.1 381.8,619.9 382.8,619.9 383.0,615.2 384.8,615.2 385.0,627.1 386.8,627.2 387.0,620.5 388.0,620.5 388.2,628.4 388.5,628.4 388.8,616.0 390.0,616.0 390.2,616.9 390.5,616.9 390.8,626.6 391.5,626.6 391.8,616.9 392.8,616.9 393.0,594.8 393.5,594.8 393.8,621.6 394.8,621.6 395.0,624.6 396.0,624.7 396.2,630.9 397.8,630.9 398.0,616.0 399.0,616.1 399.2,626.2 399.8,626.2 400.0,621.8 400.2,621.8 400.5,628.1 400.8,628.1 401.0,599.4 401.5,599.4 401.8,628.1 402.2,628.1 402.5,623.2 404.0,623.2 404.2,615.0 406.0,615.1 406.2,615.5 407.8,615.5 408.0,619.8 408.2,619.8 408.5,619.7 409.2,619.7 409.5,619.1 410.2,619.1 410.5,627.1 411.0,627.1 411.2,619.9 411.8,619.9 412.0,627.8 413.0,627.8 413.2,625.0 414.2,625.1 414.5,631.7 415.0,631.7 415.2,626.8 417.0,626.8 417.2,624.5 418.8,624.5 419.0,611.8 419.8,611.8 420.0,618.0 420.5,618.0 420.8,621.3 421.8,621.4 422.0,622.0 423.5,622.0 423.8,605.9 424.5,605.9 424.8,616.9 426.0,616.9 426.2,627.6 428.0,627.6 428.2,634.7 428.8,634.7 429.0,619.0 429.8,619.0 430.0,622.7 431.2,622.8 431.5,621.0 432.8,621.0 433.0,610.0 433.5,610.0 433.8,629.6 435.2,629.6 435.5,614.0 435.8,614.0 436.0,625.0 437.2,625.0 437.5,631.0 438.2,631.1 438.5,630.0 439.0,630.0 439.2,621.7 440.0,621.8 440.2,633.9 440.5,633.9 440.8,617.8 442.0,617.8 442.2,619.7 443.5,619.7 443.8,626.3 445.2,626.3 445.5,626.7 447.0,626.8 447.2,624.0 449.0,624.0 449.2,602.9 449.8,602.9 450.0,624.2 450.2,616.6 451.5,616.6 451.8,632.7 453.2,632.7 453.5,623.6 455.0,623.6 455.2,622.4 456.0,622.4 456.2,631.7 457.0,631.7 457.2,623.8 458.0,623.8 458.2,629.1 459.8,629.1 460.0,626.5 460.8,626.5 461.0,625.5 461.5,625.6 461.8,628.9 462.8,628.9 463.0,631.7 464.5,631.7 464.8,620.5 465.5,620.6 465.8,621.7 466.0,600.0 466.5,600.0 466.8,621.7 467.0,621.7 467.2,615.6 468.2,615.7 468.5,620.9 469.5,620.9 469.8,612.0 471.5,612.1 471.8,628.5 473.2,628.5 473.5,623.2 475.2,623.2 475.5,624.5 477.2,624.5 477.5,616.9 478.5,616.9 478.8,632.4 479.8,632.4 480.0,631.7 481.5,631.7 481.8,620.7 482.5,620.7 482.8,623.8 484.0,623.9 484.2,632.0 486.0,632.0 486.2,630.7 487.8,630.7 488.0,626.0 489.2,626.0 489.5,622.3 490.0,622.3 490.2,624.8 491.0,624.8 491.2,625.9 492.8,625.9 493.0,625.8 494.5,625.8 494.8,628.9 495.8,628.9 496.0,619.1 496.2,619.2 496.5,613.7 498.2,613.7 498.5,624.1 499.5,624.1 499.8,603.4 500.2,603.4 500.5,615.0 500.8,615.0 501.0,629.8 502.5,629.8 502.8,623.9 503.5,623.9 503.8,627.5 505.0,627.5 505.2,626.7 507.0,626.7 507.2,626.0 508.5,626.0 508.8,615.4 509.8,615.4 510.0,633.3 511.2,633.3 511.5,630.1 512.8,630.1 513.0,630.2 513.5,630.2 513.8,615.3 514.5,615.3 514.8,620.9 515.8,620.9 516.0,631.6 517.2,631.6 517.5,627.7 519.2,627.7 519.5,620.1 521.2,620.1 521.5,624.9 522.2,624.9 522.5,627.8 524.0,627.8 524.2,625.5 525.2,625.5 525.5,616.9 526.2,616.9 526.5,621.8 528.0,621.8 528.2,626.8 528.5,626.8 528.8,630.7 529.5,630.7 529.8,620.3 531.5,620.3 531.8,625.4 533.2,625.4 533.5,622.3 533.8,622.3 534.0,619.3 534.2,597.1 534.8,597.1 535.0,625.2 535.8,625.3 536.0,624.6 536.8,624.6 537.0,627.2 537.8,627.2 538.0,629.2 539.2,629.2 539.5,620.1 540.0,620.1 540.2,626.2 540.5,626.2 540.8,628.3 541.5,628.3 541.8,623.0 543.0,623.1 543.2,630.7 544.2,630.7 544.5,628.5 545.2,628.5 545.5,621.4 545.8,621.4 546.0,628.0 547.0,628.0 547.2,615.7 548.0,615.7 548.2,630.7 548.5,630.7 548.8,631.3 549.5,631.3 549.8,634.5 550.8,634.6 551.0,624.9 552.5,624.9 552.8,627.5 553.8,627.5 554.0,615.9 554.5,616.0 554.8,628.0 556.2,628.0 556.5,626.6 557.0,626.6 557.2,625.8 558.2,625.8 558.5,626.2 559.8,626.2 560.0,624.5 560.2,624.5 560.5,621.7 561.0,621.7 561.2,627.7 562.5,627.7 562.8,623.8 564.5,623.8 564.8,625.7 566.0,625.7 566.2,620.7 568.0,620.7 568.2,623.4 569.0,623.4 569.2,632.3 569.5,632.3 569.8,625.8 570.5,625.8 570.8,624.6 571.0,624.6 571.2,637.1 572.2,637.1 572.5,625.4 574.0,625.4 574.2,622.7 574.5,622.7 574.8,630.2 576.0,630.2 576.2,626.6 577.0,626.6 577.2,623.4 578.2,623.4 578.5,621.0 580.0,621.0 580.2,632.0 581.5,632.0 581.8,627.7 583.0,627.7 583.2,624.1 584.0,624.1 584.2,618.5 584.5,601.7 585.0,601.7 585.2,630.5 585.5,630.5 585.8,632.2 587.5,632.2 587.8,617.7 588.8,617.7 589.0,626.9 589.8,626.9 590.0,629.0 591.0,629.1 591.2,621.5 592.5,621.5 592.8,633.6 593.0,633.6 593.2,632.2 593.5,624.4 593.8,623.8 595.0,623.8 595.2,547.4 595.8,547.4 596.0,623.8 597.2,623.8 597.5,628.2 597.8,623.5 598.8,623.5 599.0,626.8 599.5,626.8 599.8,620.3 600.8,620.3 601.0,628.1 601.5,628.1 601.8,619.6 603.5,619.6 603.8,628.7 605.5,628.7 605.8,626.7 607.2,626.7 607.5,626.2 608.2,626.2 608.5,625.5 609.0,625.5 609.2,628.9 609.5,628.9 609.8,622.4 611.2,622.4 611.5,611.2 612.5,611.2 612.8,630.7 613.8,630.7 614.0,621.5 614.8,621.5 615.0,624.0 615.5,624.0 615.8,619.0 617.2,619.0 617.5,621.7 619.0,621.7 619.2,623.6 620.2,623.6 620.5,618.7 621.8,618.7 622.0,629.6 622.5,629.6 622.8,628.5 623.5,628.5 623.8,628.9 625.0,628.9 625.2,631.7 625.8,631.7 626.0,633.2 626.8,633.2 627.0,620.9 628.8,621.0 629.0,621.6 630.8,621.6 631.0,637.3 632.2,637.3 632.5,621.3 633.5,621.3 633.8,620.6 635.0,620.6 635.2,621.0 636.0,621.1 636.2,618.3 636.8,618.3 637.0,625.2 638.2,625.2 638.5,620.0 640.2,620.0 640.5,624.5 642.2,624.5 642.5,631.6 642.5,649.4 642.2,649.5 642.0,650.5 641.8,650.1 641.5,649.4 641.2,650.1 641.0,649.6 640.8,650.6 640.5,649.7 640.2,650.4 640.0,650.4 639.8,650.5 639.5,650.1 639.2,646.5 639.0,646.9 638.8,647.2 638.5,647.6 638.2,647.4 638.0,646.1 637.8,646.8 637.5,646.2 637.2,646.3 637.0,646.6 636.8,646.4 636.2,646.4 636.0,647.2 635.8,646.3 635.5,646.1 635.2,646.5 635.0,647.2 634.8,647.0 634.5,645.3 634.2,646.3 634.0,645.4 633.8,646.4 633.5,645.8 633.2,646.1 633.0,646.6 632.8,645.8 632.5,646.5 632.2,646.9 632.0,647.2 631.8,646.9 631.5,655.8 631.2,655.7 631.0,655.8 630.2,655.8 630.0,655.7 629.0,655.8 628.8,655.8 628.5,655.8 628.2,655.8 628.0,655.6 627.5,655.6 627.2,655.7 627.0,655.6 626.8,655.7 626.5,655.5 626.2,655.7 626.0,655.6 625.8,655.7 625.5,655.5 625.2,655.6 625.0,655.6 624.8,655.5 624.5,652.8 624.2,652.9 624.0,652.6 623.8,652.4 623.5,652.5 623.2,652.6 623.0,652.6 622.8,652.9 622.5,656.6 622.2,653.0 622.0,652.6 621.8,652.4 621.5,656.6 617.5,656.6 617.2,655.8 617.0,655.7 616.5,655.8 616.2,655.7 616.0,655.7 615.8,655.7 615.5,655.8 615.2,655.7 615.0,655.8 614.8,655.7 614.2,655.7 614.0,655.8 613.8,655.8 613.5,655.7 612.0,655.7 611.8,656.6 606.0,656.6 605.8,652.5 605.5,652.3 605.2,651.7 605.0,652.6 604.8,652.4 604.5,652.4 604.2,651.8 604.0,651.7 603.8,652.2 603.5,652.2 603.2,652.2 603.0,652.5 602.8,652.4 602.5,652.0 602.2,652.4 602.0,656.6 601.8,652.3 601.5,652.4 601.2,652.1 601.0,652.2 600.8,655.9 600.5,656.0 600.2,655.9 600.0,656.0 599.0,656.0 598.8,655.9 596.8,656.0 596.5,655.9 595.5,655.9 595.2,656.4 592.5,656.5 592.2,656.6 592.0,656.5 590.2,656.4 590.0,650.5 589.8,650.2 589.5,650.8 589.2,650.6 589.0,650.1 588.8,650.6 588.5,651.1 588.2,650.0 588.0,650.4 587.8,650.5 587.5,650.6 587.2,650.9 587.0,650.6 586.8,650.5 586.5,650.7 586.2,650.6 586.0,650.4 585.8,651.2 585.5,650.6 585.2,650.8 585.0,650.1 584.8,650.0 584.5,650.4 584.2,652.3 584.0,652.1 583.8,651.9 583.5,652.4 583.2,651.9 583.0,651.8 582.8,652.0 582.5,656.5 580.2,656.5 580.0,656.3 579.0,656.3 578.8,656.6 578.5,656.3 577.8,656.3 577.5,652.8 577.2,652.8 577.0,652.9 576.8,653.2 576.5,652.9 576.2,652.8 576.0,653.2 575.8,653.1 575.5,650.8 575.2,650.8 575.0,651.0 574.8,651.0 574.5,651.0 574.2,650.9 574.0,650.8 573.8,645.3 573.5,646.6 573.2,645.3 573.0,647.2 572.8,645.7 572.5,647.1 572.2,646.8 571.2,646.8 571.0,647.0 570.8,646.4 570.5,645.9 570.2,646.9 570.0,646.4 569.8,645.8 569.5,646.4 569.2,646.0 569.0,646.1 568.8,645.6 568.5,645.5 568.2,650.0 568.0,649.8 567.8,650.2 567.5,649.7 567.2,656.6 567.0,649.2 566.8,650.2 566.5,650.3 566.2,649.8 566.0,650.3 565.8,649.9 565.5,649.9 565.2,649.4 565.0,650.2 564.8,649.6 564.5,649.3 564.2,653.1 564.0,652.8 563.8,653.1 563.5,653.3 563.2,653.1 563.0,653.0 562.8,653.0 562.5,652.9 562.2,653.0 562.0,652.7 561.8,651.6 561.5,651.5 561.2,651.8 561.0,651.7 560.8,651.3 560.5,651.4 560.2,652.1 560.0,652.0 559.8,652.2 559.5,651.3 559.2,652.0 559.0,651.8 558.8,651.4 558.5,651.9 558.2,653.3 558.0,652.9 557.8,653.0 557.5,653.3 557.2,653.0 557.0,653.1 556.8,652.7 556.5,653.3 556.2,655.2 556.0,655.2 555.8,655.2 555.5,655.1 555.2,655.0 555.0,656.6 554.8,655.1 554.5,655.2 554.2,655.1 554.0,644.7 553.8,644.7 553.5,645.0 553.2,646.3 553.0,645.2 552.8,646.4 552.5,646.3 552.2,645.8 552.0,646.2 551.8,650.7 551.5,650.9 551.2,650.5 551.0,651.3 550.8,650.9 550.5,656.6 550.2,651.1 549.8,651.1 549.5,650.3 549.2,650.8 549.0,650.5 548.8,650.7 548.5,651.1 548.2,650.5 548.0,650.8 547.8,650.4 547.5,650.7 547.2,651.2 547.0,651.2 546.8,652.9 546.5,652.7 546.2,653.1 546.0,652.6 545.8,653.1 545.5,653.0 545.2,652.5 545.0,652.8 544.8,653.2 544.5,652.6 544.2,652.3 544.0,652.9 543.8,652.9 543.5,652.3 543.2,652.5 543.0,652.3 542.8,652.7 542.5,652.8 542.2,652.5 542.0,652.6 541.8,652.5 541.5,652.6 541.2,652.7 541.0,652.8 540.8,652.3 540.5,647.5 540.2,647.5 540.0,647.2 539.8,647.0 539.5,647.6 539.2,647.8 539.0,648.3 538.8,656.6 538.5,648.3 538.2,648.3 538.0,656.6 537.8,648.7 537.5,648.1 537.2,648.4 537.0,648.7 536.8,648.5 536.5,647.9 536.2,649.0 536.0,656.6 535.8,647.6 535.5,647.6 535.2,648.6 535.0,647.8 534.8,654.8 534.5,654.9 534.2,654.6 534.0,654.8 533.8,654.7 533.5,654.9 533.2,654.9 533.0,654.6 532.8,654.8 532.5,654.8 532.2,654.7 532.0,654.7 531.8,654.8 531.5,654.8 531.2,654.7 531.0,654.8 530.8,654.4 530.5,654.1 530.2,654.2 530.0,654.2 529.8,654.1 529.5,654.3 529.2,654.0 529.0,654.6 528.8,654.4 528.5,654.7 528.2,656.6 528.0,654.5 527.8,654.4 527.0,654.5 526.8,654.7 526.5,654.7 526.2,654.5 526.0,654.7 525.8,656.6 525.5,654.6 525.2,654.7 525.0,654.6 524.8,654.7 524.5,654.5 524.2,649.5 524.0,650.1 523.8,650.4 523.5,649.7 523.2,649.4 523.0,649.5 522.8,649.9 522.5,650.3 522.2,650.2 522.0,650.5 521.8,650.5 521.5,650.1 521.2,649.7 521.0,650.2 520.8,650.2 520.5,649.5 520.2,648.1 520.0,649.1 519.8,648.8 519.5,648.4 519.2,649.0 519.0,648.8 518.8,649.4 518.5,649.3 518.2,649.0 518.0,648.9 517.8,648.4 517.5,648.6 517.2,648.6 517.0,648.8 516.8,648.9 516.5,649.3 516.2,648.5 516.0,648.1 515.8,648.3 515.5,649.6 515.2,655.5 515.0,655.6 514.8,655.6 514.5,655.5 514.2,655.6 513.8,655.6 513.5,655.5 513.2,655.5 513.0,655.5 512.8,655.5 512.5,655.6 512.2,655.5 512.0,655.6 511.8,655.6 511.5,655.5 511.2,655.6 511.0,655.5 510.8,655.6 510.5,655.5 510.2,655.5 510.0,656.6 505.2,656.6 505.0,649.8 504.8,650.5 504.5,649.4 504.2,649.4 504.0,650.5 503.8,650.0 503.5,650.3 503.2,650.6 503.0,649.5 502.8,649.6 502.5,650.5 502.2,649.8 502.0,650.4 501.8,650.1 501.5,656.6 501.2,650.2 501.0,650.8 500.8,649.8 500.5,650.6 500.2,650.0 500.0,650.7 499.8,649.9 499.5,650.3 499.2,650.2 499.0,650.8 498.8,650.5 498.5,650.4 498.2,649.9 498.0,652.1 497.8,652.2 497.5,652.8 497.2,652.9 497.0,652.1 496.8,652.7 496.5,652.6 496.2,652.2 495.5,652.2 495.2,652.7 495.0,652.3 494.8,652.6 494.5,652.6 494.2,652.4 494.0,652.1 493.8,652.2 493.5,652.1 493.2,652.6 493.0,652.4 492.8,652.5 492.5,655.6 492.2,655.7 492.0,655.6 491.2,655.5 491.0,655.6 490.8,655.7 490.2,655.7 490.0,655.6 489.8,655.5 489.5,655.7 489.2,655.6 489.0,655.6 488.8,655.5 488.5,649.0 488.2,649.4 488.0,649.1 487.8,649.8 487.5,649.5 487.2,650.2 487.0,648.9 486.8,649.0 486.5,649.3 486.2,649.6 486.0,649.2 485.8,649.3 485.5,655.2 485.2,655.1 485.0,655.4 484.8,655.1 484.5,655.2 484.2,655.3 484.0,655.1 483.8,655.2 483.5,655.3 483.2,655.3 483.0,655.2 482.8,655.3 482.5,655.2 482.2,655.1 482.0,653.9 481.8,653.7 481.5,654.0 481.2,654.0 481.0,653.6 480.8,653.7 480.5,653.9 480.2,653.6 480.0,654.0 479.8,653.1 479.5,653.1 479.2,653.1 479.0,653.0 478.8,653.3 478.5,653.2 478.2,653.5 478.0,652.8 477.8,653.2 477.5,653.4 477.2,652.9 477.0,654.6 476.8,654.7 476.2,654.8 476.0,654.6 475.8,654.7 475.5,654.5 475.2,654.6 475.0,654.6 474.8,654.8 474.5,654.7 474.2,654.7 473.8,654.8 473.5,654.5 473.2,654.8 473.0,654.8 472.8,654.6 472.5,654.7 472.2,654.5 472.0,654.7 471.8,654.7 471.5,653.6 471.2,653.4 471.0,656.6 470.8,653.5 470.5,653.7 470.2,653.4 470.0,653.3 469.8,653.5 469.5,653.3 469.2,653.7 469.0,653.8 468.8,653.5 468.5,653.3 468.2,653.8 468.0,653.4 467.8,653.4 467.5,653.3 467.2,653.4 467.0,653.7 466.8,653.8 466.5,649.0 466.2,649.4 466.0,649.0 465.8,648.8 465.5,649.4 465.2,649.6 465.0,649.2 464.8,649.8 464.5,649.6 464.2,649.3 464.0,649.3 463.8,649.8 463.5,649.6 463.2,649.1 463.0,648.7 462.8,648.9 462.5,649.0 462.2,649.1 462.0,649.5 461.8,649.0 461.5,649.2 461.2,649.1 461.0,648.9 460.8,652.0 460.5,651.9 460.2,651.5 460.0,651.2 459.8,651.6 459.5,651.2 459.2,651.5 459.0,656.6 458.8,651.2 458.5,651.2 458.2,651.5 458.0,651.7 457.8,651.4 457.5,656.6 457.2,651.8 457.0,656.6 456.8,651.1 456.5,651.5 456.2,651.2 456.0,651.7 455.8,651.6 455.5,649.2 455.2,647.8 455.0,647.8 454.8,649.0 454.5,647.9 454.2,648.4 454.0,649.1 453.8,648.2 453.5,648.1 453.2,649.1 453.0,648.6 452.8,647.7 452.5,649.0 452.2,648.0 452.0,648.4 451.8,647.5 451.5,648.5 451.2,647.7 451.0,647.4 450.8,647.7 450.5,647.9 450.2,648.7 450.0,647.5 449.8,648.6 449.5,648.2 449.2,656.4 444.8,656.4 444.5,656.5 441.5,656.5 441.2,654.7 441.0,654.6 440.8,654.8 440.5,654.5 440.0,654.4 439.8,654.8 439.5,654.7 439.2,654.6 439.0,652.0 438.8,651.7 438.5,651.7 438.2,652.1 438.0,652.4 437.8,652.4 437.5,651.8 437.2,652.4 437.0,652.0 436.8,651.8 436.5,651.9 436.2,652.4 436.0,651.9 435.8,651.9 435.5,652.1 435.2,652.4 435.0,652.1 434.8,651.6 434.5,651.9 434.2,656.6 434.0,652.5 433.8,652.4 433.5,651.7 433.2,653.4 433.0,653.6 432.8,653.6 432.5,653.0 432.2,653.2 432.0,653.4 431.8,653.1 431.5,653.2 431.2,650.4 431.0,650.8 430.8,650.9 430.5,649.9 430.2,650.3 430.0,650.1 429.8,650.2 429.5,651.0 429.2,650.9 429.0,649.9 428.8,651.4 428.5,651.2 428.2,651.4 428.0,651.3 427.8,651.7 427.5,651.3 427.2,651.7 427.0,651.3 426.8,651.6 426.5,651.5 426.0,651.5 425.8,651.3 425.5,651.4 425.2,651.3 425.0,651.5 424.8,652.0 424.5,651.7 424.2,651.4 424.0,651.2 423.8,651.1 423.5,652.0 423.2,651.4 423.0,655.7 422.8,655.8 422.0,655.8 421.8,655.8 421.5,655.7 421.2,655.8 421.0,655.7 420.8,655.8 420.5,655.7 420.2,655.7 420.0,655.8 419.8,655.7 419.0,655.7 418.8,652.3 418.5,652.1 418.2,652.3 418.0,652.1 417.8,652.2 417.5,652.7 417.2,652.3 417.0,652.3 416.8,652.4 416.5,652.1 416.2,652.1 416.0,652.7 415.8,647.3 415.5,646.2 415.2,646.7 415.0,647.2 414.8,646.5 414.5,646.5 414.2,647.5 414.0,647.1 413.8,646.7 413.5,646.8 413.2,647.5 413.0,647.8 412.8,647.1 412.5,646.1 412.2,653.8 412.0,653.7 411.8,653.4 411.5,653.4 411.2,653.8 411.0,653.9 410.8,653.7 410.5,653.9 410.2,653.5 410.0,653.7 409.8,653.5 409.5,655.2 409.2,655.2 409.0,655.3 408.8,655.4 408.5,655.2 408.2,655.3 408.0,656.6 407.8,655.2 407.5,655.4 407.2,655.3 407.0,655.4 406.8,655.2 406.5,655.3 406.2,655.3 406.0,655.4 405.8,655.3 405.5,655.3 405.2,655.3 405.0,655.2 404.8,655.3 404.5,655.4 404.2,656.6 404.0,655.4 403.8,655.3 403.0,655.2 402.8,653.5 402.5,653.4 402.2,656.6 402.0,653.4 401.8,653.9 401.5,653.4 401.2,653.7 401.0,653.7 400.8,653.5 400.5,653.8 400.2,653.7 400.0,653.5 399.8,653.9 399.5,653.7 399.2,653.5 399.0,653.7 398.8,653.6 398.5,653.5 398.2,653.6 398.0,655.4 397.8,655.4 397.5,655.3 397.2,655.4 397.0,655.5 396.8,656.6 396.5,655.3 396.2,655.4 396.0,655.3 395.8,655.4 395.5,655.4 395.2,655.3 395.0,655.3 394.8,655.4 394.5,655.4 394.2,652.6 394.0,652.5 393.8,656.6 393.5,652.3 393.2,652.8 393.0,652.5 392.8,652.4 392.5,652.9 392.2,652.5 392.0,652.4 391.8,652.3 391.5,653.7 391.2,653.6 391.0,653.8 390.8,654.0 390.5,653.6 390.2,653.8 390.0,653.5 389.8,654.0 389.5,653.6 389.2,653.9 389.0,653.7 388.8,651.6 388.5,651.9 388.2,651.9 388.0,651.8 387.8,651.5 387.5,651.0 387.2,651.8 387.0,651.0 386.8,651.3 386.5,651.4 386.0,651.4 385.8,651.3 385.5,651.8 385.2,651.8 385.0,651.1 384.8,651.6 384.5,651.7 384.2,651.4 384.0,651.2 383.8,650.9 383.5,650.9 383.2,651.7 383.0,648.3 382.8,648.3 382.5,646.9 382.2,647.6 382.0,647.1 381.8,647.5 381.5,647.7 381.2,652.5 381.0,652.5 380.8,653.0 380.5,652.7 380.2,652.3 380.0,652.9 379.8,652.8 379.5,652.5 379.2,652.7 379.0,652.4 378.8,652.7 378.5,652.6 378.2,652.3 378.0,652.9 377.8,652.3 377.5,652.6 377.2,652.5 377.0,652.2 376.8,652.7 376.5,652.6 376.2,652.3 376.0,652.8 375.8,652.7 375.5,652.6 375.2,652.9 375.0,655.5 373.0,655.5 372.8,655.4 372.5,655.4 372.2,655.5 372.0,643.1 371.8,644.0 371.5,644.7 371.2,644.2 371.0,643.4 370.8,643.5 370.5,645.1 370.2,644.9 370.0,645.1 369.8,645.2 369.5,643.7 369.2,643.1 369.0,643.7 368.8,656.6 368.5,656.6 368.2,655.2 368.0,655.4 367.8,655.3 367.5,655.2 367.2,655.4 367.0,655.2 366.8,655.1 366.5,655.4 366.2,655.3 366.0,655.3 365.8,655.4 365.5,655.2 365.2,655.2 365.0,655.1 364.8,655.3 364.5,655.2 364.2,655.2 364.0,655.3 363.8,655.2 363.5,655.3 363.2,655.3 363.0,655.2 362.8,654.2 362.5,654.1 362.2,654.3 362.0,653.9 361.8,654.3 361.5,654.2 361.2,654.1 361.0,654.2 360.8,653.9 360.5,654.3 360.0,654.3 359.8,654.2 359.5,654.1 359.2,652.0 359.0,651.2 358.8,652.0 358.5,651.5 358.2,651.4 358.0,652.0 357.8,652.0 357.5,651.1 357.2,651.4 357.0,651.2 356.8,651.4 356.5,651.2 356.2,651.8 356.0,651.4 355.8,651.2 355.5,651.4 355.2,652.3 355.0,652.4 354.8,652.3 354.5,652.5 354.2,652.1 354.0,651.8 353.8,652.1 353.5,652.4 353.2,649.6 353.0,649.5 352.8,650.7 352.5,649.8 352.2,650.3 352.0,649.8 351.8,650.3 351.5,649.5 351.2,650.0 351.0,650.6 350.8,649.8 350.5,650.1 350.2,650.1 350.0,650.5 349.8,649.5 349.5,650.5 349.2,649.6 349.0,654.4 348.8,654.5 348.5,654.4 348.2,654.7 347.8,654.7 347.5,654.6 347.2,654.6 347.0,654.4 346.8,654.7 346.5,654.6 346.2,655.4 346.0,655.4 345.8,655.3 345.5,655.3 345.2,655.4 345.0,655.3 344.8,655.4 344.5,655.3 344.2,655.4 344.0,655.4 343.8,655.3 343.5,655.5 343.2,655.4 343.0,655.4 342.8,655.3 342.5,656.6 342.2,655.4 342.0,655.3 341.8,655.3 341.5,655.4 341.0,655.4 340.8,652.3 340.5,652.5 340.2,652.4 340.0,652.8 339.8,652.3 339.5,652.9 339.2,652.7 339.0,652.5 338.8,652.3 338.5,652.4 338.2,652.6 338.0,652.2 337.8,652.9 337.5,652.5 337.2,652.3 337.0,652.8 336.8,652.6 336.5,652.8 336.2,652.4 336.0,652.5 335.8,652.5 335.5,652.6 335.2,652.5 335.0,652.0 334.8,651.7 334.5,651.8 334.2,652.0 334.0,651.2 333.8,651.2 333.5,651.6 333.2,651.5 333.0,651.8 332.8,651.7 332.5,651.8 332.2,652.1 332.0,651.7 331.8,652.1 331.5,651.7 331.2,651.8 331.0,651.4 330.8,651.7 330.5,656.6 330.2,652.0 330.0,651.8 329.8,654.0 329.5,653.9 329.2,654.1 329.0,654.0 328.8,653.9 328.5,653.9 328.2,654.1 328.0,654.1 327.8,651.2 327.5,651.2 327.2,651.0 327.0,650.6 326.8,651.4 326.5,650.8 326.2,650.8 326.0,656.6 325.8,651.7 325.5,651.2 325.2,651.1 325.0,650.9 324.8,651.1 324.5,651.7 324.2,651.4 324.0,651.5 323.8,650.8 323.5,651.3 323.2,651.7 323.0,651.7 322.8,651.3 322.5,651.2 322.2,651.3 322.0,651.0 321.8,650.4 321.5,650.6 321.2,650.9 321.0,651.1 320.8,650.9 320.5,651.1 320.2,650.7 320.0,650.8 319.8,651.0 319.5,650.8 319.2,656.6 319.0,651.1 318.8,651.0 318.5,648.5 318.2,648.3 318.0,648.7 317.8,648.8 317.5,648.8 317.2,648.5 317.0,648.9 316.8,648.6 316.5,649.5 316.2,648.3 316.0,648.2 315.8,648.8 315.5,649.5 315.2,648.8 315.0,649.3 314.8,648.8 314.5,648.5 314.2,648.9 314.0,648.6 313.8,648.5 313.5,648.4 313.2,656.6 313.0,651.4 312.8,651.1 312.5,651.2 312.2,651.6 312.0,651.3 311.8,656.6 311.5,656.1 310.0,656.1 309.8,656.1 309.5,649.9 309.2,650.1 309.0,650.4 308.8,650.3 308.5,649.5 308.2,650.2 308.0,649.2 307.8,649.9 307.5,649.7 307.2,649.1 307.0,649.9 306.8,649.4 306.5,649.5 306.2,650.4 306.0,649.9 305.8,656.6 302.2,656.6 302.0,653.0 301.8,652.6 301.5,652.8 301.2,653.0 301.0,652.8 300.8,652.8 300.5,652.7 300.2,652.9 300.0,652.7 299.8,652.7 299.5,653.1 299.2,652.4 299.0,652.6 298.8,652.6 298.5,652.7 298.2,650.8 298.0,651.3 297.8,650.9 297.5,651.0 297.2,651.2 297.0,651.1 296.8,651.6 296.5,651.3 296.2,651.5 296.0,651.5 295.8,651.7 295.5,651.0 295.2,651.3 295.0,650.7 294.8,655.5 294.5,655.5 294.2,655.6 294.0,655.5 293.8,655.5 293.5,655.7 293.2,655.5 293.0,655.6 292.8,655.2 292.5,655.0 292.2,655.2 292.0,655.0 291.8,655.1 291.5,655.2 291.2,655.0 291.0,655.1 290.8,654.9 290.5,655.2 290.2,655.2 290.0,656.6 289.8,655.0 289.5,655.1 289.2,655.0 289.0,655.2 288.8,655.1 288.5,655.2 288.2,655.0 288.0,649.0 287.8,649.8 287.5,649.3 287.2,649.0 287.0,648.8 286.8,649.5 286.5,649.4 286.2,648.6 286.0,648.6 285.8,648.8 285.5,648.8 285.2,649.8 285.0,649.1 284.8,649.5 284.5,649.0 284.2,649.0 284.0,648.3 283.8,647.4 283.5,647.4 283.2,648.8 283.0,647.5 282.8,647.9 282.5,648.8 282.2,647.2 282.0,647.4 281.8,647.6 281.5,647.9 281.2,647.3 281.0,647.9 280.8,648.6 280.5,650.2 280.2,649.9 280.0,650.7 279.8,650.9 279.5,650.8 279.2,650.2 279.0,650.5 278.8,650.7 278.5,650.5 278.2,650.0 278.0,650.8 277.8,651.0 277.5,650.5 277.2,649.9 277.0,650.6 276.8,650.9 276.5,650.1 276.2,650.9 276.0,656.6 275.8,649.9 275.5,643.6 275.2,643.7 275.0,643.5 274.8,642.7 274.5,643.3 274.2,644.8 274.0,643.5 273.8,643.0 273.5,643.4 273.2,646.0 273.0,647.0 272.8,647.0 272.5,646.0 272.2,645.5 272.0,646.4 271.8,646.1 271.5,646.3 271.2,646.1 271.0,646.3 270.8,647.0 270.5,652.5 270.2,652.5 270.0,652.6 269.8,652.2 269.5,652.9 269.2,652.4 269.0,656.6 268.8,655.3 268.5,655.4 268.2,655.2 268.0,655.4 267.8,655.4 267.5,655.2 267.2,655.2 267.0,655.2 266.8,650.5 266.5,649.8 266.2,650.3 266.0,649.9 265.8,649.6 265.5,650.2 265.2,650.4 265.0,649.7 264.8,650.5 264.5,649.3 264.2,649.5 264.0,649.4 263.8,649.9 263.5,650.4 263.2,650.1 263.0,649.9 262.8,649.8 262.5,650.5 262.2,649.5 262.0,653.5 261.8,653.6 261.5,653.2 261.2,653.8 261.0,653.6 260.8,653.4 260.5,653.2 260.2,653.7 260.0,653.6 259.8,653.3 259.5,653.6 259.2,653.4 259.0,653.3 258.8,653.5 258.5,653.2 258.2,653.5 258.0,653.1 257.8,652.8 257.5,653.2 257.2,653.2 257.0,652.9 256.8,653.0 256.5,653.0 256.2,652.8 256.0,653.2 255.8,652.8 255.5,653.1 255.2,653.3 255.0,653.4 254.8,656.6 254.5,653.0 254.2,653.1 254.0,653.4 253.8,653.3 253.5,653.1 253.2,653.0 253.0,653.0 252.8,652.7 252.5,652.6 252.0,652.6 251.8,652.3 251.5,652.5 251.2,652.4 251.0,652.3 250.8,652.8 250.5,652.5 250.2,652.4 250.0,652.8 249.8,652.7 249.5,652.8 249.2,652.5 249.0,652.8 248.8,652.9 248.5,652.4 248.2,652.3 248.0,652.9 247.8,652.3 247.5,645.5 247.2,645.4 247.0,647.2 246.8,646.1 246.5,645.5 246.2,645.5 246.0,646.9 245.8,646.0 245.5,645.6 245.2,645.3 245.0,646.3 244.8,646.5 244.5,645.9 244.2,646.0 244.0,645.8 243.8,645.9 243.5,645.4 243.2,645.5 243.0,654.9 242.8,654.8 242.5,655.0 242.0,655.0 241.8,654.9 241.5,654.9 241.2,654.7 241.0,654.7 240.8,654.8 240.5,655.0 240.2,655.0 240.0,654.8 239.8,654.9 239.5,654.7 239.2,654.8 239.0,655.0 238.8,654.8 238.5,654.8 238.2,654.8 238.0,654.9 237.8,656.6 232.2,656.6 232.0,646.6 231.8,648.0 231.5,646.8 231.2,646.5 231.0,647.5 230.8,647.6 230.5,646.3 230.2,648.0 230.0,647.9 229.8,646.8 229.5,646.3 229.2,647.6 229.0,647.9 228.8,647.4 228.5,646.9 228.2,647.5 228.0,647.8 227.8,646.3 227.5,646.7 227.2,647.9 227.0,649.4 226.8,649.9 226.5,648.9 226.2,649.2 226.0,650.1 225.8,648.8 225.5,649.7 225.2,649.7 225.0,649.1 224.8,649.9 224.5,650.0 224.2,649.4 224.0,648.8 223.8,649.7 223.5,648.7 223.2,648.7 223.0,649.1 222.8,649.7 222.5,648.7 222.2,645.0 222.0,644.9 221.8,646.3 221.5,646.7 221.2,645.2 221.0,645.9 220.8,645.5 220.5,646.5 220.2,645.1 220.0,645.3 219.8,645.5 219.5,646.8 219.2,645.0 219.0,646.7 218.8,646.2 218.5,645.8 218.2,646.1 218.0,645.8 217.8,644.8 217.5,646.0 217.2,646.0 217.0,645.0 216.8,656.6 214.2,656.6 214.0,642.2 213.8,639.4 213.5,641.3 213.2,656.6 213.0,639.7 212.8,641.3 212.5,641.1 212.2,640.1 212.0,639.9 211.8,639.4 211.5,641.9 211.2,654.2 211.0,654.4 210.8,654.2 210.5,654.1 210.2,654.2 210.0,654.2 209.8,654.3 209.5,654.2 209.2,654.4 209.0,654.1 208.8,654.2 208.5,654.4 208.2,656.6 206.8,656.6 206.5,652.9 206.2,653.2 206.0,653.2 205.8,652.9 205.5,653.0 205.2,653.3 205.0,653.2 204.8,653.1 204.5,653.2 204.2,653.3 204.0,653.6 203.8,653.7 203.5,653.2 203.2,653.0 203.0,653.3 202.8,653.1 202.5,653.0 202.2,653.1 202.0,653.3 201.8,653.6 201.5,653.6 201.2,653.5 201.0,653.4 200.8,653.2 200.5,653.0 200.2,653.5 200.0,653.1 199.8,653.3 199.5,653.0 199.2,652.8 199.0,653.1 198.8,652.9 198.5,652.6 198.2,652.6 198.0,652.6 197.8,653.1 197.5,652.8 197.2,652.7 197.0,653.1 196.8,652.7 196.5,652.5 196.2,652.9 196.0,652.7 195.8,652.6 195.5,653.1 195.2,652.7 195.0,653.0 194.8,652.9 194.5,654.4 194.2,654.3 194.0,654.6 193.8,654.7 193.5,654.5 193.2,654.5 193.0,654.6 192.8,654.6 192.2,654.7 192.0,656.6 191.8,654.4 191.5,655.3 191.2,655.5 191.0,655.4 190.8,655.4 190.5,655.5 190.2,655.5 190.0,655.4 189.8,652.2 189.5,652.7 189.2,652.1 189.0,652.5 188.8,652.9 188.5,652.4 188.2,652.4 188.0,652.3 187.8,652.5 187.5,652.1 187.2,652.7 187.0,652.8 186.8,652.8 186.5,652.3 186.2,652.9 186.0,652.7 185.8,652.3 185.5,652.4 185.2,652.4 185.0,652.8 184.8,652.2 184.5,645.7 184.2,646.3 184.0,646.3 183.8,646.8 183.5,645.7 183.2,656.6 183.0,646.3 182.8,647.0 182.5,646.0 182.2,646.3 182.0,645.9 181.8,646.9 181.5,647.2 181.2,645.9 181.0,646.9 180.8,646.5 180.5,645.7 180.2,645.5 180.0,646.4 179.8,646.5 179.5,646.2 179.2,645.7 179.0,654.7 178.8,654.9 178.5,654.8 178.2,654.7 178.0,654.9 177.8,654.9 177.5,655.0 177.2,654.8 177.0,655.0 176.5,654.9 176.2,654.8 176.0,654.7 175.8,655.0 175.5,654.8 175.2,654.6 175.0,654.9 174.8,654.1 174.5,653.9 174.2,654.2 174.0,654.1 173.8,653.9 173.5,654.2 173.2,654.1 173.0,653.9 172.8,642.3 172.5,640.7 172.2,642.7 172.0,641.2 171.8,641.4 171.5,643.3 171.2,643.2 171.0,641.8 170.8,640.5 170.5,643.3 170.2,644.1 170.0,644.1 169.8,656.4 166.5,656.4 166.2,646.6 166.0,646.3 165.8,645.5 165.5,656.6 165.2,646.1 165.0,646.8 164.8,645.7 164.5,646.5 164.2,646.3 164.0,646.4 163.8,645.0 163.5,646.7 163.2,645.9 163.0,645.2 162.8,644.9 162.5,645.9 162.2,646.2 162.0,652.9 161.8,653.1 161.5,652.9 161.2,652.7 161.0,652.9 160.8,653.0 160.5,652.5 160.2,653.1 160.0,653.1 159.8,652.9 159.5,652.5 159.2,652.6 159.0,653.6 158.8,653.6 158.5,653.5 158.2,653.9 158.0,653.6 157.8,653.6 157.5,653.9 157.2,653.8 157.0,654.0 156.8,653.9 156.5,653.6 156.2,653.9 156.0,653.6 155.8,647.1 155.5,647.9 155.2,647.0 155.0,648.1 154.8,648.2 154.5,647.2 154.2,646.6 154.0,646.7 153.8,647.1 153.5,648.1 153.2,647.5 153.0,646.9 152.8,656.6 152.5,647.1 152.2,647.3 152.0,646.7 151.8,647.4 151.5,646.7 151.2,647.4 151.0,653.4 150.8,653.0 150.5,653.2 150.2,653.5 150.0,652.9 149.8,652.9 149.5,653.1 149.2,653.4 149.0,653.1 148.8,653.3 148.5,652.8 148.2,653.1 148.0,656.6 145.8,656.6 145.5,651.9 145.2,652.0 145.0,652.3 144.8,652.3 144.5,651.9 144.2,651.6 144.0,652.3 143.8,652.4 143.5,651.9 143.2,656.6 143.0,652.0 142.8,652.1 142.5,652.4 142.2,651.6 142.0,652.2 141.8,651.6 141.5,652.0 141.2,651.6 141.0,656.6 137.5,656.6 137.2,651.2 137.0,651.1 136.8,651.9 136.5,651.6 136.2,651.3 136.0,651.6 135.8,651.1 135.5,651.2 135.2,652.1 135.0,652.1 134.8,651.4 134.5,651.3 134.2,651.7 134.0,651.8 133.8,651.2 133.5,651.1 133.2,651.5 133.0,656.6 132.8,651.6 132.5,643.9 132.2,644.9 132.0,645.9 131.8,643.9 131.5,643.8 131.2,644.7 131.0,644.8 130.8,645.5 130.5,644.5 130.2,645.2 130.0,645.7 129.8,644.1 129.5,645.3 129.2,655.7 129.0,655.8 128.8,655.7 128.5,656.6 128.2,655.7 127.8,655.6 127.5,654.6 127.2,654.5 127.0,654.5 126.8,654.4 126.2,654.4 126.0,654.6 125.8,654.5 125.5,654.7 125.0,654.7 124.8,654.4 124.5,654.5 124.2,654.5 124.0,654.3 123.8,654.5 123.5,656.6 123.2,656.6 123.0,654.7 122.8,654.6 122.5,654.7 122.2,654.5 122.0,654.6 121.8,654.5 121.5,654.0 121.2,656.6 121.0,654.0 120.8,654.0 120.5,653.7 120.2,654.1 120.0,654.0 119.8,654.1 119.5,653.9 119.2,653.8 119.0,653.9 118.8,654.1 118.5,653.7 118.2,653.6 118.0,653.8 117.8,653.6 117.5,653.9 117.2,652.9 117.0,652.6 116.8,652.9 116.5,653.0 116.2,652.8 116.0,652.5 115.8,652.7 115.5,652.6 115.2,652.7 115.0,652.6 114.8,653.0 114.5,653.2 114.2,653.1 114.0,652.7 113.8,653.0 113.5,653.2 113.2,652.8 113.0,653.2 112.8,652.9 112.5,646.4 112.2,646.3 112.0,645.5 111.8,646.8 111.5,646.4 111.2,645.1 111.0,646.0 110.8,645.3 110.5,645.2 110.2,645.5 110.0,645.0 109.8,645.8 109.5,646.4 109.2,644.9 109.0,645.2 108.8,646.7 108.5,656.6 108.2,645.7 108.0,655.1 107.8,655.1 107.5,655.1 107.2,655.1 107.0,655.1 106.8,655.2 106.5,655.3 106.0,655.2 105.8,650.3 105.5,650.2 105.2,650.0 105.0,650.0 104.8,649.5 104.5,650.2 104.2,649.7 104.0,649.3 103.8,649.1 103.5,649.5 103.2,649.5 103.0,652.1 102.8,652.2 102.5,652.0 102.2,651.6 102.0,652.2 101.8,652.2 101.5,656.6 101.2,652.4 101.0,651.6 100.8,652.4 100.5,651.7 100.2,649.4 100.0,649.9 99.8,656.6 99.5,649.5 99.2,650.4 99.0,649.7 98.8,650.0 98.5,650.5 98.2,649.5 98.0,650.3 97.8,650.2 97.5,649.4 97.2,650.5 97.0,650.1 96.8,650.2 96.5,650.6 96.2,653.5 96.0,653.7 95.8,653.9 95.5,653.7 95.2,653.5 95.0,653.3 94.8,653.7 94.5,653.8 94.2,653.5 94.0,640.9 93.8,642.6 93.5,641.2 93.2,641.6 93.0,641.4 92.8,642.0 92.5,641.5 92.2,642.1 92.0,643.4 91.8,648.9 91.5,648.0 91.2,648.9 91.0,648.4 90.8,648.8 90.5,649.0 90.2,653.7 90.0,653.3 89.8,653.8 89.5,653.7 89.2,653.7 89.0,653.3 88.8,653.4 88.5,653.4 88.2,653.8 88.0,653.7 87.8,653.6 87.5,653.6 87.2,653.8 87.0,653.3 86.8,653.7 86.5,653.7 86.2,653.7 86.0,653.5 85.8,653.4 85.5,653.4 85.2,653.5 85.0,648.6 84.8,647.7 84.5,647.6 84.2,648.2 84.0,647.8 83.8,647.5 83.5,648.0 83.2,647.4 83.0,647.4 82.8,648.8 82.5,647.4 82.2,647.7 82.0,647.2 81.8,647.7 81.5,647.2 81.2,648.1 81.0,648.3 80.8,647.8 80.5,647.9 80.2,648.7 80.0,647.4 79.8,648.2 79.5,648.7 79.2,638.9 79.0,638.3 78.8,638.4 78.5,639.6 78.2,639.7 78.0,638.7 77.8,638.6 77.5,639.9 77.2,638.6 77.0,638.5 76.8,638.5 76.5,639.3 76.2,649.7 76.0,650.8 75.8,650.1 75.5,650.0 75.2,649.8 75.0,650.8 74.8,650.0 74.5,650.3 74.2,649.9 74.0,649.8 73.8,656.6 73.5,650.6 73.2,650.4 73.0,650.4 72.8,650.7 72.5,650.5 72.2,650.6 72.0,650.1 71.8,650.5 71.5,650.1 71.2,652.6 71.0,652.3 70.8,652.3 70.5,652.5 70.2,652.9 70.0,652.3 69.8,652.8 69.5,652.8 69.2,653.3 69.0,653.2 68.8,652.9 68.5,652.8 68.2,652.9 68.0,653.1 67.8,652.7 67.5,653.0 67.2,653.3 67.0,653.2 66.8,653.1 66.5,652.8 66.2,653.2 66.0,653.1 65.8,652.8 65.5,653.2 65.2,652.7 65.0,652.9 64.8,656.6 63.0,656.6 62.8,655.7 62.2,655.7 62.0,655.6 61.8,655.7 61.5,655.8 61.2,655.7 60.5,655.7 60.2,655.6 60.0,655.6 59.8,655.7 59.0,655.7 58.8,655.6 58.5,655.7 58.2,655.6 57.8,655.6 57.5,647.3 57.2,647.6 57.0,647.3 56.8,646.5 56.5,646.5 56.2,647.2 56.0,646.5 55.8,656.6 55.5,647.2 55.2,646.2 55.0,646.6 54.8,647.7 54.5,647.5 54.2,646.1 54.0,646.0 53.8,646.8 53.5,647.0Z" fill="#1f77b4" stroke="#1f77b4" stroke-width="1.8" stroke-linejoin="round"/>
<line x1="580.3" x2="610.0" y1="622.08" y2="622.08" stroke="#000" stroke-width="3.6"/>
<path d="M53.5,656.15 H642.5 M303.62,656.55 L304.02,646.04 L304.42,656.55 M313.80,656.55 L314.20,622.03 L314.60,656.55 M334.33,656.55 L334.73,583.75 L335.13,656.55 M584.88,656.55 L585.28,643.04 L585.68,656.55 M595.06,656.55 L595.46,600.26 L595.86,656.55 M614.05,656.55 L614.45,628.78 L614.85,656.55" fill="none" stroke="#ff7f0e" stroke-width="1.3" stroke-dasharray="1.3 1.87"/>
</g>
<rect x="53.50" y="506.45" width="589.00" height="150.10" fill="none" stroke="#808080" stroke-width="1"/>
<path clip-path="url(#c3)" d="M53.85,656.55 V598.76" fill="none" stroke="#ff7f0e" stroke-width="1.3" stroke-dasharray="1.3 1.87"/>
<path d="M53.00,656.55 h-2.0 M53.00,627.68 h-2.0 M53.00,598.82 h-2.0 M53.00,569.95 h-2.0 M53.00,541.09 h-2.0 M53.00,512.22 h-2.0 M643.00,656.55 h2.0 M643.00,619.03 h2.0 M643.00,581.50 h2.0 M643.00,543.98 h2.0 M643.00,506.45 h2.0 M53.50,657.05 v2.4 M67.52,657.05 v1.4 M81.55,657.05 v1.4 M95.57,657.05 v1.4 M109.60,657.05 v1.4 M123.62,657.05 v2.4 M137.64,657.05 v1.4 M151.67,657.05 v1.4 M165.69,657.05 v1.4 M179.71,657.05 v1.4 M193.74,657.05 v2.4 M207.76,657.05 v1.4 M221.79,657.05 v1.4 M235.81,657.05 v1.4 M249.83,657.05 v1.4 M263.86,657.05 v2.4 M277.88,657.05 v1.4 M291.90,657.05 v1.4 M305.93,657.05 v1.4 M319.95,657.05 v1.4 M333.98,657.05 v2.4 M348.00,657.05 v1.4 M362.02,657.05 v1.4 M376.05,657.05 v1.4 M390.07,657.05 v1.4 M404.10,657.05 v2.4 M418.12,657.05 v1.4 M432.14,657.05 v1.4 M446.17,657.05 v1.4 M460.19,657.05 v1.4 M474.21,657.05 v2.4 M488.24,657.05 v1.4 M502.26,657.05 v1.4 M516.29,657.05 v1.4 M530.31,657.05 v1.4 M544.33,657.05 v2.4 M558.36,657.05 v1.4 M572.38,657.05 v1.4 M586.40,657.05 v1.4 M600.43,657.05 v1.4 M614.45,657.05 v2.4 M628.48,657.05 v1.4 M642.50,657.05 v1.4" stroke="#333" stroke-width="0.9" fill="none"/>
<text x="49.20" y="660.95" font-size="10.5" text-anchor="end" textLength="23.38" lengthAdjust="spacingAndGlyphs">0.00</text>
<text x="49.20" y="632.08" font-size="10.5" text-anchor="end" textLength="23.38" lengthAdjust="spacingAndGlyphs">0.05</text>
<text x="49.20" y="603.22" font-size="10.5" text-anchor="end" textLength="23.38" lengthAdjust="spacingAndGlyphs">0.10</text>
<text x="49.20" y="574.35" font-size="10.5" text-anchor="end" textLength="23.38" lengthAdjust="spacingAndGlyphs">0.15</text>
<text x="49.20" y="545.49" font-size="10.5" text-anchor="end" textLength="23.38" lengthAdjust="spacingAndGlyphs">0.20</text>
<text x="49.20" y="516.62" font-size="10.5" text-anchor="end" textLength="23.38" lengthAdjust="spacingAndGlyphs">0.25</text>
<text x="646.40" y="660.95" font-size="10.5" textLength="6.68" lengthAdjust="spacingAndGlyphs">0</text>
<text x="646.40" y="623.43" font-size="10.5" textLength="6.68" lengthAdjust="spacingAndGlyphs">5</text>
<text x="646.40" y="585.90" font-size="10.5" textLength="13.36" lengthAdjust="spacingAndGlyphs">10</text>
<text x="646.40" y="548.38" font-size="10.5" textLength="13.36" lengthAdjust="spacingAndGlyphs">15</text>
<text x="646.40" y="510.85" font-size="10.5" textLength="13.36" lengthAdjust="spacingAndGlyphs">20</text>
<text x="64.80" y="529.15" font-size="14.3" textLength="13.53" lengthAdjust="spacingAndGlyphs">d)</text>
<text x="94.00" y="529.15" font-size="14.3" textLength="87.44" lengthAdjust="spacingAndGlyphs">GGN (1-4 Hz)</text>
<text x="78.20" y="568.90" font-size="14.3" textLength="29.62" lengthAdjust="spacingAndGlyphs">1/7d</text>
<text x="337.50" y="521.40" font-size="14.3" textLength="21.22" lengthAdjust="spacingAndGlyphs">1/d</text>
<text x="574.20" y="596.50" font-size="14.3" textLength="9.87" lengthAdjust="spacingAndGlyphs">N</text>
<text x="584.37" y="599.60" font-size="10.2" textLength="5.88" lengthAdjust="spacingAndGlyphs">2</text>
<text x="583.40" y="542.60" font-size="14.3" textLength="11.39" lengthAdjust="spacingAndGlyphs">M</text>
<text x="595.09" y="545.70" font-size="10.2" textLength="5.88" lengthAdjust="spacingAndGlyphs">2</text>
<g clip-path="url(#c4)">
<path d="M53.5,668.9 55.8,668.9 56.0,738.1 56.2,748.9 56.5,752.7 56.8,754.6 57.0,747.2 57.2,749.3 57.5,751.5 57.8,757.4 58.0,759.5 58.2,761.5 58.5,763.5 58.8,765.6 59.0,764.5 59.2,766.2 59.5,767.4 59.8,768.6 60.0,769.8 60.2,771.1 60.5,789.5 60.8,790.3 61.0,786.9 61.2,787.8 61.5,788.7 61.8,787.3 62.0,788.2 62.2,788.9 62.5,789.6 62.8,790.4 63.0,791.1 63.2,791.9 63.5,785.9 63.8,786.8 64.0,787.7 64.2,788.6 64.5,789.5 64.8,790.3 65.0,790.7 65.2,797.6 65.5,797.9 65.8,798.2 66.0,798.5 66.2,798.8 66.5,798.6 66.8,799.0 67.0,799.3 67.2,799.6 67.5,799.9 67.8,800.2 68.0,800.6 68.2,804.1 68.5,804.3 68.8,804.6 69.0,804.9 69.2,802.7 69.5,803.0 69.8,803.3 70.0,803.6 70.2,803.9 70.5,803.2 71.2,803.3 71.5,803.6 73.0,803.8 73.2,801.9 74.5,802.1 74.8,797.2 76.0,797.5 76.2,801.7 77.2,801.8 77.5,796.2 78.0,796.3 78.2,800.9 78.5,800.9 78.8,802.7 80.0,802.8 80.2,806.2 81.5,806.3 81.8,799.4 83.0,799.6 83.2,803.5 85.0,803.7 85.2,802.0 85.5,802.1 85.8,807.3 86.2,807.4 86.5,807.2 87.5,807.3 87.8,802.2 88.5,802.3 88.8,807.6 89.8,807.7 90.0,806.4 91.5,806.6 91.8,805.8 92.2,805.9 92.5,806.6 93.2,806.7 93.5,807.0 94.5,807.1 94.8,804.4 95.5,804.5 95.8,804.6 96.0,804.7 96.2,804.8 96.5,804.9 96.8,805.5 97.0,805.6 97.2,805.7 97.5,805.5 97.8,805.6 98.0,805.6 98.2,805.7 98.5,805.8 98.8,808.5 99.0,808.5 99.2,808.6 99.5,808.7 99.8,808.8 100.0,808.8 100.2,804.9 100.5,805.0 100.8,805.1 101.0,805.2 101.2,805.3 101.5,805.4 101.8,805.5 102.0,805.6 102.2,807.3 102.5,807.4 102.8,807.5 103.0,807.5 103.2,807.6 103.5,807.7 103.8,807.8 104.0,807.3 104.2,807.4 104.5,807.5 104.8,807.6 105.0,807.7 105.2,807.8 105.5,807.9 105.8,808.9 106.0,809.0 106.2,809.1 106.5,809.0 106.8,809.1 107.0,810.0 107.2,810.1 107.5,810.2 107.8,809.1 108.0,809.2 108.2,812.1 108.5,812.2 108.8,812.3 109.0,812.4 109.2,812.4 109.5,812.5 109.8,812.5 110.0,805.1 111.2,805.3 111.5,807.0 112.5,807.2 112.8,810.4 114.5,810.6 114.8,807.7 116.2,807.9 116.5,812.3 117.2,812.3 117.5,807.3 118.0,807.4 118.2,815.4 119.5,815.5 119.8,811.0 121.5,811.2 121.8,809.9 122.5,810.0 122.8,812.3 123.2,812.3 123.5,812.8 124.8,813.0 125.0,809.0 125.5,809.1 125.8,809.7 126.8,809.8 127.0,813.4 128.5,813.6 128.8,811.2 129.2,811.3 129.5,815.5 130.0,815.5 130.2,814.2 131.0,814.3 131.2,814.9 132.0,815.0 132.2,813.2 133.5,813.3 133.8,813.1 134.2,813.1 134.5,815.0 136.0,815.2 136.2,814.2 136.8,814.3 137.0,815.4 138.2,815.5 138.5,812.9 139.0,812.9 139.2,818.0 139.8,818.1 140.0,813.8 141.2,813.9 141.5,815.3 142.5,815.4 142.8,812.5 146.2,812.7 146.5,815.1 147.5,815.1 147.8,814.2 148.5,814.2 148.8,815.8 149.5,815.8 149.8,816.4 151.0,816.4 151.2,815.2 152.8,815.3 153.0,816.6 153.8,816.6 154.0,816.1 154.8,816.1 155.0,812.1 156.2,812.2 156.5,815.6 158.0,815.6 158.2,813.9 158.8,813.9 159.0,815.3 160.2,815.3 160.5,816.5 161.5,816.5 161.8,813.8 163.5,813.9 163.8,814.9 164.5,815.0 164.8,814.6 165.2,814.6 165.5,814.2 166.8,814.3 167.0,815.1 168.8,815.2 169.0,815.5 170.5,815.6 170.8,814.7 172.2,814.7 172.5,815.4 174.0,815.5 174.2,816.9 174.8,816.9 175.0,814.8 176.0,814.9 176.2,812.5 177.2,812.6 177.5,818.0 179.0,818.0 179.2,814.4 180.0,814.4 180.2,811.7 180.5,811.7 180.8,816.5 181.0,816.5 181.2,816.8 182.8,816.8 183.0,815.5 183.8,815.6 184.0,816.4 184.8,816.4 185.0,815.9 185.5,815.9 185.8,815.4 186.0,815.4 186.2,818.2 187.5,818.2 187.8,819.1 189.2,819.1 189.5,815.8 190.2,815.8 190.5,816.6 191.8,816.6 192.0,817.7 193.2,817.8 193.5,816.6 194.5,816.6 194.8,815.7 195.5,815.7 195.8,816.0 197.2,816.1 197.5,815.7 199.0,815.7 199.2,816.3 199.8,816.3 200.0,817.8 201.5,817.8 201.8,817.2 203.2,817.2 203.5,816.6 204.5,816.6 204.8,816.9 205.2,816.9 205.5,818.1 205.8,818.1 206.0,817.4 207.5,817.5 207.8,815.1 208.2,815.1 208.5,815.1 208.8,815.1 209.0,816.9 209.8,816.9 210.0,816.7 211.2,816.7 211.5,815.0 212.2,815.1 212.5,814.9 213.2,814.9 213.5,817.8 214.5,817.8 214.8,817.3 216.2,817.3 216.5,815.0 217.5,815.1 217.8,816.5 218.0,816.5 218.2,814.9 218.8,814.9 219.0,817.9 219.8,817.9 220.0,817.3 221.2,817.3 221.5,814.8 223.2,814.8 223.5,818.5 224.0,818.5 224.2,815.6 225.5,815.6 225.8,816.7 227.2,816.7 227.5,819.1 228.2,819.1 228.5,816.8 228.8,816.8 229.0,819.5 230.2,819.5 230.5,814.4 230.8,814.4 231.0,815.1 231.5,815.1 231.8,817.5 232.8,817.5 233.0,816.7 233.2,816.7 233.5,818.7 235.2,818.7 235.5,816.7 236.8,816.7 237.0,816.4 238.8,816.5 239.0,816.2 240.8,816.3 241.0,817.9 241.8,817.9 242.0,817.7 242.2,817.7 242.5,815.4 243.5,815.4 243.8,814.0 245.0,814.0 245.2,818.4 246.8,818.4 247.0,815.9 247.8,815.9 248.0,816.8 248.5,816.8 248.8,814.8 249.8,814.8 250.0,819.8 250.2,819.8 250.5,814.8 251.2,814.8 251.5,817.0 251.8,817.1 252.0,816.2 253.2,816.2 253.5,817.2 254.2,817.2 254.5,817.5 256.0,817.5 256.2,816.4 257.5,816.5 257.8,815.0 258.2,815.0 258.5,817.3 258.8,817.3 259.0,815.8 260.2,815.8 260.5,815.5 261.8,815.5 262.0,818.2 263.2,818.2 263.5,816.0 264.0,816.0 264.2,817.6 264.5,817.6 264.8,815.9 265.5,815.9 265.8,818.1 266.8,818.1 267.0,817.2 268.0,817.3 268.2,816.8 268.8,816.8 269.0,818.4 269.5,818.4 269.8,815.9 270.5,815.9 270.8,817.7 272.0,817.7 272.2,817.2 272.5,817.2 272.8,819.3 273.8,819.3 274.0,816.3 274.8,816.3 275.0,818.4 276.8,818.4 277.0,818.6 278.5,818.6 278.8,817.6 279.5,817.7 279.8,817.3 280.5,817.3 280.8,816.4 281.5,816.4 281.8,814.8 283.0,814.8 283.2,816.0 284.8,816.1 285.0,817.0 285.5,817.0 285.8,816.2 286.5,816.2 286.8,817.3 288.2,817.3 288.5,818.0 289.2,818.0 289.5,814.6 290.0,814.6 290.2,819.3 291.8,819.3 292.0,817.0 293.2,817.0 293.5,817.1 294.8,817.1 295.0,814.0 296.2,814.0 296.5,816.9 297.5,816.9 297.8,818.9 298.0,819.0 298.2,817.0 298.5,817.0 298.8,816.2 299.8,816.2 300.0,815.4 300.2,815.4 300.5,817.2 301.2,817.2 301.5,818.1 302.8,818.1 303.0,817.4 303.2,817.4 303.5,816.4 305.0,816.4 305.2,817.4 306.2,817.4 306.5,817.6 308.2,817.6 308.5,816.1 309.2,816.1 309.5,818.5 311.0,818.6 311.2,815.4 312.2,815.4 312.5,817.9 314.0,817.9 314.2,818.0 314.8,818.0 315.0,816.3 316.0,816.3 316.2,817.8 317.8,817.8 318.0,815.9 319.2,815.9 319.5,817.4 320.8,817.4 321.0,816.4 322.2,816.4 322.5,815.5 323.8,815.3 324.0,818.5 324.2,810.1 324.8,810.1 325.0,818.3 325.2,817.5 325.5,817.4 325.8,816.5 326.0,816.4 326.2,816.2 326.5,816.0 326.8,815.8 327.0,815.3 327.2,815.0 327.5,814.7 327.8,814.4 328.0,814.0 328.2,814.0 328.5,813.7 328.8,813.3 329.0,812.9 329.2,812.4 329.5,812.0 329.8,811.5 330.0,811.3 330.2,810.9 330.5,810.4 330.8,809.9 331.0,809.5 331.2,809.0 331.5,808.6 331.8,810.1 332.0,809.7 332.2,807.9 332.5,807.3 333.2,807.3 333.5,793.6 334.2,793.6 334.5,805.3 334.8,807.3 335.5,807.3 335.8,808.5 336.0,810.4 336.2,810.7 336.5,811.1 336.8,808.6 337.0,809.0 337.2,809.5 337.5,810.0 337.8,810.5 338.0,811.0 338.2,810.5 338.5,811.1 338.8,811.4 339.0,811.9 339.2,812.4 339.5,812.8 339.8,813.2 340.0,816.3 340.2,816.6 340.5,816.9 340.8,817.1 341.0,817.3 341.2,817.5 341.5,817.3 341.8,817.5 342.0,817.6 342.2,817.7 342.5,817.9 342.8,815.8 343.0,815.9 343.2,816.0 343.5,817.4 343.8,817.5 344.0,817.5 344.2,817.6 344.5,817.8 346.2,817.9 346.5,817.0 348.2,817.1 348.5,818.4 350.0,818.4 350.2,816.6 352.0,816.6 352.2,817.6 354.0,817.7 354.2,817.9 355.2,817.9 355.5,819.6 356.8,819.6 357.0,818.6 358.2,818.6 358.5,817.8 359.2,817.8 359.5,818.8 361.2,818.8 361.5,817.4 362.8,817.5 363.0,819.5 363.5,819.5 363.8,816.8 364.2,816.8 364.5,818.3 365.5,818.3 365.8,818.6 367.2,818.6 367.5,818.8 368.8,818.8 369.0,816.9 370.0,816.9 370.2,818.9 371.2,818.9 371.5,817.6 371.8,817.6 372.0,818.3 372.5,818.3 372.8,811.2 373.2,811.2 373.5,817.1 374.0,817.1 374.2,817.6 374.8,817.6 375.0,817.9 376.5,817.9 376.8,817.0 377.2,817.0 377.5,817.2 379.2,817.3 379.5,818.4 380.5,818.5 380.8,819.3 381.0,819.3 381.2,818.1 382.8,818.1 383.0,818.1 384.2,818.1 384.5,818.9 385.5,818.9 385.8,819.3 387.2,819.3 387.5,820.3 389.0,820.3 389.2,818.8 390.5,818.8 390.8,818.2 391.2,818.2 391.5,820.1 393.0,820.1 393.2,819.6 394.8,819.7 395.0,818.3 395.8,818.3 396.0,819.3 396.8,819.3 397.0,819.6 398.8,819.6 399.0,819.5 400.0,819.5 400.2,819.7 402.0,819.8 402.2,817.7 402.8,817.7 403.0,818.1 404.0,818.1 404.2,819.0 405.2,819.0 405.5,818.8 407.0,818.8 407.2,819.2 410.0,819.3 410.2,818.0 411.0,818.1 411.2,820.1 412.8,820.1 413.0,818.5 413.2,811.2 413.8,811.2 414.0,818.0 415.2,818.1 415.5,819.4 416.5,819.4 416.8,818.7 417.8,818.7 418.0,817.9 418.5,817.9 418.8,820.8 419.2,820.8 419.5,820.1 420.2,820.1 420.5,818.7 421.2,818.7 421.5,818.9 423.0,818.9 423.2,819.4 424.8,819.4 425.0,819.1 425.2,819.1 425.5,819.4 426.0,819.4 426.2,819.6 427.2,819.6 427.5,819.5 428.5,819.5 428.8,818.5 430.2,818.6 430.5,819.9 431.8,819.9 432.0,819.6 432.5,819.6 432.8,818.9 434.2,818.9 434.5,820.3 436.0,820.3 436.2,819.3 437.5,819.3 437.8,819.9 439.0,819.9 439.2,819.4 440.5,819.5 440.8,818.5 441.8,818.5 442.0,818.5 442.8,818.5 443.0,819.6 444.0,819.6 444.2,819.5 445.8,819.5 446.0,820.4 447.5,820.4 447.8,817.3 448.5,817.3 448.8,820.0 449.2,820.0 449.5,820.2 451.0,820.2 451.2,819.6 452.5,819.6 452.8,820.3 453.5,820.3 453.8,819.5 454.2,819.5 454.5,819.8 455.0,819.8 455.2,818.6 455.8,818.6 456.0,818.7 456.8,818.7 457.0,819.5 458.8,819.5 459.0,820.1 460.0,820.1 460.2,819.3 461.0,819.4 461.2,820.4 462.5,820.4 462.8,818.9 463.5,818.9 463.8,819.3 465.2,819.3 465.5,820.3 466.0,820.3 466.2,819.6 466.5,819.6 466.8,820.6 468.5,820.6 468.8,819.9 470.5,819.9 470.8,819.7 471.5,819.7 471.8,820.3 472.5,820.4 472.8,819.5 473.5,819.5 473.8,819.4 475.0,819.4 475.2,819.9 477.5,819.8 477.8,820.4 478.5,820.4 478.8,819.7 481.2,819.6 481.5,819.1 482.8,819.1 483.0,818.8 483.8,818.8 484.0,819.9 484.2,819.9 484.5,820.4 484.8,820.4 485.0,819.9 485.5,819.9 485.8,819.7 486.2,819.7 486.5,820.6 488.0,820.6 488.2,820.0 488.8,820.0 489.0,819.2 489.5,819.2 489.8,819.1 490.5,819.1 490.8,820.6 492.0,820.6 492.2,820.7 492.5,820.7 492.8,819.4 494.5,819.4 494.8,819.7 495.2,819.7 495.5,819.9 496.2,820.0 496.5,820.9 498.0,820.9 498.2,818.9 498.8,818.9 499.0,817.6 499.5,817.6 499.8,819.0 501.2,819.0 501.5,820.5 502.8,820.5 503.0,819.7 504.0,819.7 504.2,819.8 505.2,819.8 505.5,820.0 506.5,820.0 506.8,819.3 507.2,819.3 507.5,821.1 509.2,821.1 509.5,819.6 511.2,819.6 511.5,820.3 512.5,820.3 512.8,819.0 513.2,819.0 513.5,820.0 515.0,820.0 515.2,819.9 515.8,819.9 516.0,819.1 516.2,819.1 516.5,820.0 518.0,820.0 518.2,819.8 519.0,819.8 519.2,818.2 520.0,818.2 520.2,820.1 522.8,820.0 523.0,819.7 524.2,819.7 524.5,820.6 525.0,820.6 525.2,819.3 526.0,819.3 526.2,820.5 526.5,820.5 526.8,820.4 528.5,820.4 528.8,820.5 529.2,820.5 529.5,819.6 530.0,819.6 530.2,820.6 531.0,820.6 531.2,820.2 531.8,820.2 532.0,821.0 532.2,821.0 532.5,819.9 534.0,819.9 534.2,819.5 535.5,819.5 535.8,819.7 537.5,819.7 537.8,820.3 539.2,820.3 539.5,819.7 542.2,819.7 542.5,820.7 542.8,820.7 543.0,819.2 543.8,819.2 544.0,819.3 545.0,819.3 545.2,820.2 546.0,820.2 546.2,819.8 547.2,819.8 547.5,820.0 548.2,820.0 548.5,820.2 549.0,820.2 549.2,820.5 549.8,820.5 550.0,819.5 551.0,819.5 551.2,820.1 553.0,820.1 553.2,820.2 553.8,820.2 554.0,819.9 554.2,819.9 554.5,820.4 556.0,820.4 556.2,820.9 556.8,820.9 557.0,820.4 558.2,820.4 558.5,819.7 559.2,819.7 559.5,819.0 560.2,819.0 560.5,819.7 560.8,819.7 561.0,820.7 562.0,820.7 562.2,819.4 566.0,819.4 566.2,820.3 567.8,820.3 568.0,819.2 568.5,819.3 568.8,820.5 570.2,820.5 570.5,819.2 571.5,819.2 571.8,821.0 572.8,821.0 573.0,819.9 573.2,819.9 573.5,818.3 574.5,818.3 574.8,820.2 575.2,820.2 575.5,820.0 576.8,820.0 577.0,820.9 578.5,820.9 578.8,819.1 580.0,819.1 580.2,821.3 581.2,821.3 581.5,820.0 582.5,820.0 582.8,819.7 584.0,819.7 584.2,821.3 585.2,821.3 585.5,819.8 586.8,819.8 587.0,819.5 587.2,819.5 587.5,819.4 589.0,819.4 589.2,819.8 589.8,819.8 590.0,819.9 591.8,820.0 592.0,820.4 593.5,820.4 593.8,820.0 594.5,820.0 594.8,820.2 596.0,820.2 596.2,819.3 596.8,819.3 597.0,820.2 598.2,820.2 598.5,820.0 599.0,820.0 599.2,820.1 600.2,820.1 600.5,819.3 602.0,819.3 602.2,820.5 603.0,820.5 603.2,819.9 604.5,819.9 604.8,819.5 606.0,819.5 606.2,819.6 607.8,819.6 608.0,819.7 609.0,819.7 609.2,818.9 610.8,818.9 611.0,820.8 611.2,820.8 611.5,820.7 611.8,820.2 612.0,819.5 612.2,818.6 612.5,817.5 612.8,817.4 614.0,817.4 614.2,808.4 614.8,808.4 615.0,817.4 616.2,817.4 616.5,818.0 616.8,818.8 617.2,818.8 617.5,820.3 619.0,820.3 619.2,820.1 619.8,820.1 620.0,820.7 621.8,820.7 622.0,821.1 623.2,821.1 623.5,820.5 624.5,820.5 624.8,819.8 626.5,819.8 626.8,818.9 627.0,818.9 627.2,819.5 627.5,819.5 627.8,820.1 629.0,820.1 629.2,820.6 629.5,820.6 629.8,820.5 630.2,820.5 630.5,819.7 631.2,819.7 631.5,820.1 632.0,820.1 632.2,819.9 633.0,819.9 633.2,821.4 634.5,821.4 634.8,819.7 636.2,819.7 636.5,820.4 639.5,820.4 639.8,819.0 640.2,819.0 640.5,819.4 642.0,819.4 642.2,820.2 642.5,820.2 642.5,823.0 642.2,823.0 642.0,823.0 641.2,823.0 641.0,822.6 640.8,822.7 640.5,822.5 640.2,822.4 640.0,822.6 639.8,822.5 639.5,822.5 639.2,823.6 639.0,823.5 638.8,823.6 637.2,823.6 637.0,823.5 631.8,823.5 631.5,824.0 627.0,824.0 626.8,822.7 626.5,822.9 626.2,822.8 626.0,822.8 625.8,822.8 625.5,822.6 625.2,822.7 625.0,822.8 624.8,822.7 624.5,822.8 624.2,822.7 624.0,822.8 623.8,822.8 623.5,822.7 623.2,822.7 623.0,822.9 622.8,824.0 622.5,822.9 622.2,822.9 621.8,822.8 621.5,822.9 621.0,822.9 620.8,822.9 620.5,822.8 620.2,822.8 620.0,823.0 619.8,822.8 619.5,824.0 619.2,822.9 618.5,822.9 618.2,823.0 617.8,822.9 617.5,822.9 617.2,823.7 615.2,823.7 615.0,824.0 614.8,823.7 614.2,823.7 614.0,822.2 613.8,822.0 613.5,822.0 613.2,822.0 613.0,822.1 612.8,822.0 612.5,822.2 612.2,822.0 612.0,822.0 611.8,822.4 611.0,822.4 610.8,821.9 610.5,821.9 610.2,822.0 609.8,821.9 609.5,821.7 609.2,821.8 609.0,821.8 608.8,821.9 608.5,822.0 608.2,822.0 608.0,821.8 607.8,821.8 607.5,822.0 607.2,822.0 607.0,822.0 606.8,821.8 604.8,821.7 604.5,821.9 604.2,821.9 604.0,824.0 603.8,821.9 603.5,824.0 603.2,821.9 603.0,822.2 601.5,822.2 601.2,822.1 601.0,822.1 600.8,822.2 600.5,822.2 600.2,822.4 600.0,822.3 599.8,822.3 599.5,824.0 599.2,822.1 599.0,822.1 598.8,822.4 598.5,822.3 598.2,822.2 598.0,822.3 597.5,822.3 597.2,822.3 597.0,822.1 596.8,822.4 596.5,822.2 596.2,823.0 596.0,823.0 595.8,823.1 595.5,823.1 595.2,823.0 595.0,823.1 594.5,823.0 594.2,824.0 594.0,823.0 593.8,823.1 593.5,822.2 592.0,822.2 591.8,822.0 590.0,821.9 589.8,821.9 589.5,821.9 589.2,822.8 588.5,822.8 588.2,822.9 588.0,822.9 587.8,822.7 587.5,822.9 587.2,822.8 587.0,824.0 586.8,822.8 586.5,822.8 586.2,822.8 586.0,822.9 585.8,822.8 585.5,822.9 585.2,823.0 585.0,822.8 584.8,822.9 584.5,824.0 584.2,822.9 583.8,822.8 583.5,822.9 583.2,822.8 583.0,823.0 582.5,823.0 582.2,822.9 582.0,822.7 581.8,822.7 581.5,822.7 581.2,822.9 581.0,822.9 580.8,822.8 580.5,822.8 580.2,822.7 580.0,822.8 579.5,822.8 579.2,822.8 579.0,822.9 578.8,822.7 578.5,822.7 578.2,823.1 578.0,823.0 577.2,823.0 577.0,823.1 576.8,823.1 576.5,824.0 576.2,823.2 575.8,823.2 575.5,823.1 575.0,823.1 574.8,823.0 574.5,823.0 574.2,823.1 574.0,823.0 573.8,823.1 573.5,823.0 573.2,823.0 573.0,823.1 572.8,823.9 568.8,823.9 568.5,822.5 567.5,822.4 567.2,822.5 567.0,822.5 566.8,822.4 566.5,822.4 566.2,822.3 565.8,822.3 565.5,822.5 565.2,822.6 565.0,822.5 564.8,822.4 564.5,822.3 564.2,822.6 564.0,822.5 563.8,822.6 563.5,821.7 562.2,821.7 562.0,822.3 561.5,822.3 561.2,824.0 561.0,822.3 560.8,821.8 560.5,821.8 560.2,823.5 559.8,823.4 559.5,823.5 559.0,823.4 558.8,823.5 558.5,823.5 558.2,823.4 557.5,823.4 557.2,823.5 557.0,823.4 556.8,822.4 556.2,822.4 556.0,822.2 554.5,822.2 554.2,821.9 554.0,821.9 553.8,822.1 552.0,822.0 551.8,822.4 551.5,822.2 551.2,822.3 551.0,822.4 550.8,822.4 550.5,822.2 550.2,822.3 550.0,822.5 549.8,822.2 549.2,822.2 549.0,822.1 548.5,822.1 548.2,822.0 547.5,822.0 547.2,821.9 546.2,821.9 546.0,822.2 545.8,822.1 545.5,822.3 545.2,822.1 545.0,822.0 544.8,822.1 544.5,822.1 544.2,822.3 543.5,822.3 543.2,822.4 543.0,822.3 542.8,822.3 542.5,822.3 542.2,822.5 542.0,822.3 541.8,822.2 541.5,822.3 541.2,822.4 541.0,822.2 540.5,822.3 540.2,824.0 535.0,824.0 534.8,822.6 534.5,822.6 534.2,822.6 534.0,822.6 533.8,822.6 533.5,822.6 533.2,822.6 533.0,822.6 532.8,822.7 532.5,822.7 532.2,822.5 532.0,822.7 531.8,822.5 531.5,822.7 531.2,822.7 531.0,822.5 530.8,822.3 530.2,822.3 530.0,821.9 529.8,821.8 529.5,821.8 529.2,822.2 528.8,822.2 528.5,822.2 526.2,822.2 526.0,821.7 525.8,824.0 521.8,824.0 521.5,823.2 521.2,823.1 521.0,823.1 520.8,823.1 520.5,823.2 520.2,824.0 520.0,823.1 519.8,823.1 519.2,823.1 519.0,823.2 518.8,823.2 518.5,823.1 518.2,823.2 518.0,823.2 517.8,823.1 517.5,823.2 517.2,823.2 517.0,823.1 516.8,822.4 516.5,822.5 516.2,822.6 516.0,822.5 515.8,822.5 515.5,822.4 515.2,822.5 515.0,822.4 514.8,822.6 514.5,822.4 514.0,822.4 513.8,822.5 513.5,822.6 513.2,822.5 513.0,822.6 512.8,822.4 512.5,822.5 512.0,822.5 511.8,822.4 511.5,822.5 511.2,822.4 511.0,822.6 510.8,822.5 510.5,822.6 510.2,822.4 510.0,822.6 509.8,823.6 505.2,823.6 505.0,823.6 504.8,822.6 504.5,822.5 504.2,822.4 504.0,822.5 503.8,824.0 503.5,822.4 503.2,822.5 503.0,822.5 502.5,822.5 502.2,822.5 501.8,822.5 501.5,823.3 500.8,823.3 500.5,824.0 500.2,823.3 499.2,823.2 499.0,823.3 498.5,823.3 498.2,823.3 498.0,823.3 497.8,823.3 497.5,823.3 497.2,822.4 496.5,822.4 496.2,822.2 496.0,822.4 495.8,822.3 495.2,822.4 495.0,822.3 494.8,822.2 494.5,823.0 494.2,822.9 494.0,823.0 493.5,823.0 493.2,822.9 493.0,823.0 492.8,823.0 492.5,822.9 492.2,823.0 492.0,822.9 491.8,822.9 491.5,823.0 491.2,822.9 491.0,823.0 490.8,822.9 490.5,823.0 489.8,823.0 489.5,822.0 489.2,821.7 489.0,822.0 488.8,822.0 488.2,822.0 488.0,822.3 487.8,824.0 487.5,822.3 486.5,822.3 486.2,821.8 486.0,821.9 485.8,821.8 485.5,821.9 485.2,822.0 485.0,821.9 484.8,822.2 484.5,823.1 484.2,823.1 484.0,823.2 483.8,823.2 483.5,823.2 483.2,823.1 483.0,823.2 482.8,823.1 482.5,823.2 482.2,823.1 482.0,823.2 481.8,823.2 481.5,823.1 481.2,823.2 480.8,823.2 480.5,823.2 480.2,823.3 480.0,823.3 479.8,823.2 479.5,823.3 478.8,823.2 478.5,823.2 478.2,823.3 477.8,823.3 477.5,823.2 476.5,823.2 476.2,823.3 476.0,823.2 475.8,823.4 475.5,823.4 475.2,823.4 475.0,824.0 474.8,823.4 473.2,823.4 473.0,822.5 472.8,822.5 472.5,822.3 472.2,822.6 472.0,822.6 471.8,822.5 471.5,822.4 471.2,822.6 471.0,822.3 470.8,822.8 470.5,822.7 470.2,822.7 470.0,822.7 469.8,822.7 469.2,822.7 469.0,822.6 468.8,822.7 468.5,822.8 468.2,822.6 468.0,822.7 467.8,822.8 467.5,822.3 466.8,822.3 466.5,821.8 466.2,821.8 466.0,822.1 465.5,822.1 465.2,822.0 465.0,821.6 464.8,822.0 464.5,821.9 464.2,821.6 464.0,821.9 463.8,821.9 463.5,821.8 463.2,822.6 463.0,822.4 462.8,822.6 462.5,822.5 461.8,822.5 461.5,822.4 461.0,822.4 460.8,822.6 460.2,822.6 460.0,822.4 459.8,822.5 459.5,822.4 459.2,822.6 459.0,822.7 458.8,822.4 458.5,822.4 458.2,822.6 458.0,821.7 457.0,821.7 456.8,824.0 456.5,821.3 456.2,821.5 456.0,821.5 455.8,821.3 455.5,824.0 455.2,824.0 455.0,821.9 454.5,821.9 454.2,821.7 454.0,821.7 453.8,824.0 450.2,824.0 450.0,823.7 446.2,823.7 446.0,822.8 444.8,822.8 444.5,822.9 444.2,822.8 444.0,824.0 443.8,822.8 443.5,822.7 443.2,822.9 443.0,822.8 442.8,822.9 442.5,822.8 442.2,822.8 442.0,822.8 441.8,822.8 441.5,822.9 441.2,822.8 441.0,822.8 440.8,822.9 440.5,822.9 440.2,822.8 440.0,821.7 439.2,821.7 439.0,821.9 438.0,821.9 437.8,822.6 437.5,822.5 437.2,822.5 437.0,822.6 436.8,822.5 436.5,822.6 436.0,822.6 435.8,822.5 435.5,822.5 435.2,822.4 435.0,822.1 434.5,822.1 434.2,821.4 434.0,824.0 433.8,821.4 432.8,821.4 432.5,821.8 432.0,821.8 431.8,821.9 430.5,821.9 430.2,821.3 429.2,821.2 429.0,824.0 428.8,822.8 428.5,822.7 427.5,822.8 427.2,822.8 426.8,822.8 426.5,822.7 426.2,822.7 426.0,823.9 422.2,824.0 422.0,823.7 419.2,823.8 419.0,823.4 418.8,823.4 418.5,823.5 417.5,823.5 417.2,823.4 416.8,823.4 416.5,823.5 416.2,822.9 416.0,823.1 415.8,823.1 415.5,823.0 415.2,823.1 415.0,823.0 414.8,823.1 414.5,822.9 414.2,823.1 414.0,822.9 413.8,823.1 413.5,823.1 413.2,823.0 413.0,823.1 412.8,823.0 412.5,823.0 412.2,822.9 412.0,822.9 411.8,823.1 411.5,822.9 411.2,824.0 405.8,824.0 405.5,822.2 405.2,822.3 405.0,822.3 404.8,822.2 404.5,822.2 404.2,822.3 404.0,822.3 403.8,822.4 403.5,823.4 402.0,823.4 401.8,823.5 400.5,823.5 400.2,823.4 399.8,823.5 399.5,823.5 399.2,821.7 399.0,821.7 398.8,821.8 398.0,821.8 397.8,821.8 397.5,821.9 397.2,821.8 396.5,821.8 396.2,821.7 396.0,821.9 395.8,821.7 395.5,821.6 395.2,821.5 395.0,821.6 394.8,821.8 393.2,821.8 393.0,822.0 391.5,822.0 391.2,821.5 391.0,821.3 390.8,821.3 390.5,821.4 390.2,821.5 390.0,821.4 389.5,821.4 389.2,821.4 389.0,822.1 388.5,822.1 388.2,822.5 388.0,822.5 387.8,822.6 387.5,822.4 387.2,822.5 386.8,822.5 386.5,822.3 386.2,822.4 386.0,822.5 385.8,822.5 385.5,822.4 385.2,822.5 385.0,823.4 384.8,823.5 384.0,823.5 383.8,823.4 383.5,823.4 383.2,823.1 382.5,823.1 382.2,823.2 382.0,823.1 381.8,823.1 381.5,823.2 381.2,823.0 381.0,823.0 380.8,823.1 380.5,823.2 380.2,823.0 380.0,822.6 379.8,822.7 379.5,822.7 379.2,822.6 379.0,822.6 378.8,822.7 378.2,822.6 378.0,822.7 377.8,822.5 377.5,822.7 377.2,822.6 377.0,822.6 376.8,822.7 376.5,822.5 376.0,822.5 375.8,823.2 375.5,823.2 375.2,823.1 375.0,823.3 374.8,823.1 374.2,823.2 374.0,823.3 373.8,823.2 373.5,823.3 373.2,823.2 373.0,823.2 372.8,823.3 372.5,823.2 372.0,823.3 371.8,823.2 371.5,823.2 371.2,823.9 369.8,823.9 369.5,823.9 366.0,823.9 365.8,821.9 365.5,821.8 365.2,822.1 365.0,822.1 364.8,824.0 364.5,821.9 364.2,822.0 364.0,821.7 363.8,821.8 363.5,822.0 363.2,821.9 363.0,822.1 362.8,822.0 362.5,822.0 362.2,821.8 362.0,822.1 361.8,821.8 361.2,821.8 361.0,822.0 360.8,821.9 360.5,822.1 360.2,822.0 360.0,821.8 359.8,823.4 359.5,823.3 359.2,823.4 358.8,823.4 358.5,823.3 358.2,824.0 358.0,823.4 357.0,823.3 356.8,823.4 356.5,823.3 355.8,823.4 355.5,823.3 355.2,823.2 355.0,823.3 354.8,823.2 354.5,823.3 354.2,824.0 354.0,823.3 353.8,823.3 353.5,823.2 353.2,823.2 353.0,823.3 352.8,823.2 352.0,823.2 351.8,822.5 351.5,822.5 350.8,822.5 350.5,822.6 350.2,822.5 350.0,822.5 349.8,822.6 349.5,822.7 349.2,822.7 349.0,822.5 348.8,822.7 348.5,822.6 348.2,822.6 348.0,822.5 347.8,824.0 347.5,822.7 347.2,822.7 347.0,822.5 346.8,822.5 346.5,822.7 346.2,822.5 346.0,821.7 345.8,821.6 345.5,821.6 345.2,821.7 345.0,821.6 344.8,821.7 344.5,821.9 344.2,821.7 344.0,821.6 343.8,821.9 343.5,824.0 343.2,821.6 343.0,821.8 342.8,821.7 342.5,824.0 342.2,821.7 342.0,821.9 341.8,821.7 341.2,821.8 341.0,821.6 340.8,821.9 340.5,824.0 336.2,824.0 336.0,823.3 335.8,823.3 335.5,823.4 335.0,823.4 334.8,823.3 334.5,823.3 334.2,823.4 334.0,823.3 333.2,823.4 333.0,823.3 332.8,823.4 332.5,823.4 332.2,823.3 332.0,823.3 331.8,823.4 331.5,823.3 331.2,823.3 331.0,823.0 330.5,823.0 330.2,823.0 329.8,823.0 329.5,823.1 329.2,823.0 329.0,822.9 328.8,823.0 328.5,822.9 328.2,823.0 328.0,822.9 327.8,822.5 327.5,822.4 327.2,822.4 327.0,822.5 326.8,822.6 326.5,822.6 326.2,822.4 326.0,822.5 325.8,822.5 325.5,822.4 325.2,822.4 325.0,822.5 324.8,822.4 324.5,822.5 324.2,822.6 324.0,822.6 323.8,822.5 323.5,822.4 323.2,822.5 323.0,822.6 322.8,820.9 322.5,821.1 322.2,821.0 322.0,821.3 321.8,821.0 321.5,821.0 321.2,821.1 321.0,821.4 320.8,820.9 320.5,821.2 320.2,824.0 320.0,821.3 319.8,821.1 319.5,821.2 319.2,821.3 319.0,821.0 318.8,821.4 318.5,821.2 318.2,821.0 318.0,821.0 317.8,822.4 317.5,822.5 317.2,822.6 317.0,822.4 316.8,822.5 316.2,822.4 316.0,823.9 310.8,823.8 310.5,822.7 310.2,822.7 310.0,822.8 309.8,822.7 309.5,822.7 309.2,822.6 309.0,822.8 308.8,822.6 308.2,822.6 308.0,824.0 307.8,822.7 307.5,822.6 307.2,822.7 307.0,822.8 306.8,822.8 306.5,822.6 306.2,822.7 306.0,823.3 305.8,823.3 305.5,823.4 305.2,823.4 305.0,823.3 304.8,824.0 304.5,824.0 304.2,823.3 304.0,824.0 303.8,823.4 303.2,823.3 303.0,823.6 300.2,823.7 300.0,821.3 299.8,821.3 299.5,821.2 299.2,821.6 299.0,821.4 298.8,821.2 298.5,821.2 298.2,824.0 298.0,821.5 297.8,823.2 297.5,823.3 297.2,823.3 297.0,823.3 296.8,823.3 296.5,823.4 296.0,823.4 295.8,823.3 295.0,823.3 294.8,822.8 294.5,822.6 294.2,822.7 294.0,822.8 293.8,822.8 293.5,822.7 293.2,822.7 293.0,822.7 292.8,822.7 292.0,822.7 291.8,822.8 291.5,822.8 291.2,822.7 291.0,822.8 290.8,822.8 290.5,822.7 290.2,822.7 290.0,822.1 289.8,822.3 289.5,822.4 289.2,822.0 289.0,822.0 288.8,822.3 288.5,822.9 288.2,822.9 288.0,822.8 287.8,822.9 287.5,822.9 287.2,823.0 287.0,822.9 286.8,822.8 286.5,822.9 286.2,823.0 286.0,822.8 285.8,822.9 285.5,822.8 285.2,823.0 285.0,822.8 284.8,822.9 284.5,823.2 284.2,823.1 284.0,823.1 283.8,823.1 283.0,823.2 282.8,823.0 282.5,823.2 282.0,823.1 281.8,823.1 281.5,823.1 281.2,823.0 281.0,823.0 280.8,823.1 280.5,823.1 280.2,823.2 280.0,823.1 279.8,823.1 279.5,823.1 279.2,821.5 279.0,821.7 278.8,821.5 278.5,821.4 278.2,821.8 278.0,821.7 277.8,821.6 277.5,821.5 277.2,821.7 277.0,821.7 276.8,821.8 276.5,821.7 276.2,821.8 276.0,821.7 275.8,821.4 275.5,821.4 275.2,821.8 275.0,821.4 274.8,821.8 274.5,821.4 274.2,822.4 274.0,822.4 273.8,822.4 273.5,822.3 273.2,822.4 273.0,822.6 272.8,822.5 272.5,822.3 272.2,822.6 272.0,822.5 271.8,822.3 271.5,822.4 271.2,822.6 271.0,822.5 270.8,822.6 270.5,821.6 270.2,821.4 270.0,821.5 269.8,821.2 269.5,821.3 269.2,821.3 269.0,821.6 268.8,821.2 268.5,821.5 268.2,821.2 268.0,821.4 267.8,821.5 267.5,821.6 267.2,821.5 267.0,821.3 266.8,821.4 266.5,823.6 264.5,823.6 264.2,823.5 264.0,823.5 263.8,823.6 263.2,823.6 263.0,824.0 262.8,823.6 259.2,823.6 259.0,823.5 257.8,823.6 257.5,823.5 257.2,823.6 257.0,824.0 256.8,823.5 256.5,822.6 256.2,822.7 256.0,822.5 255.8,822.6 255.5,822.6 255.2,822.6 255.0,822.7 254.8,822.6 254.5,822.6 254.2,822.7 254.0,822.5 253.5,822.5 253.2,822.7 253.0,822.6 252.8,822.5 252.5,822.6 252.2,822.6 252.0,822.5 251.8,822.7 251.5,822.6 251.2,822.3 250.5,822.4 250.2,822.3 250.0,824.0 249.8,822.5 249.5,822.3 249.2,822.3 249.0,822.4 248.8,822.3 248.5,822.3 248.2,822.5 248.0,822.9 247.8,822.8 247.5,822.7 247.2,822.9 247.0,822.9 246.8,822.8 246.5,822.9 246.2,822.8 246.0,822.8 245.8,822.9 245.0,822.8 244.8,823.3 244.5,824.0 244.2,823.3 244.0,823.4 243.8,823.3 243.5,823.3 243.0,823.4 242.8,823.3 242.5,823.4 242.2,823.3 241.8,823.3 241.5,823.3 241.2,823.3 241.0,823.4 240.8,823.3 240.5,823.4 240.2,823.3 239.8,823.3 239.5,824.0 235.8,824.0 235.5,820.4 235.2,821.3 234.0,821.3 233.8,823.0 233.5,822.9 232.8,822.8 232.5,823.0 232.2,822.9 232.0,823.0 231.8,823.0 231.5,822.9 231.0,822.9 230.8,823.0 230.5,822.9 230.2,822.8 230.0,823.9 226.2,823.9 226.0,823.7 223.5,823.8 223.2,823.3 223.0,823.2 222.8,823.3 221.5,823.3 221.2,823.3 220.8,823.2 220.5,824.0 215.0,824.0 214.8,821.3 214.5,821.1 213.8,821.1 213.5,821.4 213.2,823.6 211.8,823.6 211.5,824.0 211.2,823.6 210.5,823.7 210.2,823.6 208.8,823.6 208.5,823.3 208.2,824.0 208.0,823.3 207.8,823.2 206.8,823.3 206.5,824.0 206.2,823.2 206.0,823.2 205.8,823.3 205.2,823.2 205.0,823.2 204.8,823.3 204.5,824.0 204.2,820.5 204.0,820.4 203.8,820.6 203.5,820.3 203.2,820.6 201.8,820.6 201.5,820.9 201.2,823.3 200.5,823.3 200.2,823.2 200.0,824.0 199.8,823.3 199.5,823.2 199.0,823.2 198.8,823.3 198.5,823.2 196.8,823.2 196.5,823.3 196.2,823.2 196.0,823.2 195.8,822.3 195.5,822.3 195.2,822.5 195.0,824.0 194.8,822.4 194.5,822.5 194.2,822.3 194.0,822.3 193.8,822.4 193.5,822.3 193.2,822.2 193.0,822.4 192.8,822.4 192.5,822.5 192.2,822.4 192.0,822.3 191.8,822.3 191.5,822.4 191.2,822.5 191.0,822.4 190.8,822.5 190.5,822.5 190.2,822.6 190.0,822.5 189.8,822.5 189.5,822.7 189.2,822.6 189.0,822.4 188.8,822.6 188.5,822.7 188.2,822.5 188.0,822.6 187.8,822.7 187.5,822.6 187.2,823.9 183.2,823.9 183.0,822.1 182.8,824.0 182.5,821.9 182.2,821.8 182.0,822.1 181.8,821.8 181.5,821.8 181.2,822.1 180.5,822.1 180.2,822.0 180.0,821.9 179.8,822.0 179.5,821.8 179.2,821.8 179.0,821.9 178.8,822.0 178.5,822.0 178.2,822.0 178.0,824.0 172.8,824.0 172.5,822.5 172.2,822.6 172.0,822.6 171.8,822.5 171.5,822.6 171.2,822.5 171.0,822.7 170.8,822.6 170.5,822.6 170.2,822.7 170.0,821.5 169.8,821.4 169.5,821.4 169.2,821.3 169.0,821.7 168.8,824.0 168.5,821.6 168.2,821.7 168.0,821.2 167.8,821.1 167.5,821.2 167.2,821.0 167.0,821.4 166.8,821.3 166.5,821.0 166.2,824.0 166.0,821.0 165.8,821.5 165.5,822.4 165.2,822.3 165.0,822.2 164.8,822.4 164.5,822.3 164.2,822.1 164.0,822.4 163.8,822.4 163.5,822.2 163.2,822.3 163.0,822.1 162.8,822.1 162.5,822.2 162.2,822.2 162.0,822.1 161.8,822.2 161.5,822.2 161.2,822.4 161.0,822.3 160.8,822.1 160.5,822.3 160.2,822.3 160.0,822.1 159.8,822.2 159.5,822.1 159.2,822.0 159.0,821.9 158.8,822.0 158.5,822.1 158.2,822.0 158.0,821.9 157.8,821.9 157.5,822.3 157.2,822.1 157.0,822.1 156.5,822.1 156.2,822.2 156.0,822.1 155.8,822.0 155.2,822.0 155.0,822.1 154.8,822.0 154.5,822.1 154.2,821.9 154.0,822.1 153.8,822.0 153.5,821.9 153.2,822.1 153.0,822.0 152.8,822.2 152.5,822.1 152.0,822.1 151.8,822.1 151.0,822.0 150.8,821.9 150.5,822.0 150.2,823.7 146.0,823.7 145.8,823.4 145.2,823.4 145.0,823.3 144.8,823.3 144.5,823.3 144.2,823.4 143.0,823.3 142.8,823.3 142.0,823.4 141.8,823.3 139.0,823.4 138.8,823.5 138.5,823.5 137.0,823.5 136.8,824.0 136.5,823.5 135.5,823.5 135.2,824.0 130.8,824.0 130.5,823.2 130.2,823.1 130.0,823.2 129.8,823.2 129.5,823.1 129.2,823.2 129.0,823.2 128.8,823.2 128.5,823.2 128.2,823.1 127.8,823.1 127.5,823.3 127.0,823.3 126.8,823.3 126.0,823.3 125.8,823.4 125.5,823.4 125.2,823.3 125.0,823.4 124.5,823.4 124.2,823.3 124.0,823.3 123.8,823.3 123.2,823.3 123.0,823.4 122.8,823.3 122.0,823.4 121.8,823.3 121.5,824.0 118.2,824.0 118.0,822.1 117.8,822.4 117.5,822.2 117.2,822.3 116.8,822.3 116.5,822.2 116.2,823.2 116.0,823.1 115.8,823.1 115.5,823.1 115.2,823.0 115.0,823.2 114.8,824.0 114.5,823.1 114.2,823.1 114.0,823.1 113.8,823.4 113.2,823.4 113.0,823.3 112.8,823.4 112.5,823.3 112.2,823.3 112.0,823.4 111.8,823.3 111.2,823.3 111.0,823.3 110.5,823.2 110.2,823.3 110.0,823.3 109.8,823.2 109.5,823.3 109.2,823.2 109.0,823.3 108.8,823.2 108.5,823.3 108.2,823.2 108.0,823.3 107.8,823.2 107.5,823.2 107.2,824.0 107.0,823.2 106.8,823.3 106.5,822.2 106.2,822.3 106.0,822.1 105.8,822.3 105.5,822.3 105.2,822.3 105.0,822.2 104.8,822.2 104.5,822.3 104.2,824.0 104.0,822.2 103.8,822.2 103.5,822.0 103.2,821.9 102.2,821.9 102.0,822.0 101.8,821.9 101.5,822.0 101.2,821.9 101.0,822.0 100.8,821.8 100.5,822.4 100.2,822.6 100.0,822.5 99.8,822.6 99.2,822.5 99.0,822.4 98.8,822.6 98.5,822.5 97.8,822.5 97.5,822.3 97.2,822.5 97.0,822.3 96.8,822.2 96.5,822.3 96.2,823.6 94.5,823.6 94.2,823.8 91.0,823.8 90.8,824.0 90.5,820.6 90.2,820.6 90.0,820.4 89.8,820.1 89.5,820.6 89.2,820.0 88.8,819.9 88.5,823.7 86.2,823.7 86.0,820.2 85.8,820.3 85.5,820.4 85.2,820.4 85.0,820.2 84.8,820.4 84.5,820.3 84.2,820.1 83.8,820.1 83.5,819.8 83.2,820.0 83.0,820.2 82.8,820.0 82.5,819.5 82.2,820.1 82.0,820.0 81.8,819.8 81.5,819.8 81.2,816.7 81.0,817.0 80.8,815.4 80.5,815.5 80.2,816.3 80.0,816.2 79.8,815.4 79.5,815.7 79.2,815.6 79.0,815.8 78.8,815.2 78.5,815.4 78.2,816.5 78.0,816.5 77.8,815.5 77.5,815.6 77.2,816.4 77.0,814.8 76.8,814.9 76.5,815.2 76.2,814.8 76.0,822.9 75.5,822.9 75.2,823.0 75.0,822.9 74.8,822.8 74.5,823.0 74.2,823.0 74.0,822.8 73.8,823.0 73.5,822.9 73.2,823.0 73.0,822.8 72.5,822.8 72.2,822.9 72.0,822.8 71.8,822.8 71.5,821.1 71.2,820.8 71.0,820.7 70.8,821.0 70.5,820.7 70.2,820.8 70.0,820.3 69.8,819.1 69.5,819.4 69.2,817.4 69.0,816.8 68.8,816.5 68.5,815.1 68.2,815.5 68.0,814.1 67.8,813.9 67.5,821.2 67.2,820.9 67.0,820.5 66.8,820.2 66.5,820.5 66.2,820.4 66.0,819.6 65.8,819.8 65.5,819.8 65.2,819.3 65.0,818.8 64.8,807.1 64.5,824.0 64.2,806.3 64.0,805.8 63.8,805.4 63.5,804.9 63.2,807.9 63.0,807.5 62.8,807.2 62.5,806.8 62.2,806.4 62.0,806.1 61.8,805.6 61.5,824.0 61.2,805.9 61.0,805.4 60.8,807.1 60.5,806.7 60.2,797.6 60.0,807.0 59.8,808.2 59.5,806.6 59.2,806.7 59.0,806.0 58.8,807.3 58.5,808.8 58.2,807.2 58.0,821.9 57.8,822.0 57.5,822.0 57.2,821.6 57.0,821.7 56.8,821.7 56.5,822.0 56.2,821.7 56.0,821.8 55.8,821.9 55.5,822.0 55.2,821.7 55.0,821.8 54.8,821.6 54.5,821.9 54.2,821.8 54.0,821.7 53.8,821.8 53.5,821.9Z" fill="#1f77b4" stroke="#1f77b4" stroke-width="1.8" stroke-linejoin="round"/>
<line x1="578.0" x2="611.8" y1="819.91" y2="819.91" stroke="#000" stroke-width="3.6"/>
<path d="M53.5,823.55 H642.5 M73.71,823.95 L74.11,813.82 L74.52,823.95 M334.33,823.95 L334.73,821.70 L335.13,823.95 M584.88,823.95 L585.28,802.94 L585.68,823.95 M595.06,823.95 L595.46,691.11 L595.86,823.95 M614.05,823.95 L614.45,767.66 L614.85,823.95" fill="none" stroke="#ff7f0e" stroke-width="1.3" stroke-dasharray="1.3 1.87"/>
</g>
<rect x="53.50" y="673.85" width="589.00" height="150.10" fill="none" stroke="#808080" stroke-width="1"/>
<path clip-path="url(#c4)" d="M53.85,823.95 V708.37" fill="none" stroke="#ff7f0e" stroke-width="1.3" stroke-dasharray="1.3 1.87"/>
<path d="M53.00,823.95 h-2.0 M53.00,795.08 h-2.0 M53.00,766.22 h-2.0 M53.00,737.35 h-2.0 M53.00,708.49 h-2.0 M53.00,679.62 h-2.0 M643.00,823.95 h2.0 M643.00,786.43 h2.0 M643.00,748.90 h2.0 M643.00,711.38 h2.0 M643.00,673.85 h2.0 M53.50,824.45 v2.4 M67.52,824.45 v1.4 M81.55,824.45 v1.4 M95.57,824.45 v1.4 M109.60,824.45 v1.4 M123.62,824.45 v2.4 M137.64,824.45 v1.4 M151.67,824.45 v1.4 M165.69,824.45 v1.4 M179.71,824.45 v1.4 M193.74,824.45 v2.4 M207.76,824.45 v1.4 M221.79,824.45 v1.4 M235.81,824.45 v1.4 M249.83,824.45 v1.4 M263.86,824.45 v2.4 M277.88,824.45 v1.4 M291.90,824.45 v1.4 M305.93,824.45 v1.4 M319.95,824.45 v1.4 M333.98,824.45 v2.4 M348.00,824.45 v1.4 M362.02,824.45 v1.4 M376.05,824.45 v1.4 M390.07,824.45 v1.4 M404.10,824.45 v2.4 M418.12,824.45 v1.4 M432.14,824.45 v1.4 M446.17,824.45 v1.4 M460.19,824.45 v1.4 M474.21,824.45 v2.4 M488.24,824.45 v1.4 M502.26,824.45 v1.4 M516.29,824.45 v1.4 M530.31,824.45 v1.4 M544.33,824.45 v2.4 M558.36,824.45 v1.4 M572.38,824.45 v1.4 M586.40,824.45 v1.4 M600.43,824.45 v1.4 M614.45,824.45 v2.4 M628.48,824.45 v1.4 M642.50,824.45 v1.4" stroke="#333" stroke-width="0.9" fill="none"/>
<text x="49.20" y="828.35" font-size="10.5" text-anchor="end" textLength="23.38" lengthAdjust="spacingAndGlyphs">0.00</text>
<text x="49.20" y="799.48" font-size="10.5" text-anchor="end" textLength="23.38" lengthAdjust="spacingAndGlyphs">0.05</text>
<text x="49.20" y="770.62" font-size="10.5" text-anchor="end" textLength="23.38" lengthAdjust="spacingAndGlyphs">0.10</text>
<text x="49.20" y="741.75" font-size="10.5" text-anchor="end" textLength="23.38" lengthAdjust="spacingAndGlyphs">0.15</text>
<text x="49.20" y="712.89" font-size="10.5" text-anchor="end" textLength="23.38" lengthAdjust="spacingAndGlyphs">0.20</text>
<text x="49.20" y="684.02" font-size="10.5" text-anchor="end" textLength="23.38" lengthAdjust="spacingAndGlyphs">0.25</text>
<text x="646.40" y="828.35" font-size="10.5" textLength="6.68" lengthAdjust="spacingAndGlyphs">0</text>
<text x="646.40" y="790.83" font-size="10.5" textLength="6.68" lengthAdjust="spacingAndGlyphs">5</text>
<text x="646.40" y="753.30" font-size="10.5" textLength="13.36" lengthAdjust="spacingAndGlyphs">10</text>
<text x="646.40" y="715.77" font-size="10.5" textLength="13.36" lengthAdjust="spacingAndGlyphs">15</text>
<text x="646.40" y="678.25" font-size="10.5" textLength="13.36" lengthAdjust="spacingAndGlyphs">20</text>
<text x="64.80" y="696.55" font-size="14.3" textLength="13.27" lengthAdjust="spacingAndGlyphs">e)</text>
<text x="94.00" y="696.55" font-size="14.3" textLength="92.46" lengthAdjust="spacingAndGlyphs">PUYO (1-4 Hz)</text>
<text x="322.60" y="787.50" font-size="14.3" textLength="21.22" lengthAdjust="spacingAndGlyphs">1/d</text>
<text x="617.20" y="812.30" font-size="14.3" textLength="21.22" lengthAdjust="spacingAndGlyphs">2/d</text>
<text x="53.50" y="836.90" font-size="10.5" text-anchor="middle" textLength="23.38" lengthAdjust="spacingAndGlyphs">0.00</text>
<text x="123.62" y="836.90" font-size="10.5" text-anchor="middle" textLength="23.38" lengthAdjust="spacingAndGlyphs">0.25</text>
<text x="193.74" y="836.90" font-size="10.5" text-anchor="middle" textLength="23.38" lengthAdjust="spacingAndGlyphs">0.50</text>
<text x="263.86" y="836.90" font-size="10.5" text-anchor="middle" textLength="23.38" lengthAdjust="spacingAndGlyphs">0.75</text>
<text x="333.98" y="836.90" font-size="10.5" text-anchor="middle" textLength="23.38" lengthAdjust="spacingAndGlyphs">1.00</text>
<text x="404.10" y="836.90" font-size="10.5" text-anchor="middle" textLength="23.38" lengthAdjust="spacingAndGlyphs">1.25</text>
<text x="474.21" y="836.90" font-size="10.5" text-anchor="middle" textLength="23.38" lengthAdjust="spacingAndGlyphs">1.50</text>
<text x="544.33" y="836.90" font-size="10.5" text-anchor="middle" textLength="23.38" lengthAdjust="spacingAndGlyphs">1.75</text>
<text x="614.45" y="836.90" font-size="10.5" text-anchor="middle" textLength="23.38" lengthAdjust="spacingAndGlyphs">2.00</text>
<text x="298.60" y="848.50" font-size="10.8" textLength="83.10" lengthAdjust="spacingAndGlyphs">Frequency (day</text>
<text x="383.00" y="845.60" font-size="7.5" textLength="9.20" lengthAdjust="spacingAndGlyphs">&#8722;1</text>
<text x="392.60" y="848.50" font-size="10.8">)</text>
<text transform="translate(8.90,500.20) rotate(-90)" font-size="10.8" textLength="172.00" lengthAdjust="spacingAndGlyphs">Spectral amplitudes of dv/v (%)</text>
<text transform="translate(683.80,547.30) rotate(-90)" font-size="10.8" textLength="266.40" lengthAdjust="spacingAndGlyphs">Spectral amplitudes of synthetic vol. strain (nstr)</text>
<rect x="284.60" y="9.40" width="127.00" height="30.90" rx="2" ry="2" fill="#fff" fill-opacity="0.8" stroke="#d5d5d5" stroke-width="1"/>
<line x1="287.00" x2="308.70" y1="16.80" y2="16.80" stroke="#1f77b4" stroke-width="1.8"/>
<line x1="287.00" x2="308.70" y1="30.80" y2="30.80" stroke="#ff7f0e" stroke-width="1.3" stroke-dasharray="1.3 1.87"/>
<text x="314.60" y="20.60" font-size="10.0" textLength="70.64" lengthAdjust="spacingAndGlyphs">Measured dv/v</text>
<text x="314.60" y="34.30" font-size="10.0" textLength="92.71" lengthAdjust="spacingAndGlyphs">Syn. SET vol. strain</text>
</svg></body></html>
